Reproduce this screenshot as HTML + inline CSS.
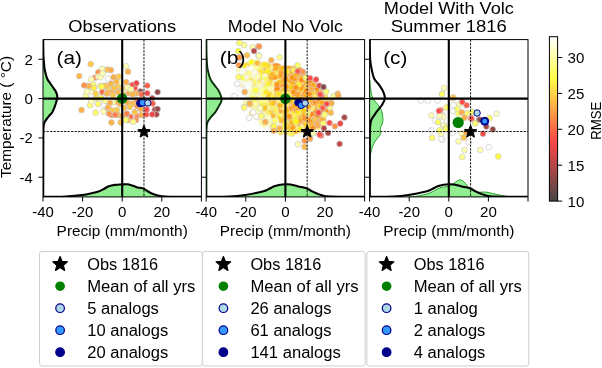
<!DOCTYPE html><html><head><meta charset="utf-8"><style>html,body{margin:0;padding:0;background:#fff;overflow:hidden}svg{display:block;will-change:transform}</style></head><body><svg width="602" height="368" viewBox="0 0 602 368" font-family="Liberation Sans, sans-serif" fill="#000">
<rect width="602" height="368" fill="#fff"/>
<defs>
<clipPath id="clipa"><rect x="43.0" y="39.6" width="158.4" height="157.3"/></clipPath>
<clipPath id="clipb"><rect x="206.2" y="39.6" width="158.4" height="157.3"/></clipPath>
<clipPath id="clipc"><rect x="369.6" y="39.6" width="158.4" height="157.3"/></clipPath>
<linearGradient id="cbar" x1="0" y1="1" x2="0" y2="0">
<stop offset="0.000" stop-color="#474747"/>
<stop offset="0.050" stop-color="#614747"/>
<stop offset="0.100" stop-color="#7a4747"/>
<stop offset="0.150" stop-color="#934747"/>
<stop offset="0.200" stop-color="#ac4747"/>
<stop offset="0.250" stop-color="#c54747"/>
<stop offset="0.300" stop-color="#de4747"/>
<stop offset="0.350" stop-color="#f74747"/>
<stop offset="0.400" stop-color="#ff5847"/>
<stop offset="0.450" stop-color="#ff7047"/>
<stop offset="0.500" stop-color="#ff8847"/>
<stop offset="0.550" stop-color="#ffa147"/>
<stop offset="0.600" stop-color="#ffb947"/>
<stop offset="0.650" stop-color="#ffd147"/>
<stop offset="0.700" stop-color="#ffe947"/>
<stop offset="0.750" stop-color="#ffff4a"/>
<stop offset="0.800" stop-color="#ffff6e"/>
<stop offset="0.850" stop-color="#ffff93"/>
<stop offset="0.900" stop-color="#ffffb7"/>
<stop offset="0.950" stop-color="#ffffdb"/>
<stop offset="1.000" stop-color="#ffffff"/>
</linearGradient>
</defs>
<g clip-path="url(#clipa)">
<circle cx="152.2" cy="98.1" r="2.9" fill="#c54747" stroke="rgba(200,200,200,0.85)" stroke-width="0.8"/>
<circle cx="154.9" cy="109.5" r="2.9" fill="#b64747" stroke="rgba(200,200,200,0.85)" stroke-width="0.8"/>
<circle cx="156.5" cy="114.4" r="2.9" fill="#ac4747" stroke="rgba(200,200,200,0.85)" stroke-width="0.8"/>
<circle cx="157.6" cy="92.1" r="2.9" fill="#934747" stroke="rgba(200,200,200,0.85)" stroke-width="0.8"/>
<circle cx="140.4" cy="91.3" r="2.9" fill="#934747" stroke="rgba(200,200,200,0.85)" stroke-width="0.8"/>
<circle cx="157.6" cy="109.0" r="2.9" fill="#934747" stroke="rgba(200,200,200,0.85)" stroke-width="0.8"/>
<circle cx="137.0" cy="115.9" r="2.9" fill="#ff7d47" stroke="rgba(200,200,200,0.85)" stroke-width="0.8"/>
<circle cx="108.0" cy="88.0" r="2.9" fill="#ffd347" stroke="rgba(200,200,200,0.85)" stroke-width="0.8"/>
<circle cx="120.0" cy="104.0" r="2.9" fill="#ffb847" stroke="rgba(200,200,200,0.85)" stroke-width="0.8"/>
<circle cx="95.7" cy="112.7" r="2.9" fill="#ffff69" stroke="rgba(200,200,200,0.85)" stroke-width="0.8"/>
<circle cx="108.0" cy="78.8" r="2.9" fill="#ffffff" stroke="rgba(200,200,200,0.85)" stroke-width="0.8"/>
<circle cx="130.4" cy="117.0" r="2.9" fill="#ff5d47" stroke="rgba(200,200,200,0.85)" stroke-width="0.8"/>
<circle cx="116.3" cy="101.8" r="2.9" fill="#ffb347" stroke="rgba(200,200,200,0.85)" stroke-width="0.8"/>
<circle cx="127.2" cy="113.9" r="2.9" fill="#ff7d47" stroke="rgba(200,200,200,0.85)" stroke-width="0.8"/>
<circle cx="129.3" cy="106.8" r="2.9" fill="#ffc247" stroke="rgba(200,200,200,0.85)" stroke-width="0.8"/>
<circle cx="127.2" cy="90.0" r="2.9" fill="#ffffa1" stroke="rgba(200,200,200,0.85)" stroke-width="0.8"/>
<circle cx="128.0" cy="120.0" r="2.9" fill="#ffb847" stroke="rgba(200,200,200,0.85)" stroke-width="0.8"/>
<circle cx="127.7" cy="102.9" r="2.9" fill="#ffad47" stroke="rgba(200,200,200,0.85)" stroke-width="0.8"/>
<circle cx="130.4" cy="85.9" r="2.9" fill="#ff7d47" stroke="rgba(200,200,200,0.85)" stroke-width="0.8"/>
<circle cx="125.5" cy="119.7" r="2.9" fill="#ffff69" stroke="rgba(200,200,200,0.85)" stroke-width="0.8"/>
<circle cx="116.8" cy="110.0" r="2.9" fill="#ffc847" stroke="rgba(200,200,200,0.85)" stroke-width="0.8"/>
<circle cx="102.2" cy="85.9" r="2.9" fill="#fffc47" stroke="rgba(200,200,200,0.85)" stroke-width="0.8"/>
<circle cx="152.2" cy="114.4" r="2.9" fill="#f24747" stroke="rgba(200,200,200,0.85)" stroke-width="0.8"/>
<circle cx="137.0" cy="106.0" r="2.9" fill="#ff9447" stroke="rgba(200,200,200,0.85)" stroke-width="0.8"/>
<circle cx="107.5" cy="69.6" r="2.9" fill="#ffbd47" stroke="rgba(200,200,200,0.85)" stroke-width="0.8"/>
<circle cx="103.8" cy="105.1" r="2.9" fill="#ffffff" stroke="rgba(200,200,200,0.85)" stroke-width="0.8"/>
<circle cx="98.0" cy="104.0" r="2.9" fill="#ffff69" stroke="rgba(200,200,200,0.85)" stroke-width="0.8"/>
<circle cx="79.2" cy="76.1" r="2.9" fill="#ffb847" stroke="rgba(200,200,200,0.85)" stroke-width="0.8"/>
<circle cx="137.0" cy="100.0" r="2.9" fill="#ff9447" stroke="rgba(200,200,200,0.85)" stroke-width="0.8"/>
<circle cx="119.6" cy="82.6" r="2.9" fill="#ffffb1" stroke="rgba(200,200,200,0.85)" stroke-width="0.8"/>
<circle cx="134.8" cy="88.0" r="2.9" fill="#ff4e47" stroke="rgba(200,200,200,0.85)" stroke-width="0.8"/>
<circle cx="141.3" cy="115.0" r="2.9" fill="#ffad47" stroke="rgba(200,200,200,0.85)" stroke-width="0.8"/>
<circle cx="113.0" cy="102.4" r="2.9" fill="#ffffa1" stroke="rgba(200,200,200,0.85)" stroke-width="0.8"/>
<circle cx="107.6" cy="108.4" r="2.9" fill="#ffb847" stroke="rgba(200,200,200,0.85)" stroke-width="0.8"/>
<circle cx="91.8" cy="91.5" r="2.9" fill="#ffffc8" stroke="rgba(200,200,200,0.85)" stroke-width="0.8"/>
<circle cx="118.0" cy="92.0" r="2.9" fill="#ffb847" stroke="rgba(200,200,200,0.85)" stroke-width="0.8"/>
<circle cx="146.2" cy="114.4" r="2.9" fill="#ff4e47" stroke="rgba(200,200,200,0.85)" stroke-width="0.8"/>
<circle cx="109.8" cy="102.9" r="2.9" fill="#ffad47" stroke="rgba(200,200,200,0.85)" stroke-width="0.8"/>
<circle cx="100.4" cy="85.9" r="2.9" fill="#ffff69" stroke="rgba(200,200,200,0.85)" stroke-width="0.8"/>
<circle cx="104.8" cy="85.9" r="2.9" fill="#ffb847" stroke="rgba(200,200,200,0.85)" stroke-width="0.8"/>
<circle cx="90.7" cy="64.1" r="2.9" fill="#ffc847" stroke="rgba(200,200,200,0.85)" stroke-width="0.8"/>
<circle cx="87.9" cy="85.9" r="2.9" fill="#ffb347" stroke="rgba(200,200,200,0.85)" stroke-width="0.8"/>
<circle cx="146.7" cy="109.5" r="2.9" fill="#ff4747" stroke="rgba(200,200,200,0.85)" stroke-width="0.8"/>
<circle cx="132.6" cy="103.5" r="2.9" fill="#ffb847" stroke="rgba(200,200,200,0.85)" stroke-width="0.8"/>
<circle cx="136.0" cy="120.0" r="2.9" fill="#ff9447" stroke="rgba(200,200,200,0.85)" stroke-width="0.8"/>
<circle cx="108.2" cy="107.2" r="2.9" fill="#ffb347" stroke="rgba(200,200,200,0.85)" stroke-width="0.8"/>
<circle cx="147.3" cy="93.2" r="2.9" fill="#f24747" stroke="rgba(200,200,200,0.85)" stroke-width="0.8"/>
<circle cx="118.0" cy="115.0" r="2.9" fill="#ffb847" stroke="rgba(200,200,200,0.85)" stroke-width="0.8"/>
<circle cx="122.0" cy="88.0" r="2.9" fill="#ffc247" stroke="rgba(200,200,200,0.85)" stroke-width="0.8"/>
<circle cx="81.5" cy="110.0" r="2.9" fill="#ffb347" stroke="rgba(200,200,200,0.85)" stroke-width="0.8"/>
<circle cx="96.0" cy="98.0" r="2.9" fill="#ffee47" stroke="rgba(200,200,200,0.85)" stroke-width="0.8"/>
<circle cx="93.4" cy="84.8" r="2.9" fill="#ffff69" stroke="rgba(200,200,200,0.85)" stroke-width="0.8"/>
<circle cx="102.2" cy="92.0" r="2.9" fill="#ff6d47" stroke="rgba(200,200,200,0.85)" stroke-width="0.8"/>
<circle cx="118.5" cy="76.6" r="2.9" fill="#ffc847" stroke="rgba(200,200,200,0.85)" stroke-width="0.8"/>
<circle cx="120.7" cy="122.4" r="2.9" fill="#ffc247" stroke="rgba(200,200,200,0.85)" stroke-width="0.8"/>
<circle cx="95.7" cy="93.7" r="2.9" fill="#ffd347" stroke="rgba(200,200,200,0.85)" stroke-width="0.8"/>
<circle cx="89.1" cy="86.1" r="2.9" fill="#ffb347" stroke="rgba(200,200,200,0.85)" stroke-width="0.8"/>
<circle cx="111.4" cy="122.5" r="2.9" fill="#ffb347" stroke="rgba(200,200,200,0.85)" stroke-width="0.8"/>
<circle cx="126.1" cy="66.3" r="2.9" fill="#ffffb6" stroke="rgba(200,200,200,0.85)" stroke-width="0.8"/>
<circle cx="110.9" cy="83.7" r="2.9" fill="#ffb347" stroke="rgba(200,200,200,0.85)" stroke-width="0.8"/>
<circle cx="141.3" cy="94.3" r="2.9" fill="#ff6d47" stroke="rgba(200,200,200,0.85)" stroke-width="0.8"/>
<circle cx="124.0" cy="108.0" r="2.9" fill="#ffc247" stroke="rgba(200,200,200,0.85)" stroke-width="0.8"/>
<circle cx="117.4" cy="86.4" r="2.9" fill="#ffc847" stroke="rgba(200,200,200,0.85)" stroke-width="0.8"/>
<circle cx="112.0" cy="92.0" r="2.9" fill="#ffad47" stroke="rgba(200,200,200,0.85)" stroke-width="0.8"/>
<circle cx="111.4" cy="114.9" r="2.9" fill="#ff6d47" stroke="rgba(200,200,200,0.85)" stroke-width="0.8"/>
<circle cx="132.6" cy="84.8" r="2.9" fill="#ff4e47" stroke="rgba(200,200,200,0.85)" stroke-width="0.8"/>
<circle cx="106.0" cy="85.9" r="2.9" fill="#ffc247" stroke="rgba(200,200,200,0.85)" stroke-width="0.8"/>
<circle cx="112.0" cy="110.5" r="2.9" fill="#ffc847" stroke="rgba(200,200,200,0.85)" stroke-width="0.8"/>
<circle cx="110.9" cy="70.1" r="2.9" fill="#ffad47" stroke="rgba(200,200,200,0.85)" stroke-width="0.8"/>
<circle cx="127.7" cy="87.5" r="2.9" fill="#ffffa1" stroke="rgba(200,200,200,0.85)" stroke-width="0.8"/>
<circle cx="90.2" cy="105.1" r="2.9" fill="#ffff69" stroke="rgba(200,200,200,0.85)" stroke-width="0.8"/>
<circle cx="113.0" cy="95.3" r="2.9" fill="#ffc847" stroke="rgba(200,200,200,0.85)" stroke-width="0.8"/>
<circle cx="95.0" cy="77.7" r="2.9" fill="#ff9447" stroke="rgba(200,200,200,0.85)" stroke-width="0.8"/>
<circle cx="104.9" cy="100.8" r="2.9" fill="#ffff8f" stroke="rgba(200,200,200,0.85)" stroke-width="0.8"/>
<circle cx="126.6" cy="113.7" r="2.9" fill="#ff7d47" stroke="rgba(200,200,200,0.85)" stroke-width="0.8"/>
<circle cx="129.9" cy="106.7" r="2.9" fill="#ffc847" stroke="rgba(200,200,200,0.85)" stroke-width="0.8"/>
<circle cx="85.9" cy="95.9" r="2.9" fill="#ffff8f" stroke="rgba(200,200,200,0.85)" stroke-width="0.8"/>
<circle cx="126.1" cy="82.1" r="2.9" fill="#ffad47" stroke="rgba(200,200,200,0.85)" stroke-width="0.8"/>
<circle cx="102.1" cy="69.0" r="2.9" fill="#ffffb1" stroke="rgba(200,200,200,0.85)" stroke-width="0.8"/>
<circle cx="98.3" cy="72.3" r="2.9" fill="#ff9447" stroke="rgba(200,200,200,0.85)" stroke-width="0.8"/>
<circle cx="143.0" cy="100.0" r="2.9" fill="#ff4e47" stroke="rgba(200,200,200,0.85)" stroke-width="0.8"/>
<circle cx="136.4" cy="83.2" r="2.9" fill="#f24747" stroke="rgba(200,200,200,0.85)" stroke-width="0.8"/>
<circle cx="124.0" cy="95.0" r="2.9" fill="#ffad47" stroke="rgba(200,200,200,0.85)" stroke-width="0.8"/>
<circle cx="129.3" cy="93.2" r="2.9" fill="#ffad47" stroke="rgba(200,200,200,0.85)" stroke-width="0.8"/>
<circle cx="109.2" cy="113.8" r="2.9" fill="#ff9447" stroke="rgba(200,200,200,0.85)" stroke-width="0.8"/>
<circle cx="152.7" cy="103.5" r="2.9" fill="#ff5d47" stroke="rgba(200,200,200,0.85)" stroke-width="0.8"/>
<circle cx="122.0" cy="116.0" r="2.9" fill="#ffad47" stroke="rgba(200,200,200,0.85)" stroke-width="0.8"/>
<circle cx="101.1" cy="98.0" r="2.9" fill="#fffc47" stroke="rgba(200,200,200,0.85)" stroke-width="0.8"/>
<circle cx="131.0" cy="89.4" r="2.9" fill="#ffffa1" stroke="rgba(200,200,200,0.85)" stroke-width="0.8"/>
<circle cx="135.9" cy="93.2" r="2.9" fill="#ffad47" stroke="rgba(200,200,200,0.85)" stroke-width="0.8"/>
<circle cx="147.3" cy="85.6" r="2.9" fill="#ff5d47" stroke="rgba(200,200,200,0.85)" stroke-width="0.8"/>
<circle cx="106.5" cy="93.6" r="2.9" fill="#ffb847" stroke="rgba(200,200,200,0.85)" stroke-width="0.8"/>
<circle cx="113.6" cy="77.2" r="2.9" fill="#ffad47" stroke="rgba(200,200,200,0.85)" stroke-width="0.8"/>
<circle cx="115.2" cy="114.8" r="2.9" fill="#ff7d47" stroke="rgba(200,200,200,0.85)" stroke-width="0.8"/>
<circle cx="94.0" cy="88.0" r="2.9" fill="#ffee47" stroke="rgba(200,200,200,0.85)" stroke-width="0.8"/>
<circle cx="91.2" cy="79.3" r="2.9" fill="#ffffb1" stroke="rgba(200,200,200,0.85)" stroke-width="0.8"/>
<circle cx="134.8" cy="112.1" r="2.9" fill="#ffb847" stroke="rgba(200,200,200,0.85)" stroke-width="0.8"/>
<circle cx="132.6" cy="94.2" r="2.9" fill="#ffb847" stroke="rgba(200,200,200,0.85)" stroke-width="0.8"/>
<circle cx="103.3" cy="111.6" r="2.9" fill="#ffffb1" stroke="rgba(200,200,200,0.85)" stroke-width="0.8"/>
<circle cx="91.3" cy="101.3" r="2.9" fill="#ffffb6" stroke="rgba(200,200,200,0.85)" stroke-width="0.8"/>
<circle cx="101.6" cy="86.6" r="2.9" fill="#fffc47" stroke="rgba(200,200,200,0.85)" stroke-width="0.8"/>
<circle cx="107.6" cy="93.2" r="2.9" fill="#ffb347" stroke="rgba(200,200,200,0.85)" stroke-width="0.8"/>
<circle cx="98.3" cy="76.6" r="2.9" fill="#ffffb1" stroke="rgba(200,200,200,0.85)" stroke-width="0.8"/>
<circle cx="140.8" cy="109.0" r="2.9" fill="#ffad47" stroke="rgba(200,200,200,0.85)" stroke-width="0.8"/>
<circle cx="114.0" cy="88.0" r="2.9" fill="#ffc247" stroke="rgba(200,200,200,0.85)" stroke-width="0.8"/>
<circle cx="87.0" cy="91.5" r="2.9" fill="#ffffb1" stroke="rgba(200,200,200,0.85)" stroke-width="0.8"/>
<circle cx="128.0" cy="71.7" r="2.9" fill="#ffad47" stroke="rgba(200,200,200,0.85)" stroke-width="0.8"/>
<circle cx="100.5" cy="77.2" r="2.9" fill="#ffffb1" stroke="rgba(200,200,200,0.85)" stroke-width="0.8"/>
<circle cx="102.6" cy="73.4" r="2.9" fill="#ffffb1" stroke="rgba(200,200,200,0.85)" stroke-width="0.8"/>
<circle cx="84.1" cy="85.3" r="2.9" fill="#ff9447" stroke="rgba(200,200,200,0.85)" stroke-width="0.8"/>
<circle cx="116.3" cy="81.5" r="2.9" fill="#ffb847" stroke="rgba(200,200,200,0.85)" stroke-width="0.8"/>
<circle cx="133.2" cy="121.9" r="2.9" fill="#ffff8f" stroke="rgba(200,200,200,0.85)" stroke-width="0.8"/>
<circle cx="134.8" cy="112.2" r="2.9" fill="#ffc247" stroke="rgba(200,200,200,0.85)" stroke-width="0.8"/>
<path d="M43.20,39.60 C43.23,42.17 43.27,51.10 43.40,55.00 C43.53,58.90 43.77,60.50 44.00,63.00 C44.23,65.50 44.28,67.42 44.80,70.00 C45.32,72.58 46.23,76.33 47.10,78.50 C47.97,80.67 49.00,81.50 50.00,83.00 C51.00,84.50 52.13,86.08 53.10,87.50 C54.07,88.92 55.12,90.17 55.80,91.50 C56.48,92.83 57.00,94.25 57.20,95.50 C57.40,96.75 57.20,97.75 57.00,99.00 C56.80,100.25 56.37,101.75 56.00,103.00 C55.63,104.25 55.42,104.97 54.80,106.50 C54.18,108.03 53.18,110.70 52.30,112.20 C51.42,113.70 50.32,114.53 49.50,115.50 C48.68,116.47 48.15,117.00 47.40,118.00 C46.65,119.00 45.57,120.50 45.00,121.50 C44.43,122.50 44.25,122.92 44.00,124.00 C43.75,125.08 43.62,125.33 43.50,128.00 C43.38,130.67 43.35,128.52 43.30,140.00 C43.25,151.48 43.22,187.42 43.20,196.90 L43.00,196.90 L43.00,39.60 Z" fill="#90ee90" stroke="none"/>
<path d="M43.20,39.60 C43.23,42.17 43.27,51.10 43.40,55.00 C43.53,58.90 43.77,60.50 44.00,63.00 C44.23,65.50 44.28,67.42 44.80,70.00 C45.32,72.58 46.23,76.33 47.10,78.50 C47.97,80.67 49.00,81.50 50.00,83.00 C51.00,84.50 52.13,86.08 53.10,87.50 C54.07,88.92 55.12,90.17 55.80,91.50 C56.48,92.83 57.00,94.25 57.20,95.50 C57.40,96.75 57.20,97.75 57.00,99.00 C56.80,100.25 56.37,101.75 56.00,103.00 C55.63,104.25 55.42,104.97 54.80,106.50 C54.18,108.03 53.18,110.70 52.30,112.20 C51.42,113.70 50.32,114.53 49.50,115.50 C48.68,116.47 48.15,117.00 47.40,118.00 C46.65,119.00 45.57,120.50 45.00,121.50 C44.43,122.50 44.25,122.92 44.00,124.00 C43.75,125.08 43.62,125.33 43.50,128.00 C43.38,130.67 43.35,128.52 43.30,140.00 C43.25,151.48 43.22,187.42 43.20,196.90" fill="none" stroke="#000" stroke-width="2.1" stroke-linejoin="round"/>
<path d="M43.00,196.80 C46.17,196.78 55.48,197.00 62.00,196.70 C68.52,196.40 77.02,195.62 82.10,195.00 C87.18,194.38 89.78,193.58 92.50,193.00 C95.22,192.42 96.65,192.10 98.40,191.50 C100.15,190.90 101.27,190.27 103.00,189.40 C104.73,188.53 106.80,187.05 108.80,186.30 C110.80,185.55 112.87,185.20 115.00,184.90 C117.13,184.60 119.60,184.60 121.60,184.50 C123.60,184.40 125.27,184.15 127.00,184.30 C128.73,184.45 130.27,184.88 132.00,185.40 C133.73,185.92 135.52,186.87 137.40,187.40 C139.28,187.93 141.17,187.72 143.30,188.60 C145.43,189.48 148.08,191.63 150.20,192.70 C152.32,193.77 154.05,194.42 156.00,195.00 C157.95,195.58 159.57,195.92 161.90,196.20 C164.23,196.48 166.72,196.60 170.00,196.70 C173.28,196.80 176.37,196.78 181.60,196.80 C186.83,196.82 198.10,196.80 201.40,196.80 L201.40,196.90 L43.00,196.90 Z" fill="#90ee90" stroke="none"/>
<path d="M43.00,196.80 C46.17,196.78 55.48,197.00 62.00,196.70 C68.52,196.40 77.02,195.62 82.10,195.00 C87.18,194.38 89.78,193.58 92.50,193.00 C95.22,192.42 96.65,192.10 98.40,191.50 C100.15,190.90 101.27,190.27 103.00,189.40 C104.73,188.53 106.80,187.05 108.80,186.30 C110.80,185.55 112.87,185.20 115.00,184.90 C117.13,184.60 119.60,184.60 121.60,184.50 C123.60,184.40 125.27,184.15 127.00,184.30 C128.73,184.45 130.27,184.88 132.00,185.40 C133.73,185.92 135.52,186.87 137.40,187.40 C139.28,187.93 141.17,187.72 143.30,188.60 C145.43,189.48 148.08,191.63 150.20,192.70 C152.32,193.77 154.05,194.42 156.00,195.00 C157.95,195.58 159.57,195.92 161.90,196.20 C164.23,196.48 166.72,196.60 170.00,196.70 C173.28,196.80 176.37,196.78 181.60,196.80 C186.83,196.82 198.10,196.80 201.40,196.80" fill="none" stroke="#000" stroke-width="2.1" stroke-linejoin="round"/>
<line x1="43.0" y1="131.52" x2="201.4" y2="131.52" stroke="#000" stroke-width="0.9" stroke-dasharray="2.35,1.15"/>
<line x1="143.98" y1="39.6" x2="143.98" y2="196.9" stroke="#000" stroke-width="0.9" stroke-dasharray="2.35,1.15"/>
<circle cx="122.10" cy="98.60" r="5.3" fill="#008000"/>
<circle cx="140.20" cy="103.20" r="3.6" fill="#00008b" stroke="#00008b" stroke-width="1"/>
<circle cx="142.60" cy="102.70" r="3.3" fill="#3399ff" stroke="#00008b" stroke-width="1"/>
<circle cx="147.80" cy="103.00" r="3.2" fill="#add8e6" stroke="#00008b" stroke-width="1"/>
<line x1="43.0" y1="98.59" x2="201.4" y2="98.59" stroke="#000" stroke-width="2.1"/>
<line x1="122.20" y1="39.6" x2="122.20" y2="196.9" stroke="#000" stroke-width="2.1"/>
<path d="M143.98,125.22 L145.69,129.47 L150.26,129.78 L146.74,132.72 L147.86,137.16 L143.98,134.73 L140.10,137.16 L141.22,132.72 L137.70,129.78 L142.27,129.47Z" fill="#000" stroke="#000" stroke-width="1" stroke-linejoin="round"/>
</g>
<rect x="43.0" y="39.6" width="158.4" height="157.3" fill="none" stroke="#000" stroke-width="1.0"/>
<line x1="43.00" y1="196.9" x2="43.00" y2="201.5" stroke="#000" stroke-width="1.0"/>
<line x1="82.60" y1="196.9" x2="82.60" y2="201.5" stroke="#000" stroke-width="1.0"/>
<line x1="122.20" y1="196.9" x2="122.20" y2="201.5" stroke="#000" stroke-width="1.0"/>
<line x1="161.80" y1="196.9" x2="161.80" y2="201.5" stroke="#000" stroke-width="1.0"/>
<line x1="201.40" y1="196.9" x2="201.40" y2="201.5" stroke="#000" stroke-width="1.0"/>
<line x1="38.4" y1="59.26" x2="43.0" y2="59.26" stroke="#000" stroke-width="1.0"/>
<line x1="38.4" y1="98.59" x2="43.0" y2="98.59" stroke="#000" stroke-width="1.0"/>
<line x1="38.4" y1="137.91" x2="43.0" y2="137.91" stroke="#000" stroke-width="1.0"/>
<line x1="38.4" y1="177.24" x2="43.0" y2="177.24" stroke="#000" stroke-width="1.0"/>
<text x="43.00" y="217.00" font-size="13.99" text-anchor="middle" textLength="21.56" lengthAdjust="spacingAndGlyphs" >-40</text>
<text x="82.60" y="217.00" font-size="13.99" text-anchor="middle" textLength="21.56" lengthAdjust="spacingAndGlyphs" >-20</text>
<text x="122.20" y="217.00" font-size="13.99" text-anchor="middle" textLength="8.40" lengthAdjust="spacingAndGlyphs" >0</text>
<text x="161.80" y="217.00" font-size="13.99" text-anchor="middle" textLength="16.80" lengthAdjust="spacingAndGlyphs" >20</text>
<text x="122.20" y="235.90" font-size="14.36" text-anchor="middle" textLength="131.18" lengthAdjust="spacingAndGlyphs" >Precip (mm/month)</text>
<text x="56.60" y="64.00" font-size="19.28" text-anchor="start" textLength="25.35" lengthAdjust="spacingAndGlyphs" >(a)</text>
<rect x="39.5" y="251.5" width="162.9" height="114.5" rx="2.5" fill="#fff" fill-opacity="0.8" stroke="#cfcfcf" stroke-width="1"/>
<path d="M60.10,256.50 L62.09,261.46 L67.42,261.82 L63.32,265.25 L64.63,270.43 L60.10,267.59 L55.57,270.43 L56.88,265.25 L52.78,261.82 L58.11,261.46Z" fill="#000" stroke="#000" stroke-width="1.2" stroke-linejoin="round"/>
<text x="87.20" y="269.90" font-size="15.63" text-anchor="start" textLength="70.89" lengthAdjust="spacingAndGlyphs" >Obs 1816</text>
<circle cx="60.1" cy="286.20" r="4.8" fill="#008000"/>
<text x="87.20" y="291.90" font-size="15.63" text-anchor="start" textLength="108.18" lengthAdjust="spacingAndGlyphs" >Mean of all yrs</text>
<circle cx="60.1" cy="308.20" r="4.3" fill="#add8e6" stroke="#00008b" stroke-width="1.2"/>
<text x="87.20" y="313.90" font-size="15.63" text-anchor="start" textLength="71.67" lengthAdjust="spacingAndGlyphs" >5 analogs</text>
<circle cx="60.1" cy="330.20" r="4.3" fill="#3399ff" stroke="#00008b" stroke-width="1.2"/>
<text x="87.20" y="335.90" font-size="15.63" text-anchor="start" textLength="81.05" lengthAdjust="spacingAndGlyphs" >10 analogs</text>
<circle cx="60.1" cy="352.20" r="4.3" fill="#00008b" stroke="#00008b" stroke-width="1.2"/>
<text x="87.20" y="357.90" font-size="15.63" text-anchor="start" textLength="81.05" lengthAdjust="spacingAndGlyphs" >20 analogs</text>
<g clip-path="url(#clipb)">
<circle cx="288.1" cy="120.0" r="2.9" fill="#ff9c00" fill-opacity="0.7" stroke="rgba(230,230,230,0.5)" stroke-width="0.8"/>
<circle cx="307.8" cy="89.8" r="2.9" fill="#ff7b00" fill-opacity="0.7" stroke="rgba(230,230,230,0.5)" stroke-width="0.8"/>
<circle cx="285.1" cy="109.6" r="2.9" fill="#ffff8d" fill-opacity="0.7" stroke="rgba(230,230,230,0.5)" stroke-width="0.8"/>
<circle cx="285.3" cy="106.8" r="2.9" fill="#ff9500" fill-opacity="0.7" stroke="rgba(230,230,230,0.5)" stroke-width="0.8"/>
<circle cx="277.9" cy="86.2" r="2.9" fill="#ff7b00" fill-opacity="0.7" stroke="rgba(230,230,230,0.5)" stroke-width="0.8"/>
<circle cx="252.8" cy="62.5" r="2.9" fill="#fff800" fill-opacity="0.7" stroke="rgba(230,230,230,0.5)" stroke-width="0.8"/>
<circle cx="282.2" cy="88.6" r="2.9" fill="#ffba00" fill-opacity="0.7" stroke="rgba(230,230,230,0.5)" stroke-width="0.8"/>
<circle cx="256.6" cy="93.4" r="2.9" fill="#ffff95" fill-opacity="0.7" stroke="rgba(230,230,230,0.5)" stroke-width="0.8"/>
<circle cx="302.5" cy="78.1" r="2.9" fill="#ff7b00" fill-opacity="0.7" stroke="rgba(230,230,230,0.5)" stroke-width="0.8"/>
<circle cx="241.7" cy="84.9" r="2.9" fill="#ffb200" fill-opacity="0.7" stroke="rgba(230,230,230,0.5)" stroke-width="0.8"/>
<circle cx="293.2" cy="88.8" r="2.9" fill="#ffb600" fill-opacity="0.7" stroke="rgba(230,230,230,0.5)" stroke-width="0.8"/>
<circle cx="297.6" cy="115.9" r="2.9" fill="#ffa200" fill-opacity="0.7" stroke="rgba(230,230,230,0.5)" stroke-width="0.8"/>
<circle cx="273.0" cy="82.9" r="2.9" fill="#ff9800" fill-opacity="0.7" stroke="rgba(230,230,230,0.5)" stroke-width="0.8"/>
<circle cx="285.0" cy="79.3" r="2.9" fill="#ffff13" fill-opacity="0.7" stroke="rgba(230,230,230,0.5)" stroke-width="0.8"/>
<circle cx="244.9" cy="73.1" r="2.9" fill="#fffa00" fill-opacity="0.7" stroke="rgba(230,230,230,0.5)" stroke-width="0.8"/>
<circle cx="274.4" cy="128.1" r="2.9" fill="#ff9800" fill-opacity="0.7" stroke="rgba(230,230,230,0.5)" stroke-width="0.8"/>
<circle cx="309.6" cy="80.4" r="2.9" fill="#ff7c00" fill-opacity="0.7" stroke="rgba(230,230,230,0.5)" stroke-width="0.8"/>
<circle cx="271.2" cy="107.8" r="2.9" fill="#ffab00" fill-opacity="0.7" stroke="rgba(230,230,230,0.5)" stroke-width="0.8"/>
<circle cx="284.3" cy="102.1" r="2.9" fill="#ffffa9" fill-opacity="0.7" stroke="rgba(230,230,230,0.5)" stroke-width="0.8"/>
<circle cx="306.9" cy="85.3" r="2.9" fill="#ff9c00" fill-opacity="0.7" stroke="rgba(230,230,230,0.5)" stroke-width="0.8"/>
<circle cx="275.7" cy="127.9" r="2.9" fill="#ffff8d" fill-opacity="0.7" stroke="rgba(230,230,230,0.5)" stroke-width="0.8"/>
<circle cx="281.3" cy="90.4" r="2.9" fill="#ffad00" fill-opacity="0.7" stroke="rgba(230,230,230,0.5)" stroke-width="0.8"/>
<circle cx="282.1" cy="77.4" r="2.9" fill="#ffff9c" fill-opacity="0.7" stroke="rgba(230,230,230,0.5)" stroke-width="0.8"/>
<circle cx="283.3" cy="92.1" r="2.9" fill="#ffd700" fill-opacity="0.7" stroke="rgba(230,230,230,0.5)" stroke-width="0.8"/>
<circle cx="281.5" cy="92.0" r="2.9" fill="#ffdb00" fill-opacity="0.7" stroke="rgba(230,230,230,0.5)" stroke-width="0.8"/>
<circle cx="307.3" cy="86.0" r="2.9" fill="#ff7b00" fill-opacity="0.7" stroke="rgba(230,230,230,0.5)" stroke-width="0.8"/>
<circle cx="328.7" cy="105.6" r="2.9" fill="#ff7b00" fill-opacity="0.7" stroke="rgba(230,230,230,0.5)" stroke-width="0.8"/>
<circle cx="273.0" cy="71.5" r="2.9" fill="#ffd500" fill-opacity="0.7" stroke="rgba(230,230,230,0.5)" stroke-width="0.8"/>
<circle cx="267.7" cy="73.8" r="2.9" fill="#ff8c00" fill-opacity="0.7" stroke="rgba(230,230,230,0.5)" stroke-width="0.8"/>
<circle cx="274.9" cy="117.2" r="2.9" fill="#ffeb00" fill-opacity="0.7" stroke="rgba(230,230,230,0.5)" stroke-width="0.8"/>
<circle cx="254.1" cy="108.4" r="2.9" fill="#ffffb0" fill-opacity="0.7" stroke="rgba(230,230,230,0.5)" stroke-width="0.8"/>
<circle cx="304.6" cy="119.0" r="2.9" fill="#ff9d00" fill-opacity="0.7" stroke="rgba(230,230,230,0.5)" stroke-width="0.8"/>
<circle cx="282.8" cy="94.1" r="2.9" fill="#ff8100" fill-opacity="0.7" stroke="rgba(230,230,230,0.5)" stroke-width="0.8"/>
<circle cx="300.7" cy="122.4" r="2.9" fill="#ffb600" fill-opacity="0.7" stroke="rgba(230,230,230,0.5)" stroke-width="0.8"/>
<circle cx="280.8" cy="89.8" r="2.9" fill="#ff9800" fill-opacity="0.7" stroke="rgba(230,230,230,0.5)" stroke-width="0.8"/>
<circle cx="268.3" cy="87.0" r="2.9" fill="#ffa900" fill-opacity="0.7" stroke="rgba(230,230,230,0.5)" stroke-width="0.8"/>
<circle cx="293.7" cy="96.0" r="2.9" fill="#ff7b00" fill-opacity="0.7" stroke="rgba(230,230,230,0.5)" stroke-width="0.8"/>
<circle cx="310.3" cy="80.3" r="2.9" fill="#ff7b00" fill-opacity="0.7" stroke="rgba(230,230,230,0.5)" stroke-width="0.8"/>
<circle cx="273.5" cy="108.1" r="2.9" fill="#ffb100" fill-opacity="0.7" stroke="rgba(230,230,230,0.5)" stroke-width="0.8"/>
<circle cx="307.7" cy="88.9" r="2.9" fill="#ffba00" fill-opacity="0.7" stroke="rgba(230,230,230,0.5)" stroke-width="0.8"/>
<circle cx="286.7" cy="90.4" r="2.9" fill="#ff7b00" fill-opacity="0.7" stroke="rgba(230,230,230,0.5)" stroke-width="0.8"/>
<circle cx="270.9" cy="89.8" r="2.9" fill="#ffff7a" fill-opacity="0.7" stroke="rgba(230,230,230,0.5)" stroke-width="0.8"/>
<circle cx="291.4" cy="81.1" r="2.9" fill="#ffb000" fill-opacity="0.7" stroke="rgba(230,230,230,0.5)" stroke-width="0.8"/>
<circle cx="307.7" cy="92.0" r="2.9" fill="#ff7b00" fill-opacity="0.7" stroke="rgba(230,230,230,0.5)" stroke-width="0.8"/>
<circle cx="277.3" cy="111.2" r="2.9" fill="#ffff7e" fill-opacity="0.7" stroke="rgba(230,230,230,0.5)" stroke-width="0.8"/>
<circle cx="265.5" cy="102.5" r="2.9" fill="#fffc00" fill-opacity="0.7" stroke="rgba(230,230,230,0.5)" stroke-width="0.8"/>
<circle cx="269.5" cy="119.8" r="2.9" fill="#ffffbe" fill-opacity="0.7" stroke="rgba(230,230,230,0.5)" stroke-width="0.8"/>
<circle cx="270.1" cy="96.6" r="2.9" fill="#ffff80" fill-opacity="0.7" stroke="rgba(230,230,230,0.5)" stroke-width="0.8"/>
<circle cx="271.9" cy="92.6" r="2.9" fill="#ffff7c" fill-opacity="0.7" stroke="rgba(230,230,230,0.5)" stroke-width="0.8"/>
<circle cx="246.6" cy="101.6" r="2.9" fill="#ffffff" fill-opacity="0.7" stroke="rgba(230,230,230,0.5)" stroke-width="0.8"/>
<circle cx="297.1" cy="68.2" r="2.9" fill="#ff9e00" fill-opacity="0.7" stroke="rgba(230,230,230,0.5)" stroke-width="0.8"/>
<circle cx="267.0" cy="106.4" r="2.9" fill="#ffff98" fill-opacity="0.7" stroke="rgba(230,230,230,0.5)" stroke-width="0.8"/>
<circle cx="290.8" cy="79.7" r="2.9" fill="#ff7e00" fill-opacity="0.7" stroke="rgba(230,230,230,0.5)" stroke-width="0.8"/>
<circle cx="304.8" cy="77.0" r="2.9" fill="#ffa100" fill-opacity="0.7" stroke="rgba(230,230,230,0.5)" stroke-width="0.8"/>
<circle cx="297.3" cy="89.4" r="2.9" fill="#ffff9a" fill-opacity="0.7" stroke="rgba(230,230,230,0.5)" stroke-width="0.8"/>
<circle cx="307.6" cy="107.7" r="2.9" fill="#ff8a00" fill-opacity="0.7" stroke="rgba(230,230,230,0.5)" stroke-width="0.8"/>
<circle cx="272.2" cy="74.3" r="2.9" fill="#ffb200" fill-opacity="0.7" stroke="rgba(230,230,230,0.5)" stroke-width="0.8"/>
<circle cx="305.5" cy="96.1" r="2.9" fill="#ffa200" fill-opacity="0.7" stroke="rgba(230,230,230,0.5)" stroke-width="0.8"/>
<circle cx="270.6" cy="86.3" r="2.9" fill="#fff200" fill-opacity="0.7" stroke="rgba(230,230,230,0.5)" stroke-width="0.8"/>
<circle cx="279.8" cy="120.3" r="2.9" fill="#ffb000" fill-opacity="0.7" stroke="rgba(230,230,230,0.5)" stroke-width="0.8"/>
<circle cx="309.3" cy="79.5" r="2.9" fill="#fffd00" fill-opacity="0.7" stroke="rgba(230,230,230,0.5)" stroke-width="0.8"/>
<circle cx="289.0" cy="103.0" r="2.9" fill="#ffff05" fill-opacity="0.7" stroke="rgba(230,230,230,0.5)" stroke-width="0.8"/>
<circle cx="272.0" cy="74.2" r="2.9" fill="#ff7b00" fill-opacity="0.7" stroke="rgba(230,230,230,0.5)" stroke-width="0.8"/>
<circle cx="273.0" cy="94.4" r="2.9" fill="#ffffff" fill-opacity="0.7" stroke="rgba(230,230,230,0.5)" stroke-width="0.8"/>
<circle cx="248.0" cy="100.0" r="2.9" fill="#ffff98" fill-opacity="0.7" stroke="rgba(230,230,230,0.5)" stroke-width="0.8"/>
<circle cx="277.2" cy="111.8" r="2.9" fill="#ffffff" fill-opacity="0.7" stroke="rgba(230,230,230,0.5)" stroke-width="0.8"/>
<circle cx="287.2" cy="92.8" r="2.9" fill="#ff7b00" fill-opacity="0.7" stroke="rgba(230,230,230,0.5)" stroke-width="0.8"/>
<circle cx="254.3" cy="110.1" r="2.9" fill="#ffffff" fill-opacity="0.7" stroke="rgba(230,230,230,0.5)" stroke-width="0.8"/>
<circle cx="282.9" cy="119.3" r="2.9" fill="#ffa100" fill-opacity="0.7" stroke="rgba(230,230,230,0.5)" stroke-width="0.8"/>
<circle cx="297.6" cy="95.2" r="2.9" fill="#ff9c00" fill-opacity="0.7" stroke="rgba(230,230,230,0.5)" stroke-width="0.8"/>
<circle cx="296.8" cy="98.5" r="2.9" fill="#ffac00" fill-opacity="0.7" stroke="rgba(230,230,230,0.5)" stroke-width="0.8"/>
<circle cx="291.8" cy="133.8" r="2.9" fill="#ffc200" fill-opacity="0.7" stroke="rgba(230,230,230,0.5)" stroke-width="0.8"/>
<circle cx="308.3" cy="107.2" r="2.9" fill="#ff8400" fill-opacity="0.7" stroke="rgba(230,230,230,0.5)" stroke-width="0.8"/>
<circle cx="303.5" cy="77.8" r="2.9" fill="#ffcc00" fill-opacity="0.7" stroke="rgba(230,230,230,0.5)" stroke-width="0.8"/>
<circle cx="268.2" cy="85.2" r="2.9" fill="#ffff38" fill-opacity="0.7" stroke="rgba(230,230,230,0.5)" stroke-width="0.8"/>
<circle cx="304.3" cy="113.1" r="2.9" fill="#ffdc00" fill-opacity="0.7" stroke="rgba(230,230,230,0.5)" stroke-width="0.8"/>
<circle cx="281.4" cy="75.9" r="2.9" fill="#ffd200" fill-opacity="0.7" stroke="rgba(230,230,230,0.5)" stroke-width="0.8"/>
<circle cx="292.6" cy="75.9" r="2.9" fill="#ffd400" fill-opacity="0.7" stroke="rgba(230,230,230,0.5)" stroke-width="0.8"/>
<circle cx="290.4" cy="75.8" r="2.9" fill="#ffaf00" fill-opacity="0.7" stroke="rgba(230,230,230,0.5)" stroke-width="0.8"/>
<circle cx="256.8" cy="77.5" r="2.9" fill="#ffff8e" fill-opacity="0.7" stroke="rgba(230,230,230,0.5)" stroke-width="0.8"/>
<circle cx="251.7" cy="95.8" r="2.9" fill="#ffdf00" fill-opacity="0.7" stroke="rgba(230,230,230,0.5)" stroke-width="0.8"/>
<circle cx="302.2" cy="80.5" r="2.9" fill="#ff9a00" fill-opacity="0.7" stroke="rgba(230,230,230,0.5)" stroke-width="0.8"/>
<circle cx="252.9" cy="88.1" r="2.9" fill="#ffffff" fill-opacity="0.7" stroke="rgba(230,230,230,0.5)" stroke-width="0.8"/>
<circle cx="306.3" cy="112.8" r="2.9" fill="#ff8d00" fill-opacity="0.7" stroke="rgba(230,230,230,0.5)" stroke-width="0.8"/>
<circle cx="284.1" cy="117.3" r="2.9" fill="#ffff9a" fill-opacity="0.7" stroke="rgba(230,230,230,0.5)" stroke-width="0.8"/>
<circle cx="246.8" cy="102.8" r="2.9" fill="#ffff31" fill-opacity="0.7" stroke="rgba(230,230,230,0.5)" stroke-width="0.8"/>
<circle cx="283.1" cy="69.4" r="2.9" fill="#fffc00" fill-opacity="0.7" stroke="rgba(230,230,230,0.5)" stroke-width="0.8"/>
<circle cx="303.7" cy="106.1" r="2.9" fill="#ff9d00" fill-opacity="0.7" stroke="rgba(230,230,230,0.5)" stroke-width="0.8"/>
<circle cx="287.0" cy="89.0" r="2.9" fill="#ffc300" fill-opacity="0.7" stroke="rgba(230,230,230,0.5)" stroke-width="0.8"/>
<circle cx="291.5" cy="104.2" r="2.9" fill="#ff9d00" fill-opacity="0.7" stroke="rgba(230,230,230,0.5)" stroke-width="0.8"/>
<circle cx="327.8" cy="100.6" r="2.9" fill="#ffda00" fill-opacity="0.7" stroke="rgba(230,230,230,0.5)" stroke-width="0.8"/>
<circle cx="277.5" cy="96.6" r="2.9" fill="#ffbe00" fill-opacity="0.7" stroke="rgba(230,230,230,0.5)" stroke-width="0.8"/>
<circle cx="288.9" cy="71.2" r="2.9" fill="#ff9900" fill-opacity="0.7" stroke="rgba(230,230,230,0.5)" stroke-width="0.8"/>
<circle cx="275.8" cy="94.7" r="2.9" fill="#ff7b00" fill-opacity="0.7" stroke="rgba(230,230,230,0.5)" stroke-width="0.8"/>
<circle cx="304.1" cy="101.6" r="2.9" fill="#ff7b00" fill-opacity="0.7" stroke="rgba(230,230,230,0.5)" stroke-width="0.8"/>
<circle cx="269.8" cy="95.6" r="2.9" fill="#ffff8b" fill-opacity="0.7" stroke="rgba(230,230,230,0.5)" stroke-width="0.8"/>
<circle cx="286.0" cy="122.7" r="2.9" fill="#ffea00" fill-opacity="0.7" stroke="rgba(230,230,230,0.5)" stroke-width="0.8"/>
<circle cx="264.0" cy="81.5" r="2.9" fill="#ffff90" fill-opacity="0.7" stroke="rgba(230,230,230,0.5)" stroke-width="0.8"/>
<circle cx="272.5" cy="111.8" r="2.9" fill="#ffffa9" fill-opacity="0.7" stroke="rgba(230,230,230,0.5)" stroke-width="0.8"/>
<circle cx="298.9" cy="115.3" r="2.9" fill="#ffa100" fill-opacity="0.7" stroke="rgba(230,230,230,0.5)" stroke-width="0.8"/>
<circle cx="285.8" cy="83.2" r="2.9" fill="#ff9000" fill-opacity="0.7" stroke="rgba(230,230,230,0.5)" stroke-width="0.8"/>
<circle cx="251.6" cy="83.9" r="2.9" fill="#ffdb00" fill-opacity="0.7" stroke="rgba(230,230,230,0.5)" stroke-width="0.8"/>
<circle cx="254.6" cy="97.9" r="2.9" fill="#ffffb8" fill-opacity="0.7" stroke="rgba(230,230,230,0.5)" stroke-width="0.8"/>
<circle cx="278.5" cy="122.4" r="2.9" fill="#ffff9c" fill-opacity="0.7" stroke="rgba(230,230,230,0.5)" stroke-width="0.8"/>
<circle cx="309.0" cy="82.9" r="2.9" fill="#ff7b00" fill-opacity="0.7" stroke="rgba(230,230,230,0.5)" stroke-width="0.8"/>
<circle cx="298.3" cy="101.2" r="2.9" fill="#ffce00" fill-opacity="0.7" stroke="rgba(230,230,230,0.5)" stroke-width="0.8"/>
<circle cx="295.2" cy="120.2" r="2.9" fill="#ffa700" fill-opacity="0.7" stroke="rgba(230,230,230,0.5)" stroke-width="0.8"/>
<circle cx="300.7" cy="77.1" r="2.9" fill="#ff7b00" fill-opacity="0.7" stroke="rgba(230,230,230,0.5)" stroke-width="0.8"/>
<circle cx="276.2" cy="125.0" r="2.9" fill="#ff9c00" fill-opacity="0.7" stroke="rgba(230,230,230,0.5)" stroke-width="0.8"/>
<circle cx="308.4" cy="81.4" r="2.9" fill="#ff7b00" fill-opacity="0.7" stroke="rgba(230,230,230,0.5)" stroke-width="0.8"/>
<circle cx="287.0" cy="99.2" r="2.9" fill="#ff8800" fill-opacity="0.7" stroke="rgba(230,230,230,0.5)" stroke-width="0.8"/>
<circle cx="288.8" cy="103.9" r="2.9" fill="#ffff22" fill-opacity="0.7" stroke="rgba(230,230,230,0.5)" stroke-width="0.8"/>
<circle cx="269.4" cy="126.0" r="2.9" fill="#ffffff" fill-opacity="0.7" stroke="rgba(230,230,230,0.5)" stroke-width="0.8"/>
<circle cx="294.3" cy="106.1" r="2.9" fill="#ff7b00" fill-opacity="0.7" stroke="rgba(230,230,230,0.5)" stroke-width="0.8"/>
<circle cx="251.1" cy="98.7" r="2.9" fill="#ffffff" fill-opacity="0.7" stroke="rgba(230,230,230,0.5)" stroke-width="0.8"/>
<circle cx="268.6" cy="89.8" r="2.9" fill="#ff7b00" fill-opacity="0.7" stroke="rgba(230,230,230,0.5)" stroke-width="0.8"/>
<circle cx="270.4" cy="97.9" r="2.9" fill="#ffff3a" fill-opacity="0.7" stroke="rgba(230,230,230,0.5)" stroke-width="0.8"/>
<circle cx="273.0" cy="100.7" r="2.9" fill="#ffff8d" fill-opacity="0.7" stroke="rgba(230,230,230,0.5)" stroke-width="0.8"/>
<circle cx="299.2" cy="123.8" r="2.9" fill="#ffff82" fill-opacity="0.7" stroke="rgba(230,230,230,0.5)" stroke-width="0.8"/>
<circle cx="249.4" cy="93.7" r="2.9" fill="#ffffff" fill-opacity="0.7" stroke="rgba(230,230,230,0.5)" stroke-width="0.8"/>
<circle cx="277.0" cy="114.3" r="2.9" fill="#ffff0c" fill-opacity="0.7" stroke="rgba(230,230,230,0.5)" stroke-width="0.8"/>
<circle cx="276.8" cy="126.7" r="2.9" fill="#ffffba" fill-opacity="0.7" stroke="rgba(230,230,230,0.5)" stroke-width="0.8"/>
<circle cx="280.6" cy="113.1" r="2.9" fill="#ff9700" fill-opacity="0.7" stroke="rgba(230,230,230,0.5)" stroke-width="0.8"/>
<circle cx="270.0" cy="113.0" r="2.9" fill="#ffff77" fill-opacity="0.7" stroke="rgba(230,230,230,0.5)" stroke-width="0.8"/>
<circle cx="262.6" cy="104.0" r="2.9" fill="#ffff95" fill-opacity="0.7" stroke="rgba(230,230,230,0.5)" stroke-width="0.8"/>
<circle cx="314.3" cy="114.1" r="2.9" fill="#ff8400" fill-opacity="0.7" stroke="rgba(230,230,230,0.5)" stroke-width="0.8"/>
<circle cx="275.3" cy="92.2" r="2.9" fill="#ffc200" fill-opacity="0.7" stroke="rgba(230,230,230,0.5)" stroke-width="0.8"/>
<circle cx="318.2" cy="126.8" r="2.9" fill="#fff700" fill-opacity="0.7" stroke="rgba(230,230,230,0.5)" stroke-width="0.8"/>
<circle cx="294.3" cy="90.1" r="2.9" fill="#ffdc00" fill-opacity="0.7" stroke="rgba(230,230,230,0.5)" stroke-width="0.8"/>
<circle cx="278.3" cy="99.7" r="2.9" fill="#ff7b00" fill-opacity="0.7" stroke="rgba(230,230,230,0.5)" stroke-width="0.8"/>
<circle cx="276.7" cy="123.8" r="2.9" fill="#ffb700" fill-opacity="0.7" stroke="rgba(230,230,230,0.5)" stroke-width="0.8"/>
<circle cx="253.2" cy="91.7" r="2.9" fill="#ffffff" fill-opacity="0.7" stroke="rgba(230,230,230,0.5)" stroke-width="0.8"/>
<circle cx="275.5" cy="92.8" r="2.9" fill="#ff9d00" fill-opacity="0.7" stroke="rgba(230,230,230,0.5)" stroke-width="0.8"/>
<circle cx="286.8" cy="89.0" r="2.9" fill="#ff7b00" fill-opacity="0.7" stroke="rgba(230,230,230,0.5)" stroke-width="0.8"/>
<circle cx="273.3" cy="89.9" r="2.9" fill="#ffa100" fill-opacity="0.7" stroke="rgba(230,230,230,0.5)" stroke-width="0.8"/>
<circle cx="261.4" cy="113.1" r="2.9" fill="#ffffff" fill-opacity="0.7" stroke="rgba(230,230,230,0.5)" stroke-width="0.8"/>
<circle cx="279.7" cy="86.5" r="2.9" fill="#ffed00" fill-opacity="0.7" stroke="rgba(230,230,230,0.5)" stroke-width="0.8"/>
<circle cx="281.0" cy="79.3" r="2.9" fill="#ffff80" fill-opacity="0.7" stroke="rgba(230,230,230,0.5)" stroke-width="0.8"/>
<circle cx="263.1" cy="80.4" r="2.9" fill="#ffbc00" fill-opacity="0.7" stroke="rgba(230,230,230,0.5)" stroke-width="0.8"/>
<circle cx="266.5" cy="90.2" r="2.9" fill="#ffff8b" fill-opacity="0.7" stroke="rgba(230,230,230,0.5)" stroke-width="0.8"/>
<circle cx="317.7" cy="108.3" r="2.9" fill="#ff9000" fill-opacity="0.7" stroke="rgba(230,230,230,0.5)" stroke-width="0.8"/>
<circle cx="258.5" cy="93.8" r="2.9" fill="#ffd900" fill-opacity="0.7" stroke="rgba(230,230,230,0.5)" stroke-width="0.8"/>
<circle cx="283.8" cy="114.6" r="2.9" fill="#fff900" fill-opacity="0.7" stroke="rgba(230,230,230,0.5)" stroke-width="0.8"/>
<circle cx="281.4" cy="79.9" r="2.9" fill="#ffac00" fill-opacity="0.7" stroke="rgba(230,230,230,0.5)" stroke-width="0.8"/>
<circle cx="288.4" cy="76.4" r="2.9" fill="#ff8900" fill-opacity="0.7" stroke="rgba(230,230,230,0.5)" stroke-width="0.8"/>
<circle cx="276.3" cy="71.7" r="2.9" fill="#ffff90" fill-opacity="0.7" stroke="rgba(230,230,230,0.5)" stroke-width="0.8"/>
<circle cx="299.3" cy="105.3" r="2.9" fill="#ffb500" fill-opacity="0.7" stroke="rgba(230,230,230,0.5)" stroke-width="0.8"/>
<circle cx="292.3" cy="100.8" r="2.9" fill="#ff7b00" fill-opacity="0.7" stroke="rgba(230,230,230,0.5)" stroke-width="0.8"/>
<circle cx="291.7" cy="106.9" r="2.9" fill="#ff7b00" fill-opacity="0.7" stroke="rgba(230,230,230,0.5)" stroke-width="0.8"/>
<circle cx="304.1" cy="108.3" r="2.9" fill="#ff7b00" fill-opacity="0.7" stroke="rgba(230,230,230,0.5)" stroke-width="0.8"/>
<circle cx="275.6" cy="88.9" r="2.9" fill="#ffa800" fill-opacity="0.7" stroke="rgba(230,230,230,0.5)" stroke-width="0.8"/>
<circle cx="294.6" cy="69.5" r="2.9" fill="#ff8800" fill-opacity="0.7" stroke="rgba(230,230,230,0.5)" stroke-width="0.8"/>
<circle cx="291.0" cy="109.5" r="2.9" fill="#ffba00" fill-opacity="0.7" stroke="rgba(230,230,230,0.5)" stroke-width="0.8"/>
<circle cx="280.7" cy="108.8" r="2.9" fill="#ff7b00" fill-opacity="0.7" stroke="rgba(230,230,230,0.5)" stroke-width="0.8"/>
<circle cx="306.5" cy="88.8" r="2.9" fill="#ff7b00" fill-opacity="0.7" stroke="rgba(230,230,230,0.5)" stroke-width="0.8"/>
<circle cx="241.0" cy="88.5" r="2.9" fill="#ffff91" fill-opacity="0.7" stroke="rgba(230,230,230,0.5)" stroke-width="0.8"/>
<circle cx="302.1" cy="77.3" r="2.9" fill="#ff7b00" fill-opacity="0.7" stroke="rgba(230,230,230,0.5)" stroke-width="0.8"/>
<circle cx="286.6" cy="82.8" r="2.9" fill="#ff7b00" fill-opacity="0.7" stroke="rgba(230,230,230,0.5)" stroke-width="0.8"/>
<circle cx="261.8" cy="91.7" r="2.9" fill="#ffff91" fill-opacity="0.7" stroke="rgba(230,230,230,0.5)" stroke-width="0.8"/>
<circle cx="311.3" cy="117.9" r="2.9" fill="#ffa300" fill-opacity="0.7" stroke="rgba(230,230,230,0.5)" stroke-width="0.8"/>
<circle cx="271.5" cy="77.8" r="2.9" fill="#ff7b00" fill-opacity="0.7" stroke="rgba(230,230,230,0.5)" stroke-width="0.8"/>
<circle cx="263.6" cy="103.4" r="2.9" fill="#ffff41" fill-opacity="0.7" stroke="rgba(230,230,230,0.5)" stroke-width="0.8"/>
<circle cx="294.1" cy="68.0" r="2.9" fill="#ffc000" fill-opacity="0.7" stroke="rgba(230,230,230,0.5)" stroke-width="0.8"/>
<circle cx="292.5" cy="95.8" r="2.9" fill="#ffbd00" fill-opacity="0.7" stroke="rgba(230,230,230,0.5)" stroke-width="0.8"/>
<circle cx="282.0" cy="84.9" r="2.9" fill="#ffff16" fill-opacity="0.7" stroke="rgba(230,230,230,0.5)" stroke-width="0.8"/>
<circle cx="262.8" cy="123.4" r="2.9" fill="#ffff72" fill-opacity="0.7" stroke="rgba(230,230,230,0.5)" stroke-width="0.8"/>
<circle cx="284.7" cy="76.7" r="2.9" fill="#ffe200" fill-opacity="0.7" stroke="rgba(230,230,230,0.5)" stroke-width="0.8"/>
<circle cx="268.0" cy="96.0" r="2.9" fill="#ffa500" fill-opacity="0.7" stroke="rgba(230,230,230,0.5)" stroke-width="0.8"/>
<circle cx="291.0" cy="98.7" r="2.9" fill="#ffd800" fill-opacity="0.7" stroke="rgba(230,230,230,0.5)" stroke-width="0.8"/>
<circle cx="292.9" cy="107.5" r="2.9" fill="#ffff2e" fill-opacity="0.7" stroke="rgba(230,230,230,0.5)" stroke-width="0.8"/>
<circle cx="277.4" cy="71.4" r="2.9" fill="#ff7b00" fill-opacity="0.7" stroke="rgba(230,230,230,0.5)" stroke-width="0.8"/>
<circle cx="301.0" cy="87.5" r="2.9" fill="#ffd200" fill-opacity="0.7" stroke="rgba(230,230,230,0.5)" stroke-width="0.8"/>
<circle cx="287.0" cy="74.8" r="2.9" fill="#ffdf00" fill-opacity="0.7" stroke="rgba(230,230,230,0.5)" stroke-width="0.8"/>
<circle cx="265.3" cy="78.1" r="2.9" fill="#ffff90" fill-opacity="0.7" stroke="rgba(230,230,230,0.5)" stroke-width="0.8"/>
<circle cx="273.1" cy="86.9" r="2.9" fill="#ffff5d" fill-opacity="0.7" stroke="rgba(230,230,230,0.5)" stroke-width="0.8"/>
<circle cx="286.3" cy="97.3" r="2.9" fill="#ff9c00" fill-opacity="0.7" stroke="rgba(230,230,230,0.5)" stroke-width="0.8"/>
<circle cx="272.0" cy="98.3" r="2.9" fill="#ffff27" fill-opacity="0.7" stroke="rgba(230,230,230,0.5)" stroke-width="0.8"/>
<circle cx="299.0" cy="85.0" r="2.9" fill="#ffa300" fill-opacity="0.7" stroke="rgba(230,230,230,0.5)" stroke-width="0.8"/>
<circle cx="296.5" cy="96.7" r="2.9" fill="#ffbf00" fill-opacity="0.7" stroke="rgba(230,230,230,0.5)" stroke-width="0.8"/>
<circle cx="308.2" cy="99.0" r="2.9" fill="#ff9800" fill-opacity="0.7" stroke="rgba(230,230,230,0.5)" stroke-width="0.8"/>
<circle cx="264.7" cy="101.6" r="2.9" fill="#ffff61" fill-opacity="0.7" stroke="rgba(230,230,230,0.5)" stroke-width="0.8"/>
<circle cx="279.2" cy="78.5" r="2.9" fill="#ffe500" fill-opacity="0.7" stroke="rgba(230,230,230,0.5)" stroke-width="0.8"/>
<circle cx="287.9" cy="103.7" r="2.9" fill="#ff9c00" fill-opacity="0.7" stroke="rgba(230,230,230,0.5)" stroke-width="0.8"/>
<circle cx="288.1" cy="81.8" r="2.9" fill="#ff8600" fill-opacity="0.7" stroke="rgba(230,230,230,0.5)" stroke-width="0.8"/>
<circle cx="291.1" cy="99.6" r="2.9" fill="#ffa500" fill-opacity="0.7" stroke="rgba(230,230,230,0.5)" stroke-width="0.8"/>
<circle cx="268.5" cy="100.3" r="2.9" fill="#ffac00" fill-opacity="0.7" stroke="rgba(230,230,230,0.5)" stroke-width="0.8"/>
<circle cx="303.0" cy="88.1" r="2.9" fill="#ff9500" fill-opacity="0.7" stroke="rgba(230,230,230,0.5)" stroke-width="0.8"/>
<circle cx="303.3" cy="106.1" r="2.9" fill="#ff7b00" fill-opacity="0.7" stroke="rgba(230,230,230,0.5)" stroke-width="0.8"/>
<circle cx="280.5" cy="102.3" r="2.9" fill="#ff9600" fill-opacity="0.7" stroke="rgba(230,230,230,0.5)" stroke-width="0.8"/>
<circle cx="285.0" cy="103.6" r="2.9" fill="#ffc900" fill-opacity="0.7" stroke="rgba(230,230,230,0.5)" stroke-width="0.8"/>
<circle cx="288.9" cy="99.8" r="2.9" fill="#ffff83" fill-opacity="0.7" stroke="rgba(230,230,230,0.5)" stroke-width="0.8"/>
<circle cx="296.7" cy="105.8" r="2.9" fill="#ff9800" fill-opacity="0.7" stroke="rgba(230,230,230,0.5)" stroke-width="0.8"/>
<circle cx="310.7" cy="91.3" r="2.9" fill="#ffab00" fill-opacity="0.7" stroke="rgba(230,230,230,0.5)" stroke-width="0.8"/>
<circle cx="283.9" cy="85.8" r="2.9" fill="#ffff6f" fill-opacity="0.7" stroke="rgba(230,230,230,0.5)" stroke-width="0.8"/>
<circle cx="294.9" cy="92.2" r="2.9" fill="#ff8900" fill-opacity="0.7" stroke="rgba(230,230,230,0.5)" stroke-width="0.8"/>
<circle cx="327.3" cy="109.9" r="2.9" fill="#ffa400" fill-opacity="0.7" stroke="rgba(230,230,230,0.5)" stroke-width="0.8"/>
<circle cx="269.2" cy="121.1" r="2.9" fill="#ffffa6" fill-opacity="0.7" stroke="rgba(230,230,230,0.5)" stroke-width="0.8"/>
<circle cx="280.1" cy="92.9" r="2.9" fill="#ff7b00" fill-opacity="0.7" stroke="rgba(230,230,230,0.5)" stroke-width="0.8"/>
<circle cx="300.3" cy="73.2" r="2.9" fill="#ffb400" fill-opacity="0.7" stroke="rgba(230,230,230,0.5)" stroke-width="0.8"/>
<circle cx="276.3" cy="82.6" r="2.9" fill="#ffe500" fill-opacity="0.7" stroke="rgba(230,230,230,0.5)" stroke-width="0.8"/>
<circle cx="290.6" cy="72.5" r="2.9" fill="#ff9900" fill-opacity="0.7" stroke="rgba(230,230,230,0.5)" stroke-width="0.8"/>
<circle cx="299.3" cy="90.0" r="2.9" fill="#ff7b00" fill-opacity="0.7" stroke="rgba(230,230,230,0.5)" stroke-width="0.8"/>
<circle cx="280.7" cy="75.8" r="2.9" fill="#ff9600" fill-opacity="0.7" stroke="rgba(230,230,230,0.5)" stroke-width="0.8"/>
<circle cx="287.0" cy="93.9" r="2.9" fill="#ffa400" fill-opacity="0.7" stroke="rgba(230,230,230,0.5)" stroke-width="0.8"/>
<circle cx="249.7" cy="102.0" r="2.9" fill="#ffffa0" fill-opacity="0.7" stroke="rgba(230,230,230,0.5)" stroke-width="0.8"/>
<circle cx="277.1" cy="98.1" r="2.9" fill="#ffffff" fill-opacity="0.7" stroke="rgba(230,230,230,0.5)" stroke-width="0.8"/>
<circle cx="257.7" cy="63.0" r="2.9" fill="#ffff8c" fill-opacity="0.7" stroke="rgba(230,230,230,0.5)" stroke-width="0.8"/>
<circle cx="268.7" cy="120.9" r="2.9" fill="#ffdf00" fill-opacity="0.7" stroke="rgba(230,230,230,0.5)" stroke-width="0.8"/>
<circle cx="275.4" cy="111.6" r="2.9" fill="#ffff96" fill-opacity="0.7" stroke="rgba(230,230,230,0.5)" stroke-width="0.8"/>
<circle cx="295.7" cy="104.1" r="2.9" fill="#ffa100" fill-opacity="0.7" stroke="rgba(230,230,230,0.5)" stroke-width="0.8"/>
<circle cx="276.4" cy="90.9" r="2.9" fill="#ffff92" fill-opacity="0.7" stroke="rgba(230,230,230,0.5)" stroke-width="0.8"/>
<circle cx="301.5" cy="95.4" r="2.9" fill="#ffa400" fill-opacity="0.7" stroke="rgba(230,230,230,0.5)" stroke-width="0.8"/>
<circle cx="304.2" cy="118.6" r="2.9" fill="#ff9e00" fill-opacity="0.7" stroke="rgba(230,230,230,0.5)" stroke-width="0.8"/>
<circle cx="284.3" cy="101.6" r="2.9" fill="#ffffff" fill-opacity="0.7" stroke="rgba(230,230,230,0.5)" stroke-width="0.8"/>
<circle cx="291.3" cy="120.3" r="2.9" fill="#ff7b00" fill-opacity="0.7" stroke="rgba(230,230,230,0.5)" stroke-width="0.8"/>
<circle cx="262.4" cy="82.4" r="2.9" fill="#ffff01" fill-opacity="0.7" stroke="rgba(230,230,230,0.5)" stroke-width="0.8"/>
<circle cx="289.9" cy="102.3" r="2.9" fill="#ffc000" fill-opacity="0.7" stroke="rgba(230,230,230,0.5)" stroke-width="0.8"/>
<circle cx="294.6" cy="108.3" r="2.9" fill="#ffff9b" fill-opacity="0.7" stroke="rgba(230,230,230,0.5)" stroke-width="0.8"/>
<circle cx="307.1" cy="106.5" r="2.9" fill="#ffa400" fill-opacity="0.7" stroke="rgba(230,230,230,0.5)" stroke-width="0.8"/>
<circle cx="265.1" cy="97.9" r="2.9" fill="#ff8a00" fill-opacity="0.7" stroke="rgba(230,230,230,0.5)" stroke-width="0.8"/>
<circle cx="269.0" cy="117.4" r="2.9" fill="#ffff2d" fill-opacity="0.7" stroke="rgba(230,230,230,0.5)" stroke-width="0.8"/>
<circle cx="289.6" cy="108.7" r="2.9" fill="#ff7e00" fill-opacity="0.7" stroke="rgba(230,230,230,0.5)" stroke-width="0.8"/>
<circle cx="291.9" cy="82.5" r="2.9" fill="#ff7b00" fill-opacity="0.7" stroke="rgba(230,230,230,0.5)" stroke-width="0.8"/>
<circle cx="280.0" cy="93.9" r="2.9" fill="#ffaa00" fill-opacity="0.7" stroke="rgba(230,230,230,0.5)" stroke-width="0.8"/>
<circle cx="271.6" cy="113.9" r="2.9" fill="#ffffff" fill-opacity="0.7" stroke="rgba(230,230,230,0.5)" stroke-width="0.8"/>
<circle cx="298.1" cy="93.1" r="2.9" fill="#ff7b00" fill-opacity="0.7" stroke="rgba(230,230,230,0.5)" stroke-width="0.8"/>
<circle cx="268.1" cy="73.1" r="2.9" fill="#ffe900" fill-opacity="0.7" stroke="rgba(230,230,230,0.5)" stroke-width="0.8"/>
<circle cx="305.9" cy="113.1" r="2.9" fill="#ff9d00" fill-opacity="0.7" stroke="rgba(230,230,230,0.5)" stroke-width="0.8"/>
<circle cx="277.6" cy="98.5" r="2.9" fill="#ffe800" fill-opacity="0.7" stroke="rgba(230,230,230,0.5)" stroke-width="0.8"/>
<circle cx="299.0" cy="124.2" r="2.9" fill="#ff9600" fill-opacity="0.7" stroke="rgba(230,230,230,0.5)" stroke-width="0.8"/>
<circle cx="247.2" cy="65.0" r="2.9" fill="#ffca00" fill-opacity="0.7" stroke="rgba(230,230,230,0.5)" stroke-width="0.8"/>
<circle cx="270.8" cy="116.9" r="2.9" fill="#ffff28" fill-opacity="0.7" stroke="rgba(230,230,230,0.5)" stroke-width="0.8"/>
<circle cx="289.3" cy="74.8" r="2.9" fill="#ffff96" fill-opacity="0.7" stroke="rgba(230,230,230,0.5)" stroke-width="0.8"/>
<circle cx="285.2" cy="82.8" r="2.9" fill="#ffffaa" fill-opacity="0.7" stroke="rgba(230,230,230,0.5)" stroke-width="0.8"/>
<circle cx="289.9" cy="103.2" r="2.9" fill="#ffa900" fill-opacity="0.7" stroke="rgba(230,230,230,0.5)" stroke-width="0.8"/>
<circle cx="267.9" cy="66.7" r="2.9" fill="#ffb800" fill-opacity="0.7" stroke="rgba(230,230,230,0.5)" stroke-width="0.8"/>
<circle cx="321.2" cy="103.3" r="2.9" fill="#ff7b00" fill-opacity="0.7" stroke="rgba(230,230,230,0.5)" stroke-width="0.8"/>
<circle cx="316.0" cy="94.7" r="2.9" fill="#ff7b00" fill-opacity="0.7" stroke="rgba(230,230,230,0.5)" stroke-width="0.8"/>
<circle cx="300.8" cy="105.2" r="2.9" fill="#ff9400" fill-opacity="0.7" stroke="rgba(230,230,230,0.5)" stroke-width="0.8"/>
<circle cx="290.7" cy="114.4" r="2.9" fill="#ffff91" fill-opacity="0.7" stroke="rgba(230,230,230,0.5)" stroke-width="0.8"/>
<circle cx="276.9" cy="103.5" r="2.9" fill="#ffc000" fill-opacity="0.7" stroke="rgba(230,230,230,0.5)" stroke-width="0.8"/>
<circle cx="281.5" cy="70.1" r="2.9" fill="#ffff76" fill-opacity="0.7" stroke="rgba(230,230,230,0.5)" stroke-width="0.8"/>
<circle cx="280.6" cy="116.8" r="2.9" fill="#ffffad" fill-opacity="0.7" stroke="rgba(230,230,230,0.5)" stroke-width="0.8"/>
<circle cx="259.9" cy="90.6" r="2.9" fill="#ffff9f" fill-opacity="0.7" stroke="rgba(230,230,230,0.5)" stroke-width="0.8"/>
<circle cx="287.1" cy="92.3" r="2.9" fill="#fffe00" fill-opacity="0.7" stroke="rgba(230,230,230,0.5)" stroke-width="0.8"/>
<circle cx="305.9" cy="83.3" r="2.9" fill="#ff8500" fill-opacity="0.7" stroke="rgba(230,230,230,0.5)" stroke-width="0.8"/>
<circle cx="300.1" cy="99.2" r="2.9" fill="#ffa200" fill-opacity="0.7" stroke="rgba(230,230,230,0.5)" stroke-width="0.8"/>
<circle cx="281.0" cy="100.3" r="2.9" fill="#ffca00" fill-opacity="0.7" stroke="rgba(230,230,230,0.5)" stroke-width="0.8"/>
<circle cx="287.4" cy="98.0" r="2.9" fill="#ff8f00" fill-opacity="0.7" stroke="rgba(230,230,230,0.5)" stroke-width="0.8"/>
<circle cx="294.2" cy="118.8" r="2.9" fill="#ffdd00" fill-opacity="0.7" stroke="rgba(230,230,230,0.5)" stroke-width="0.8"/>
<circle cx="301.8" cy="104.6" r="2.9" fill="#ff9f00" fill-opacity="0.7" stroke="rgba(230,230,230,0.5)" stroke-width="0.8"/>
<circle cx="294.4" cy="115.4" r="2.9" fill="#ffcb00" fill-opacity="0.7" stroke="rgba(230,230,230,0.5)" stroke-width="0.8"/>
<circle cx="263.0" cy="73.5" r="2.9" fill="#ffffb9" fill-opacity="0.7" stroke="rgba(230,230,230,0.5)" stroke-width="0.8"/>
<circle cx="265.1" cy="95.2" r="2.9" fill="#ffff91" fill-opacity="0.7" stroke="rgba(230,230,230,0.5)" stroke-width="0.8"/>
<circle cx="244.6" cy="92.9" r="2.9" fill="#ffff8d" fill-opacity="0.7" stroke="rgba(230,230,230,0.5)" stroke-width="0.8"/>
<circle cx="280.3" cy="96.8" r="2.9" fill="#ffd900" fill-opacity="0.7" stroke="rgba(230,230,230,0.5)" stroke-width="0.8"/>
<circle cx="256.8" cy="61.6" r="2.9" fill="#ffff92" fill-opacity="0.7" stroke="rgba(230,230,230,0.5)" stroke-width="0.8"/>
<circle cx="272.3" cy="71.7" r="2.9" fill="#ff7b00" fill-opacity="0.7" stroke="rgba(230,230,230,0.5)" stroke-width="0.8"/>
<circle cx="297.7" cy="70.0" r="2.9" fill="#ff7b00" fill-opacity="0.7" stroke="rgba(230,230,230,0.5)" stroke-width="0.8"/>
<circle cx="299.6" cy="101.1" r="2.9" fill="#ffbb00" fill-opacity="0.7" stroke="rgba(230,230,230,0.5)" stroke-width="0.8"/>
<circle cx="264.4" cy="89.0" r="2.9" fill="#ffc700" fill-opacity="0.7" stroke="rgba(230,230,230,0.5)" stroke-width="0.8"/>
<circle cx="305.4" cy="102.2" r="2.9" fill="#ff7b00" fill-opacity="0.7" stroke="rgba(230,230,230,0.5)" stroke-width="0.8"/>
<circle cx="298.4" cy="92.1" r="2.9" fill="#ff8200" fill-opacity="0.7" stroke="rgba(230,230,230,0.5)" stroke-width="0.8"/>
<circle cx="308.6" cy="116.7" r="2.9" fill="#ff7b00" fill-opacity="0.7" stroke="rgba(230,230,230,0.5)" stroke-width="0.8"/>
<circle cx="281.8" cy="91.8" r="2.9" fill="#ff8200" fill-opacity="0.7" stroke="rgba(230,230,230,0.5)" stroke-width="0.8"/>
<circle cx="273.5" cy="78.8" r="2.9" fill="#ffcb00" fill-opacity="0.7" stroke="rgba(230,230,230,0.5)" stroke-width="0.8"/>
<circle cx="312.2" cy="112.8" r="2.9" fill="#ff7b00" fill-opacity="0.7" stroke="rgba(230,230,230,0.5)" stroke-width="0.8"/>
<circle cx="251.9" cy="86.8" r="2.9" fill="#ffff56" fill-opacity="0.7" stroke="rgba(230,230,230,0.5)" stroke-width="0.8"/>
<circle cx="298.2" cy="89.0" r="2.9" fill="#ff7b00" fill-opacity="0.7" stroke="rgba(230,230,230,0.5)" stroke-width="0.8"/>
<circle cx="313.6" cy="88.6" r="2.9" fill="#ffa800" fill-opacity="0.7" stroke="rgba(230,230,230,0.5)" stroke-width="0.8"/>
<circle cx="277.0" cy="113.2" r="2.9" fill="#fffc00" fill-opacity="0.7" stroke="rgba(230,230,230,0.5)" stroke-width="0.8"/>
<circle cx="297.4" cy="94.9" r="2.9" fill="#ffffff" fill-opacity="0.7" stroke="rgba(230,230,230,0.5)" stroke-width="0.8"/>
<circle cx="300.0" cy="101.9" r="2.9" fill="#ffa300" fill-opacity="0.7" stroke="rgba(230,230,230,0.5)" stroke-width="0.8"/>
<circle cx="280.0" cy="109.9" r="2.9" fill="#ff9900" fill-opacity="0.7" stroke="rgba(230,230,230,0.5)" stroke-width="0.8"/>
<circle cx="286.9" cy="93.1" r="2.9" fill="#ff9a00" fill-opacity="0.7" stroke="rgba(230,230,230,0.5)" stroke-width="0.8"/>
<circle cx="293.3" cy="79.3" r="2.9" fill="#ff9e00" fill-opacity="0.7" stroke="rgba(230,230,230,0.5)" stroke-width="0.8"/>
<circle cx="279.4" cy="93.2" r="2.9" fill="#ffdc00" fill-opacity="0.7" stroke="rgba(230,230,230,0.5)" stroke-width="0.8"/>
<circle cx="323.6" cy="122.5" r="2.9" fill="#ffffa2" fill-opacity="0.7" stroke="rgba(230,230,230,0.5)" stroke-width="0.8"/>
<circle cx="271.5" cy="69.3" r="2.9" fill="#ffcf00" fill-opacity="0.7" stroke="rgba(230,230,230,0.5)" stroke-width="0.8"/>
<circle cx="291.7" cy="95.7" r="2.9" fill="#ff8e00" fill-opacity="0.7" stroke="rgba(230,230,230,0.5)" stroke-width="0.8"/>
<circle cx="301.2" cy="129.6" r="2.9" fill="#ffc300" fill-opacity="0.7" stroke="rgba(230,230,230,0.5)" stroke-width="0.8"/>
<circle cx="281.1" cy="119.0" r="2.9" fill="#ffd800" fill-opacity="0.7" stroke="rgba(230,230,230,0.5)" stroke-width="0.8"/>
<circle cx="278.3" cy="101.4" r="2.9" fill="#ff7b00" fill-opacity="0.7" stroke="rgba(230,230,230,0.5)" stroke-width="0.8"/>
<circle cx="297.5" cy="101.4" r="2.9" fill="#ffb600" fill-opacity="0.7" stroke="rgba(230,230,230,0.5)" stroke-width="0.8"/>
<circle cx="298.7" cy="101.1" r="2.9" fill="#ffffff" fill-opacity="0.7" stroke="rgba(230,230,230,0.5)" stroke-width="0.8"/>
<circle cx="258.2" cy="109.9" r="2.9" fill="#ffff95" fill-opacity="0.7" stroke="rgba(230,230,230,0.5)" stroke-width="0.8"/>
<circle cx="251.9" cy="97.9" r="2.9" fill="#ffff98" fill-opacity="0.7" stroke="rgba(230,230,230,0.5)" stroke-width="0.8"/>
<circle cx="290.2" cy="76.3" r="2.9" fill="#ffff23" fill-opacity="0.7" stroke="rgba(230,230,230,0.5)" stroke-width="0.8"/>
<circle cx="291.7" cy="69.6" r="2.9" fill="#ff7b00" fill-opacity="0.7" stroke="rgba(230,230,230,0.5)" stroke-width="0.8"/>
<circle cx="292.1" cy="71.9" r="2.9" fill="#ffa900" fill-opacity="0.7" stroke="rgba(230,230,230,0.5)" stroke-width="0.8"/>
<circle cx="293.3" cy="83.4" r="2.9" fill="#ff7b00" fill-opacity="0.7" stroke="rgba(230,230,230,0.5)" stroke-width="0.8"/>
<circle cx="257.4" cy="102.3" r="2.9" fill="#ffff68" fill-opacity="0.7" stroke="rgba(230,230,230,0.5)" stroke-width="0.8"/>
<circle cx="294.5" cy="108.7" r="2.9" fill="#ffb100" fill-opacity="0.7" stroke="rgba(230,230,230,0.5)" stroke-width="0.8"/>
<circle cx="292.9" cy="115.3" r="2.9" fill="#ffaf00" fill-opacity="0.7" stroke="rgba(230,230,230,0.5)" stroke-width="0.8"/>
<circle cx="293.6" cy="87.9" r="2.9" fill="#ffff91" fill-opacity="0.7" stroke="rgba(230,230,230,0.5)" stroke-width="0.8"/>
<circle cx="289.9" cy="111.9" r="2.9" fill="#ff7b00" fill-opacity="0.7" stroke="rgba(230,230,230,0.5)" stroke-width="0.8"/>
<circle cx="275.4" cy="72.6" r="2.9" fill="#ffb800" fill-opacity="0.7" stroke="rgba(230,230,230,0.5)" stroke-width="0.8"/>
<circle cx="276.4" cy="74.1" r="2.9" fill="#ffa500" fill-opacity="0.7" stroke="rgba(230,230,230,0.5)" stroke-width="0.8"/>
<circle cx="304.1" cy="116.5" r="2.9" fill="#ff8c00" fill-opacity="0.7" stroke="rgba(230,230,230,0.5)" stroke-width="0.8"/>
<circle cx="309.4" cy="82.7" r="2.9" fill="#ffa400" fill-opacity="0.7" stroke="rgba(230,230,230,0.5)" stroke-width="0.8"/>
<circle cx="267.2" cy="116.1" r="2.9" fill="#ffffff" fill-opacity="0.7" stroke="rgba(230,230,230,0.5)" stroke-width="0.8"/>
<circle cx="279.7" cy="119.6" r="2.9" fill="#ff9900" fill-opacity="0.7" stroke="rgba(230,230,230,0.5)" stroke-width="0.8"/>
<circle cx="284.6" cy="105.2" r="2.9" fill="#ff7b00" fill-opacity="0.7" stroke="rgba(230,230,230,0.5)" stroke-width="0.8"/>
<circle cx="285.8" cy="79.4" r="2.9" fill="#ffff30" fill-opacity="0.7" stroke="rgba(230,230,230,0.5)" stroke-width="0.8"/>
<circle cx="262.0" cy="101.6" r="2.9" fill="#ff9900" fill-opacity="0.7" stroke="rgba(230,230,230,0.5)" stroke-width="0.8"/>
<circle cx="277.2" cy="119.4" r="2.9" fill="#ffff1d" fill-opacity="0.7" stroke="rgba(230,230,230,0.5)" stroke-width="0.8"/>
<circle cx="257.5" cy="105.0" r="2.9" fill="#ffffff" fill-opacity="0.7" stroke="rgba(230,230,230,0.5)" stroke-width="0.8"/>
<circle cx="295.8" cy="114.9" r="2.9" fill="#ff7b00" fill-opacity="0.7" stroke="rgba(230,230,230,0.5)" stroke-width="0.8"/>
<circle cx="326.2" cy="109.3" r="2.9" fill="#ff7b00" fill-opacity="0.7" stroke="rgba(230,230,230,0.5)" stroke-width="0.8"/>
<circle cx="304.6" cy="90.4" r="2.9" fill="#ff7b00" fill-opacity="0.7" stroke="rgba(230,230,230,0.5)" stroke-width="0.8"/>
<circle cx="277.8" cy="117.5" r="2.9" fill="#ffba00" fill-opacity="0.7" stroke="rgba(230,230,230,0.5)" stroke-width="0.8"/>
<circle cx="298.6" cy="71.4" r="2.9" fill="#ff7b00" fill-opacity="0.7" stroke="rgba(230,230,230,0.5)" stroke-width="0.8"/>
<circle cx="275.3" cy="89.3" r="2.9" fill="#ffe500" fill-opacity="0.7" stroke="rgba(230,230,230,0.5)" stroke-width="0.8"/>
<circle cx="306.8" cy="86.8" r="2.9" fill="#ff7b00" fill-opacity="0.7" stroke="rgba(230,230,230,0.5)" stroke-width="0.8"/>
<circle cx="302.9" cy="103.6" r="2.9" fill="#ff9b00" fill-opacity="0.7" stroke="rgba(230,230,230,0.5)" stroke-width="0.8"/>
<circle cx="278.3" cy="113.0" r="2.9" fill="#ff8900" fill-opacity="0.7" stroke="rgba(230,230,230,0.5)" stroke-width="0.8"/>
<circle cx="306.3" cy="83.8" r="2.9" fill="#ff7e00" fill-opacity="0.7" stroke="rgba(230,230,230,0.5)" stroke-width="0.8"/>
<circle cx="275.8" cy="109.2" r="2.9" fill="#ffbb00" fill-opacity="0.7" stroke="rgba(230,230,230,0.5)" stroke-width="0.8"/>
<circle cx="282.7" cy="107.6" r="2.9" fill="#ffff43" fill-opacity="0.7" stroke="rgba(230,230,230,0.5)" stroke-width="0.8"/>
<circle cx="259.4" cy="99.1" r="2.9" fill="#ffff92" fill-opacity="0.7" stroke="rgba(230,230,230,0.5)" stroke-width="0.8"/>
<circle cx="284.4" cy="97.0" r="2.9" fill="#ffd600" fill-opacity="0.7" stroke="rgba(230,230,230,0.5)" stroke-width="0.8"/>
<circle cx="273.8" cy="92.0" r="2.9" fill="#ffff8e" fill-opacity="0.7" stroke="rgba(230,230,230,0.5)" stroke-width="0.8"/>
<circle cx="262.7" cy="93.4" r="2.9" fill="#ffbb00" fill-opacity="0.7" stroke="rgba(230,230,230,0.5)" stroke-width="0.8"/>
<circle cx="262.6" cy="86.7" r="2.9" fill="#ffff65" fill-opacity="0.7" stroke="rgba(230,230,230,0.5)" stroke-width="0.8"/>
<circle cx="319.4" cy="91.0" r="2.9" fill="#ffb300" fill-opacity="0.7" stroke="rgba(230,230,230,0.5)" stroke-width="0.8"/>
<circle cx="297.9" cy="96.4" r="2.9" fill="#ff7b00" fill-opacity="0.7" stroke="rgba(230,230,230,0.5)" stroke-width="0.8"/>
<circle cx="288.8" cy="96.1" r="2.9" fill="#ff7b00" fill-opacity="0.7" stroke="rgba(230,230,230,0.5)" stroke-width="0.8"/>
<circle cx="288.9" cy="124.5" r="2.9" fill="#ff9600" fill-opacity="0.7" stroke="rgba(230,230,230,0.5)" stroke-width="0.8"/>
<circle cx="274.8" cy="113.2" r="2.9" fill="#ff8e00" fill-opacity="0.7" stroke="rgba(230,230,230,0.5)" stroke-width="0.8"/>
<circle cx="263.3" cy="100.9" r="2.9" fill="#ffffbf" fill-opacity="0.7" stroke="rgba(230,230,230,0.5)" stroke-width="0.8"/>
<circle cx="312.8" cy="110.1" r="2.9" fill="#ffff91" fill-opacity="0.7" stroke="rgba(230,230,230,0.5)" stroke-width="0.8"/>
<circle cx="294.5" cy="69.2" r="2.9" fill="#ff8a00" fill-opacity="0.7" stroke="rgba(230,230,230,0.5)" stroke-width="0.8"/>
<circle cx="299.8" cy="102.4" r="2.9" fill="#ff7b00" fill-opacity="0.7" stroke="rgba(230,230,230,0.5)" stroke-width="0.8"/>
<circle cx="294.5" cy="79.1" r="2.9" fill="#ff9200" fill-opacity="0.7" stroke="rgba(230,230,230,0.5)" stroke-width="0.8"/>
<circle cx="318.2" cy="91.7" r="2.9" fill="#ff7b00" fill-opacity="0.7" stroke="rgba(230,230,230,0.5)" stroke-width="0.8"/>
<circle cx="283.4" cy="82.1" r="2.9" fill="#ffff9d" fill-opacity="0.7" stroke="rgba(230,230,230,0.5)" stroke-width="0.8"/>
<circle cx="304.2" cy="113.3" r="2.9" fill="#ff7b00" fill-opacity="0.7" stroke="rgba(230,230,230,0.5)" stroke-width="0.8"/>
<circle cx="271.9" cy="100.1" r="2.9" fill="#ff7b00" fill-opacity="0.7" stroke="rgba(230,230,230,0.5)" stroke-width="0.8"/>
<circle cx="288.2" cy="101.7" r="2.9" fill="#ff9300" fill-opacity="0.7" stroke="rgba(230,230,230,0.5)" stroke-width="0.8"/>
<circle cx="293.8" cy="109.0" r="2.9" fill="#ffff98" fill-opacity="0.7" stroke="rgba(230,230,230,0.5)" stroke-width="0.8"/>
<circle cx="294.7" cy="131.4" r="2.9" fill="#ffff0d" fill-opacity="0.7" stroke="rgba(230,230,230,0.5)" stroke-width="0.8"/>
<circle cx="281.8" cy="112.2" r="2.9" fill="#ffb500" fill-opacity="0.7" stroke="rgba(230,230,230,0.5)" stroke-width="0.8"/>
<circle cx="289.3" cy="107.5" r="2.9" fill="#ffff75" fill-opacity="0.7" stroke="rgba(230,230,230,0.5)" stroke-width="0.8"/>
<circle cx="314.5" cy="98.4" r="2.9" fill="#ff7b00" fill-opacity="0.7" stroke="rgba(230,230,230,0.5)" stroke-width="0.8"/>
<circle cx="268.2" cy="106.5" r="2.9" fill="#ffff8e" fill-opacity="0.7" stroke="rgba(230,230,230,0.5)" stroke-width="0.8"/>
<circle cx="301.0" cy="92.4" r="2.9" fill="#ffff2e" fill-opacity="0.7" stroke="rgba(230,230,230,0.5)" stroke-width="0.8"/>
<circle cx="280.3" cy="103.2" r="2.9" fill="#ffef00" fill-opacity="0.7" stroke="rgba(230,230,230,0.5)" stroke-width="0.8"/>
<circle cx="309.4" cy="81.2" r="2.9" fill="#ff7b00" fill-opacity="0.7" stroke="rgba(230,230,230,0.5)" stroke-width="0.8"/>
<circle cx="281.2" cy="81.8" r="2.9" fill="#ff9600" fill-opacity="0.7" stroke="rgba(230,230,230,0.5)" stroke-width="0.8"/>
<circle cx="259.5" cy="110.0" r="2.9" fill="#ffffff" fill-opacity="0.7" stroke="rgba(230,230,230,0.5)" stroke-width="0.8"/>
<circle cx="264.4" cy="110.4" r="2.9" fill="#ffcc00" fill-opacity="0.7" stroke="rgba(230,230,230,0.5)" stroke-width="0.8"/>
<circle cx="268.2" cy="88.7" r="2.9" fill="#ffff19" fill-opacity="0.7" stroke="rgba(230,230,230,0.5)" stroke-width="0.8"/>
<circle cx="257.1" cy="96.6" r="2.9" fill="#ffff7e" fill-opacity="0.7" stroke="rgba(230,230,230,0.5)" stroke-width="0.8"/>
<circle cx="271.7" cy="119.1" r="2.9" fill="#ff7b00" fill-opacity="0.7" stroke="rgba(230,230,230,0.5)" stroke-width="0.8"/>
<circle cx="272.3" cy="96.3" r="2.9" fill="#ffde00" fill-opacity="0.7" stroke="rgba(230,230,230,0.5)" stroke-width="0.8"/>
<circle cx="266.4" cy="92.1" r="2.9" fill="#ff9f00" fill-opacity="0.7" stroke="rgba(230,230,230,0.5)" stroke-width="0.8"/>
<circle cx="307.0" cy="110.3" r="2.9" fill="#ffbb00" fill-opacity="0.7" stroke="rgba(230,230,230,0.5)" stroke-width="0.8"/>
<circle cx="275.3" cy="73.0" r="2.9" fill="#ffd600" fill-opacity="0.7" stroke="rgba(230,230,230,0.5)" stroke-width="0.8"/>
<circle cx="250.4" cy="76.5" r="2.9" fill="#ffff90" fill-opacity="0.7" stroke="rgba(230,230,230,0.5)" stroke-width="0.8"/>
<circle cx="295.3" cy="96.8" r="2.9" fill="#ff7b00" fill-opacity="0.7" stroke="rgba(230,230,230,0.5)" stroke-width="0.8"/>
<circle cx="306.6" cy="78.4" r="2.9" fill="#ffff44" fill-opacity="0.7" stroke="rgba(230,230,230,0.5)" stroke-width="0.8"/>
<circle cx="283.0" cy="94.8" r="2.9" fill="#ff9600" fill-opacity="0.7" stroke="rgba(230,230,230,0.5)" stroke-width="0.8"/>
<circle cx="319.1" cy="97.0" r="2.9" fill="#ff8100" fill-opacity="0.7" stroke="rgba(230,230,230,0.5)" stroke-width="0.8"/>
<circle cx="265.6" cy="69.3" r="2.9" fill="#ffea00" fill-opacity="0.7" stroke="rgba(230,230,230,0.5)" stroke-width="0.8"/>
<circle cx="286.0" cy="125.9" r="2.9" fill="#ffa400" fill-opacity="0.7" stroke="rgba(230,230,230,0.5)" stroke-width="0.8"/>
<circle cx="277.7" cy="114.6" r="2.9" fill="#ffff92" fill-opacity="0.7" stroke="rgba(230,230,230,0.5)" stroke-width="0.8"/>
<circle cx="271.0" cy="124.1" r="2.9" fill="#ffff9c" fill-opacity="0.7" stroke="rgba(230,230,230,0.5)" stroke-width="0.8"/>
<circle cx="305.5" cy="101.8" r="2.9" fill="#ffce00" fill-opacity="0.7" stroke="rgba(230,230,230,0.5)" stroke-width="0.8"/>
<circle cx="276.7" cy="90.6" r="2.9" fill="#ffff8a" fill-opacity="0.7" stroke="rgba(230,230,230,0.5)" stroke-width="0.8"/>
<circle cx="294.5" cy="102.1" r="2.9" fill="#ffff28" fill-opacity="0.7" stroke="rgba(230,230,230,0.5)" stroke-width="0.8"/>
<circle cx="291.0" cy="103.0" r="2.9" fill="#ff7b00" fill-opacity="0.7" stroke="rgba(230,230,230,0.5)" stroke-width="0.8"/>
<circle cx="274.4" cy="111.3" r="2.9" fill="#ffb500" fill-opacity="0.7" stroke="rgba(230,230,230,0.5)" stroke-width="0.8"/>
<circle cx="279.5" cy="99.4" r="2.9" fill="#ffc500" fill-opacity="0.7" stroke="rgba(230,230,230,0.5)" stroke-width="0.8"/>
<circle cx="304.8" cy="104.3" r="2.9" fill="#ff9400" fill-opacity="0.7" stroke="rgba(230,230,230,0.5)" stroke-width="0.8"/>
<circle cx="309.7" cy="87.7" r="2.9" fill="#ff7b00" fill-opacity="0.7" stroke="rgba(230,230,230,0.5)" stroke-width="0.8"/>
<circle cx="292.9" cy="107.5" r="2.9" fill="#ffa700" fill-opacity="0.7" stroke="rgba(230,230,230,0.5)" stroke-width="0.8"/>
<circle cx="262.3" cy="84.6" r="2.9" fill="#ffff68" fill-opacity="0.7" stroke="rgba(230,230,230,0.5)" stroke-width="0.8"/>
<circle cx="300.8" cy="130.2" r="2.9" fill="#ffaa00" fill-opacity="0.7" stroke="rgba(230,230,230,0.5)" stroke-width="0.8"/>
<circle cx="313.9" cy="113.1" r="2.9" fill="#ff9500" fill-opacity="0.7" stroke="rgba(230,230,230,0.5)" stroke-width="0.8"/>
<circle cx="301.9" cy="79.3" r="2.9" fill="#fffb00" fill-opacity="0.7" stroke="rgba(230,230,230,0.5)" stroke-width="0.8"/>
<circle cx="302.6" cy="120.6" r="2.9" fill="#ffa100" fill-opacity="0.7" stroke="rgba(230,230,230,0.5)" stroke-width="0.8"/>
<circle cx="318.0" cy="94.2" r="2.9" fill="#ff7b00" fill-opacity="0.7" stroke="rgba(230,230,230,0.5)" stroke-width="0.8"/>
<circle cx="277.1" cy="75.5" r="2.9" fill="#ffc700" fill-opacity="0.7" stroke="rgba(230,230,230,0.5)" stroke-width="0.8"/>
<circle cx="270.0" cy="69.5" r="2.9" fill="#ffaa00" fill-opacity="0.7" stroke="rgba(230,230,230,0.5)" stroke-width="0.8"/>
<circle cx="280.8" cy="99.0" r="2.9" fill="#ffff42" fill-opacity="0.7" stroke="rgba(230,230,230,0.5)" stroke-width="0.8"/>
<circle cx="313.6" cy="103.1" r="2.9" fill="#ffff13" fill-opacity="0.7" stroke="rgba(230,230,230,0.5)" stroke-width="0.8"/>
<circle cx="281.4" cy="99.3" r="2.9" fill="#ff7b00" fill-opacity="0.7" stroke="rgba(230,230,230,0.5)" stroke-width="0.8"/>
<circle cx="273.3" cy="106.8" r="2.9" fill="#ffe500" fill-opacity="0.7" stroke="rgba(230,230,230,0.5)" stroke-width="0.8"/>
<circle cx="284.3" cy="72.0" r="2.9" fill="#ffa000" fill-opacity="0.7" stroke="rgba(230,230,230,0.5)" stroke-width="0.8"/>
<circle cx="273.5" cy="66.4" r="2.9" fill="#ff9f00" fill-opacity="0.7" stroke="rgba(230,230,230,0.5)" stroke-width="0.8"/>
<circle cx="275.6" cy="87.8" r="2.9" fill="#ffff76" fill-opacity="0.7" stroke="rgba(230,230,230,0.5)" stroke-width="0.8"/>
<circle cx="309.3" cy="103.2" r="2.9" fill="#ff7b00" fill-opacity="0.7" stroke="rgba(230,230,230,0.5)" stroke-width="0.8"/>
<circle cx="295.1" cy="95.4" r="2.9" fill="#ffaa00" fill-opacity="0.7" stroke="rgba(230,230,230,0.5)" stroke-width="0.8"/>
<circle cx="305.3" cy="83.0" r="2.9" fill="#ff7b00" fill-opacity="0.7" stroke="rgba(230,230,230,0.5)" stroke-width="0.8"/>
<circle cx="285.6" cy="93.8" r="2.9" fill="#ffa300" fill-opacity="0.7" stroke="rgba(230,230,230,0.5)" stroke-width="0.8"/>
<circle cx="319.4" cy="97.5" r="2.9" fill="#ff9600" fill-opacity="0.7" stroke="rgba(230,230,230,0.5)" stroke-width="0.8"/>
<circle cx="266.5" cy="93.0" r="2.9" fill="#ffff86" fill-opacity="0.7" stroke="rgba(230,230,230,0.5)" stroke-width="0.8"/>
<circle cx="284.2" cy="101.4" r="2.9" fill="#ff9500" fill-opacity="0.7" stroke="rgba(230,230,230,0.5)" stroke-width="0.8"/>
<circle cx="294.1" cy="74.6" r="2.9" fill="#ff7b00" fill-opacity="0.7" stroke="rgba(230,230,230,0.5)" stroke-width="0.8"/>
<circle cx="269.0" cy="98.5" r="2.9" fill="#ffffa3" fill-opacity="0.7" stroke="rgba(230,230,230,0.5)" stroke-width="0.8"/>
<circle cx="292.3" cy="77.5" r="2.9" fill="#ff9f00" fill-opacity="0.7" stroke="rgba(230,230,230,0.5)" stroke-width="0.8"/>
<circle cx="308.6" cy="109.4" r="2.9" fill="#ffab00" fill-opacity="0.7" stroke="rgba(230,230,230,0.5)" stroke-width="0.8"/>
<circle cx="261.2" cy="83.9" r="2.9" fill="#ffcb00" fill-opacity="0.7" stroke="rgba(230,230,230,0.5)" stroke-width="0.8"/>
<circle cx="275.5" cy="99.6" r="2.9" fill="#ffee00" fill-opacity="0.7" stroke="rgba(230,230,230,0.5)" stroke-width="0.8"/>
<circle cx="278.3" cy="106.2" r="2.9" fill="#ffab00" fill-opacity="0.7" stroke="rgba(230,230,230,0.5)" stroke-width="0.8"/>
<circle cx="278.7" cy="97.0" r="2.9" fill="#ff8400" fill-opacity="0.7" stroke="rgba(230,230,230,0.5)" stroke-width="0.8"/>
<circle cx="267.2" cy="67.2" r="2.9" fill="#ff9400" fill-opacity="0.7" stroke="rgba(230,230,230,0.5)" stroke-width="0.8"/>
<circle cx="282.9" cy="92.4" r="2.9" fill="#ffd600" fill-opacity="0.7" stroke="rgba(230,230,230,0.5)" stroke-width="0.8"/>
<circle cx="293.1" cy="72.4" r="2.9" fill="#ffff72" fill-opacity="0.7" stroke="rgba(230,230,230,0.5)" stroke-width="0.8"/>
<circle cx="270.8" cy="85.4" r="2.9" fill="#fffa00" fill-opacity="0.7" stroke="rgba(230,230,230,0.5)" stroke-width="0.8"/>
<circle cx="299.4" cy="95.0" r="2.9" fill="#ff7b00" fill-opacity="0.7" stroke="rgba(230,230,230,0.5)" stroke-width="0.8"/>
<circle cx="304.0" cy="80.0" r="2.9" fill="#ff9500" fill-opacity="0.7" stroke="rgba(230,230,230,0.5)" stroke-width="0.8"/>
<circle cx="306.2" cy="85.6" r="2.9" fill="#ffca00" fill-opacity="0.7" stroke="rgba(230,230,230,0.5)" stroke-width="0.8"/>
<circle cx="287.8" cy="126.4" r="2.9" fill="#ffec00" fill-opacity="0.7" stroke="rgba(230,230,230,0.5)" stroke-width="0.8"/>
<circle cx="317.5" cy="103.9" r="2.9" fill="#ff7b00" fill-opacity="0.7" stroke="rgba(230,230,230,0.5)" stroke-width="0.8"/>
<circle cx="309.4" cy="89.7" r="2.9" fill="#ffb000" fill-opacity="0.7" stroke="rgba(230,230,230,0.5)" stroke-width="0.8"/>
<circle cx="306.7" cy="115.8" r="2.9" fill="#ffff95" fill-opacity="0.7" stroke="rgba(230,230,230,0.5)" stroke-width="0.8"/>
<circle cx="301.4" cy="98.0" r="2.9" fill="#ffaa00" fill-opacity="0.7" stroke="rgba(230,230,230,0.5)" stroke-width="0.8"/>
<circle cx="285.1" cy="70.4" r="2.9" fill="#ffa500" fill-opacity="0.7" stroke="rgba(230,230,230,0.5)" stroke-width="0.8"/>
<circle cx="260.0" cy="89.3" r="2.9" fill="#ffff24" fill-opacity="0.7" stroke="rgba(230,230,230,0.5)" stroke-width="0.8"/>
<circle cx="273.9" cy="73.7" r="2.9" fill="#ffc400" fill-opacity="0.7" stroke="rgba(230,230,230,0.5)" stroke-width="0.8"/>
<circle cx="285.4" cy="122.3" r="2.9" fill="#ffff72" fill-opacity="0.7" stroke="rgba(230,230,230,0.5)" stroke-width="0.8"/>
<circle cx="306.6" cy="85.6" r="2.9" fill="#ff7b00" fill-opacity="0.7" stroke="rgba(230,230,230,0.5)" stroke-width="0.8"/>
<circle cx="258.6" cy="77.7" r="2.9" fill="#ffff94" fill-opacity="0.7" stroke="rgba(230,230,230,0.5)" stroke-width="0.8"/>
<circle cx="281.7" cy="92.1" r="2.9" fill="#ff9f00" fill-opacity="0.7" stroke="rgba(230,230,230,0.5)" stroke-width="0.8"/>
<circle cx="319.8" cy="93.8" r="2.9" fill="#ffc100" fill-opacity="0.7" stroke="rgba(230,230,230,0.5)" stroke-width="0.8"/>
<circle cx="285.1" cy="113.8" r="2.9" fill="#ff9b00" fill-opacity="0.7" stroke="rgba(230,230,230,0.5)" stroke-width="0.8"/>
<circle cx="256.6" cy="116.9" r="2.9" fill="#ffff98" fill-opacity="0.7" stroke="rgba(230,230,230,0.5)" stroke-width="0.8"/>
<circle cx="291.8" cy="112.3" r="2.9" fill="#ffff05" fill-opacity="0.7" stroke="rgba(230,230,230,0.5)" stroke-width="0.8"/>
<circle cx="291.9" cy="71.3" r="2.9" fill="#ff7b00" fill-opacity="0.7" stroke="rgba(230,230,230,0.5)" stroke-width="0.8"/>
<circle cx="286.7" cy="107.6" r="2.9" fill="#fffc00" fill-opacity="0.7" stroke="rgba(230,230,230,0.5)" stroke-width="0.8"/>
<circle cx="294.0" cy="79.6" r="2.9" fill="#ff9b00" fill-opacity="0.7" stroke="rgba(230,230,230,0.5)" stroke-width="0.8"/>
<circle cx="307.1" cy="77.8" r="2.9" fill="#ff7b00" fill-opacity="0.7" stroke="rgba(230,230,230,0.5)" stroke-width="0.8"/>
<circle cx="305.7" cy="126.5" r="2.9" fill="#ffbe00" fill-opacity="0.7" stroke="rgba(230,230,230,0.5)" stroke-width="0.8"/>
<circle cx="286.1" cy="76.0" r="2.9" fill="#ff9e00" fill-opacity="0.7" stroke="rgba(230,230,230,0.5)" stroke-width="0.8"/>
<circle cx="268.7" cy="97.7" r="2.9" fill="#ffff92" fill-opacity="0.7" stroke="rgba(230,230,230,0.5)" stroke-width="0.8"/>
<circle cx="295.9" cy="120.8" r="2.9" fill="#ff8700" fill-opacity="0.7" stroke="rgba(230,230,230,0.5)" stroke-width="0.8"/>
<circle cx="288.9" cy="73.7" r="2.9" fill="#ff9d00" fill-opacity="0.7" stroke="rgba(230,230,230,0.5)" stroke-width="0.8"/>
<circle cx="292.8" cy="114.1" r="2.9" fill="#ff8b00" fill-opacity="0.7" stroke="rgba(230,230,230,0.5)" stroke-width="0.8"/>
<circle cx="258.3" cy="106.3" r="2.9" fill="#ffff89" fill-opacity="0.7" stroke="rgba(230,230,230,0.5)" stroke-width="0.8"/>
<circle cx="310.7" cy="121.4" r="2.9" fill="#ffac00" fill-opacity="0.7" stroke="rgba(230,230,230,0.5)" stroke-width="0.8"/>
<circle cx="256.1" cy="84.5" r="2.9" fill="#ffffff" fill-opacity="0.7" stroke="rgba(230,230,230,0.5)" stroke-width="0.8"/>
<circle cx="305.6" cy="83.1" r="2.9" fill="#ffa000" fill-opacity="0.7" stroke="rgba(230,230,230,0.5)" stroke-width="0.8"/>
<circle cx="298.1" cy="105.1" r="2.9" fill="#ff7b00" fill-opacity="0.7" stroke="rgba(230,230,230,0.5)" stroke-width="0.8"/>
<circle cx="276.5" cy="114.8" r="2.9" fill="#ffff91" fill-opacity="0.7" stroke="rgba(230,230,230,0.5)" stroke-width="0.8"/>
<circle cx="292.2" cy="86.9" r="2.9" fill="#ffe000" fill-opacity="0.7" stroke="rgba(230,230,230,0.5)" stroke-width="0.8"/>
<circle cx="303.7" cy="92.5" r="2.9" fill="#ffff5c" fill-opacity="0.7" stroke="rgba(230,230,230,0.5)" stroke-width="0.8"/>
<circle cx="309.6" cy="95.5" r="2.9" fill="#ffad00" fill-opacity="0.7" stroke="rgba(230,230,230,0.5)" stroke-width="0.8"/>
<circle cx="300.7" cy="89.5" r="2.9" fill="#ffb900" fill-opacity="0.7" stroke="rgba(230,230,230,0.5)" stroke-width="0.8"/>
<circle cx="274.5" cy="90.4" r="2.9" fill="#ffff59" fill-opacity="0.7" stroke="rgba(230,230,230,0.5)" stroke-width="0.8"/>
<circle cx="258.8" cy="88.3" r="2.9" fill="#ffc800" fill-opacity="0.7" stroke="rgba(230,230,230,0.5)" stroke-width="0.8"/>
<circle cx="301.6" cy="83.6" r="2.9" fill="#ffff57" fill-opacity="0.7" stroke="rgba(230,230,230,0.5)" stroke-width="0.8"/>
<circle cx="289.6" cy="88.1" r="2.9" fill="#ffa400" fill-opacity="0.7" stroke="rgba(230,230,230,0.5)" stroke-width="0.8"/>
<circle cx="300.8" cy="124.6" r="2.9" fill="#ffffad" fill-opacity="0.7" stroke="rgba(230,230,230,0.5)" stroke-width="0.8"/>
<circle cx="275.8" cy="91.5" r="2.9" fill="#ffb900" fill-opacity="0.7" stroke="rgba(230,230,230,0.5)" stroke-width="0.8"/>
<circle cx="289.3" cy="108.0" r="2.9" fill="#ffa200" fill-opacity="0.7" stroke="rgba(230,230,230,0.5)" stroke-width="0.8"/>
<circle cx="273.8" cy="122.4" r="2.9" fill="#ffffff" fill-opacity="0.7" stroke="rgba(230,230,230,0.5)" stroke-width="0.8"/>
<circle cx="298.0" cy="79.8" r="2.9" fill="#ff7b00" fill-opacity="0.7" stroke="rgba(230,230,230,0.5)" stroke-width="0.8"/>
<circle cx="285.9" cy="105.3" r="2.9" fill="#ffb300" fill-opacity="0.7" stroke="rgba(230,230,230,0.5)" stroke-width="0.8"/>
<circle cx="283.8" cy="107.7" r="2.9" fill="#ffa300" fill-opacity="0.7" stroke="rgba(230,230,230,0.5)" stroke-width="0.8"/>
<circle cx="295.5" cy="110.6" r="2.9" fill="#ffe300" fill-opacity="0.7" stroke="rgba(230,230,230,0.5)" stroke-width="0.8"/>
<circle cx="298.6" cy="75.3" r="2.9" fill="#ff8000" fill-opacity="0.7" stroke="rgba(230,230,230,0.5)" stroke-width="0.8"/>
<circle cx="276.8" cy="109.3" r="2.9" fill="#ff8400" fill-opacity="0.7" stroke="rgba(230,230,230,0.5)" stroke-width="0.8"/>
<circle cx="300.3" cy="84.9" r="2.9" fill="#ff9900" fill-opacity="0.7" stroke="rgba(230,230,230,0.5)" stroke-width="0.8"/>
<circle cx="306.5" cy="129.0" r="2.9" fill="#ff7b00" fill-opacity="0.7" stroke="rgba(230,230,230,0.5)" stroke-width="0.8"/>
<circle cx="281.8" cy="81.6" r="2.9" fill="#ffea00" fill-opacity="0.7" stroke="rgba(230,230,230,0.5)" stroke-width="0.8"/>
<circle cx="283.8" cy="97.2" r="2.9" fill="#ff8600" fill-opacity="0.7" stroke="rgba(230,230,230,0.5)" stroke-width="0.8"/>
<circle cx="279.0" cy="73.1" r="2.9" fill="#ffad00" fill-opacity="0.7" stroke="rgba(230,230,230,0.5)" stroke-width="0.8"/>
<circle cx="251.6" cy="100.5" r="2.9" fill="#ffffff" fill-opacity="0.7" stroke="rgba(230,230,230,0.5)" stroke-width="0.8"/>
<circle cx="315.1" cy="111.2" r="2.9" fill="#ffff12" fill-opacity="0.7" stroke="rgba(230,230,230,0.5)" stroke-width="0.8"/>
<circle cx="285.4" cy="103.1" r="2.9" fill="#ff7b00" fill-opacity="0.7" stroke="rgba(230,230,230,0.5)" stroke-width="0.8"/>
<circle cx="275.4" cy="118.1" r="2.9" fill="#ff9800" fill-opacity="0.7" stroke="rgba(230,230,230,0.5)" stroke-width="0.8"/>
<circle cx="293.2" cy="94.2" r="2.9" fill="#ff9800" fill-opacity="0.7" stroke="rgba(230,230,230,0.5)" stroke-width="0.8"/>
<circle cx="293.2" cy="95.7" r="2.9" fill="#ff7b00" fill-opacity="0.7" stroke="rgba(230,230,230,0.5)" stroke-width="0.8"/>
<circle cx="319.1" cy="94.8" r="2.9" fill="#ffb000" fill-opacity="0.7" stroke="rgba(230,230,230,0.5)" stroke-width="0.8"/>
<circle cx="308.5" cy="102.1" r="2.9" fill="#ff9d00" fill-opacity="0.7" stroke="rgba(230,230,230,0.5)" stroke-width="0.8"/>
<circle cx="294.6" cy="80.8" r="2.9" fill="#ff9600" fill-opacity="0.7" stroke="rgba(230,230,230,0.5)" stroke-width="0.8"/>
<circle cx="281.5" cy="102.7" r="2.9" fill="#ffff9c" fill-opacity="0.7" stroke="rgba(230,230,230,0.5)" stroke-width="0.8"/>
<circle cx="311.6" cy="100.6" r="2.9" fill="#ffaa00" fill-opacity="0.7" stroke="rgba(230,230,230,0.5)" stroke-width="0.8"/>
<circle cx="280.2" cy="85.7" r="2.9" fill="#ff7b00" fill-opacity="0.7" stroke="rgba(230,230,230,0.5)" stroke-width="0.8"/>
<circle cx="258.6" cy="71.7" r="2.9" fill="#ffff09" fill-opacity="0.7" stroke="rgba(230,230,230,0.5)" stroke-width="0.8"/>
<circle cx="282.5" cy="103.9" r="2.9" fill="#ffff8f" fill-opacity="0.7" stroke="rgba(230,230,230,0.5)" stroke-width="0.8"/>
<circle cx="301.1" cy="92.4" r="2.9" fill="#ff7d00" fill-opacity="0.7" stroke="rgba(230,230,230,0.5)" stroke-width="0.8"/>
<circle cx="280.0" cy="107.4" r="2.9" fill="#ffa100" fill-opacity="0.7" stroke="rgba(230,230,230,0.5)" stroke-width="0.8"/>
<circle cx="253.6" cy="90.9" r="2.9" fill="#ffffff" fill-opacity="0.7" stroke="rgba(230,230,230,0.5)" stroke-width="0.8"/>
<circle cx="312.9" cy="107.2" r="2.9" fill="#ff7b00" fill-opacity="0.7" stroke="rgba(230,230,230,0.5)" stroke-width="0.8"/>
<circle cx="282.8" cy="109.3" r="2.9" fill="#ffff90" fill-opacity="0.7" stroke="rgba(230,230,230,0.5)" stroke-width="0.8"/>
<circle cx="281.6" cy="87.5" r="2.9" fill="#ffff1f" fill-opacity="0.7" stroke="rgba(230,230,230,0.5)" stroke-width="0.8"/>
<circle cx="283.5" cy="102.5" r="2.9" fill="#ffff94" fill-opacity="0.7" stroke="rgba(230,230,230,0.5)" stroke-width="0.8"/>
<circle cx="270.5" cy="78.1" r="2.9" fill="#ffa700" fill-opacity="0.7" stroke="rgba(230,230,230,0.5)" stroke-width="0.8"/>
<circle cx="308.6" cy="89.6" r="2.9" fill="#ff9400" fill-opacity="0.7" stroke="rgba(230,230,230,0.5)" stroke-width="0.8"/>
<circle cx="295.9" cy="78.9" r="2.9" fill="#ffda00" fill-opacity="0.7" stroke="rgba(230,230,230,0.5)" stroke-width="0.8"/>
<circle cx="271.7" cy="77.1" r="2.9" fill="#ff9f00" fill-opacity="0.7" stroke="rgba(230,230,230,0.5)" stroke-width="0.8"/>
<circle cx="260.8" cy="77.7" r="2.9" fill="#ffb800" fill-opacity="0.7" stroke="rgba(230,230,230,0.5)" stroke-width="0.8"/>
<circle cx="260.7" cy="91.6" r="2.9" fill="#ffff90" fill-opacity="0.7" stroke="rgba(230,230,230,0.5)" stroke-width="0.8"/>
<circle cx="273.5" cy="98.7" r="2.9" fill="#ffaa00" fill-opacity="0.7" stroke="rgba(230,230,230,0.5)" stroke-width="0.8"/>
<circle cx="291.0" cy="88.7" r="2.9" fill="#ff7b00" fill-opacity="0.7" stroke="rgba(230,230,230,0.5)" stroke-width="0.8"/>
<circle cx="288.2" cy="91.8" r="2.9" fill="#ff9100" fill-opacity="0.7" stroke="rgba(230,230,230,0.5)" stroke-width="0.8"/>
<circle cx="285.1" cy="105.7" r="2.9" fill="#ff8600" fill-opacity="0.7" stroke="rgba(230,230,230,0.5)" stroke-width="0.8"/>
<circle cx="275.1" cy="107.5" r="2.9" fill="#ffff0c" fill-opacity="0.7" stroke="rgba(230,230,230,0.5)" stroke-width="0.8"/>
<circle cx="258.7" cy="102.2" r="2.9" fill="#ffff75" fill-opacity="0.7" stroke="rgba(230,230,230,0.5)" stroke-width="0.8"/>
<circle cx="317.3" cy="106.5" r="2.9" fill="#ff7b00" fill-opacity="0.7" stroke="rgba(230,230,230,0.5)" stroke-width="0.8"/>
<circle cx="309.7" cy="95.2" r="2.9" fill="#ff7b00" fill-opacity="0.7" stroke="rgba(230,230,230,0.5)" stroke-width="0.8"/>
<circle cx="286.5" cy="99.4" r="2.9" fill="#ff9200" fill-opacity="0.7" stroke="rgba(230,230,230,0.5)" stroke-width="0.8"/>
<circle cx="277.7" cy="122.0" r="2.9" fill="#ffb200" fill-opacity="0.7" stroke="rgba(230,230,230,0.5)" stroke-width="0.8"/>
<circle cx="272.9" cy="110.3" r="2.9" fill="#ffb500" fill-opacity="0.7" stroke="rgba(230,230,230,0.5)" stroke-width="0.8"/>
<circle cx="281.6" cy="101.1" r="2.9" fill="#ff9a00" fill-opacity="0.7" stroke="rgba(230,230,230,0.5)" stroke-width="0.8"/>
<circle cx="279.2" cy="77.0" r="2.9" fill="#ffa500" fill-opacity="0.7" stroke="rgba(230,230,230,0.5)" stroke-width="0.8"/>
<circle cx="292.1" cy="95.2" r="2.9" fill="#ffb200" fill-opacity="0.7" stroke="rgba(230,230,230,0.5)" stroke-width="0.8"/>
<circle cx="294.2" cy="110.7" r="2.9" fill="#ff7b00" fill-opacity="0.7" stroke="rgba(230,230,230,0.5)" stroke-width="0.8"/>
<circle cx="288.5" cy="126.4" r="2.9" fill="#ffc900" fill-opacity="0.7" stroke="rgba(230,230,230,0.5)" stroke-width="0.8"/>
<circle cx="280.1" cy="95.1" r="2.9" fill="#ff9e00" fill-opacity="0.7" stroke="rgba(230,230,230,0.5)" stroke-width="0.8"/>
<circle cx="298.2" cy="94.8" r="2.9" fill="#ff9800" fill-opacity="0.7" stroke="rgba(230,230,230,0.5)" stroke-width="0.8"/>
<circle cx="302.2" cy="118.9" r="2.9" fill="#ff7b00" fill-opacity="0.7" stroke="rgba(230,230,230,0.5)" stroke-width="0.8"/>
<circle cx="275.0" cy="89.6" r="2.9" fill="#ff8200" fill-opacity="0.7" stroke="rgba(230,230,230,0.5)" stroke-width="0.8"/>
<circle cx="303.6" cy="120.2" r="2.9" fill="#ff7b00" fill-opacity="0.7" stroke="rgba(230,230,230,0.5)" stroke-width="0.8"/>
<circle cx="276.3" cy="68.7" r="2.9" fill="#fff800" fill-opacity="0.7" stroke="rgba(230,230,230,0.5)" stroke-width="0.8"/>
<circle cx="283.3" cy="91.5" r="2.9" fill="#ffe200" fill-opacity="0.7" stroke="rgba(230,230,230,0.5)" stroke-width="0.8"/>
<circle cx="302.7" cy="127.4" r="2.9" fill="#ffff78" fill-opacity="0.7" stroke="rgba(230,230,230,0.5)" stroke-width="0.8"/>
<circle cx="313.4" cy="96.8" r="2.9" fill="#ff7b00" fill-opacity="0.7" stroke="rgba(230,230,230,0.5)" stroke-width="0.8"/>
<circle cx="289.6" cy="90.1" r="2.9" fill="#ffa200" fill-opacity="0.7" stroke="rgba(230,230,230,0.5)" stroke-width="0.8"/>
<circle cx="300.1" cy="118.8" r="2.9" fill="#ff7b00" fill-opacity="0.7" stroke="rgba(230,230,230,0.5)" stroke-width="0.8"/>
<circle cx="269.8" cy="113.7" r="2.9" fill="#ffff73" fill-opacity="0.7" stroke="rgba(230,230,230,0.5)" stroke-width="0.8"/>
<circle cx="245.6" cy="82.2" r="2.9" fill="#ffffff" fill-opacity="0.7" stroke="rgba(230,230,230,0.5)" stroke-width="0.8"/>
<circle cx="274.1" cy="85.5" r="2.9" fill="#ffd000" fill-opacity="0.7" stroke="rgba(230,230,230,0.5)" stroke-width="0.8"/>
<circle cx="285.8" cy="81.3" r="2.9" fill="#ff7b00" fill-opacity="0.7" stroke="rgba(230,230,230,0.5)" stroke-width="0.8"/>
<circle cx="295.7" cy="119.5" r="2.9" fill="#ff7b00" fill-opacity="0.7" stroke="rgba(230,230,230,0.5)" stroke-width="0.8"/>
<circle cx="295.1" cy="114.9" r="2.9" fill="#ff8b00" fill-opacity="0.7" stroke="rgba(230,230,230,0.5)" stroke-width="0.8"/>
<circle cx="307.0" cy="127.3" r="2.9" fill="#ffff77" fill-opacity="0.7" stroke="rgba(230,230,230,0.5)" stroke-width="0.8"/>
<circle cx="264.1" cy="102.9" r="2.9" fill="#ffffff" fill-opacity="0.7" stroke="rgba(230,230,230,0.5)" stroke-width="0.8"/>
<circle cx="295.0" cy="127.6" r="2.9" fill="#ff7b00" fill-opacity="0.7" stroke="rgba(230,230,230,0.5)" stroke-width="0.8"/>
<circle cx="267.5" cy="84.5" r="2.9" fill="#ffff82" fill-opacity="0.7" stroke="rgba(230,230,230,0.5)" stroke-width="0.8"/>
<circle cx="265.6" cy="112.8" r="2.9" fill="#ffbc00" fill-opacity="0.7" stroke="rgba(230,230,230,0.5)" stroke-width="0.8"/>
<circle cx="298.4" cy="78.7" r="2.9" fill="#ff9200" fill-opacity="0.7" stroke="rgba(230,230,230,0.5)" stroke-width="0.8"/>
<circle cx="287.0" cy="78.9" r="2.9" fill="#ffc300" fill-opacity="0.7" stroke="rgba(230,230,230,0.5)" stroke-width="0.8"/>
<circle cx="319.5" cy="107.8" r="2.9" fill="#ff7b00" fill-opacity="0.7" stroke="rgba(230,230,230,0.5)" stroke-width="0.8"/>
<circle cx="294.0" cy="126.1" r="2.9" fill="#ff9600" fill-opacity="0.7" stroke="rgba(230,230,230,0.5)" stroke-width="0.8"/>
<circle cx="282.9" cy="76.5" r="2.9" fill="#ff9200" fill-opacity="0.7" stroke="rgba(230,230,230,0.5)" stroke-width="0.8"/>
<circle cx="264.2" cy="68.1" r="2.9" fill="#ffff34" fill-opacity="0.7" stroke="rgba(230,230,230,0.5)" stroke-width="0.8"/>
<circle cx="263.1" cy="80.5" r="2.9" fill="#ffa300" fill-opacity="0.7" stroke="rgba(230,230,230,0.5)" stroke-width="0.8"/>
<circle cx="289.3" cy="91.0" r="2.9" fill="#ffbd00" fill-opacity="0.7" stroke="rgba(230,230,230,0.5)" stroke-width="0.8"/>
<circle cx="256.4" cy="80.1" r="2.9" fill="#fffd00" fill-opacity="0.7" stroke="rgba(230,230,230,0.5)" stroke-width="0.8"/>
<circle cx="277.7" cy="88.0" r="2.9" fill="#ff9c00" fill-opacity="0.7" stroke="rgba(230,230,230,0.5)" stroke-width="0.8"/>
<circle cx="283.3" cy="127.9" r="2.9" fill="#ffb800" fill-opacity="0.7" stroke="rgba(230,230,230,0.5)" stroke-width="0.8"/>
<circle cx="249.6" cy="100.7" r="2.9" fill="#ffff71" fill-opacity="0.7" stroke="rgba(230,230,230,0.5)" stroke-width="0.8"/>
<circle cx="303.7" cy="115.9" r="2.9" fill="#ffff82" fill-opacity="0.7" stroke="rgba(230,230,230,0.5)" stroke-width="0.8"/>
<circle cx="321.3" cy="113.5" r="2.9" fill="#ffd500" fill-opacity="0.7" stroke="rgba(230,230,230,0.5)" stroke-width="0.8"/>
<circle cx="288.1" cy="88.0" r="2.9" fill="#ffa800" fill-opacity="0.7" stroke="rgba(230,230,230,0.5)" stroke-width="0.8"/>
<circle cx="272.4" cy="82.8" r="2.9" fill="#ffff01" fill-opacity="0.7" stroke="rgba(230,230,230,0.5)" stroke-width="0.8"/>
<circle cx="267.0" cy="111.2" r="2.9" fill="#fffc00" fill-opacity="0.7" stroke="rgba(230,230,230,0.5)" stroke-width="0.8"/>
<circle cx="301.2" cy="101.6" r="2.9" fill="#ff9f00" fill-opacity="0.7" stroke="rgba(230,230,230,0.5)" stroke-width="0.8"/>
<circle cx="274.1" cy="79.4" r="2.9" fill="#ffa400" fill-opacity="0.7" stroke="rgba(230,230,230,0.5)" stroke-width="0.8"/>
<circle cx="258.9" cy="81.6" r="2.9" fill="#ffec00" fill-opacity="0.7" stroke="rgba(230,230,230,0.5)" stroke-width="0.8"/>
<circle cx="283.0" cy="108.2" r="2.9" fill="#ffd500" fill-opacity="0.7" stroke="rgba(230,230,230,0.5)" stroke-width="0.8"/>
<circle cx="292.0" cy="130.1" r="2.9" fill="#ffed00" fill-opacity="0.7" stroke="rgba(230,230,230,0.5)" stroke-width="0.8"/>
<circle cx="298.8" cy="96.2" r="2.9" fill="#ff7b00" fill-opacity="0.7" stroke="rgba(230,230,230,0.5)" stroke-width="0.8"/>
<circle cx="310.0" cy="91.9" r="2.9" fill="#fff100" fill-opacity="0.7" stroke="rgba(230,230,230,0.5)" stroke-width="0.8"/>
<circle cx="261.8" cy="104.3" r="2.9" fill="#ffffff" fill-opacity="0.7" stroke="rgba(230,230,230,0.5)" stroke-width="0.8"/>
<circle cx="272.6" cy="102.2" r="2.9" fill="#ffffff" fill-opacity="0.7" stroke="rgba(230,230,230,0.5)" stroke-width="0.8"/>
<circle cx="295.8" cy="79.2" r="2.9" fill="#ff8800" fill-opacity="0.7" stroke="rgba(230,230,230,0.5)" stroke-width="0.8"/>
<circle cx="293.2" cy="83.5" r="2.9" fill="#ff8c00" fill-opacity="0.7" stroke="rgba(230,230,230,0.5)" stroke-width="0.8"/>
<circle cx="289.2" cy="70.5" r="2.9" fill="#ffff63" fill-opacity="0.7" stroke="rgba(230,230,230,0.5)" stroke-width="0.8"/>
<circle cx="273.3" cy="95.0" r="2.9" fill="#fffc00" fill-opacity="0.7" stroke="rgba(230,230,230,0.5)" stroke-width="0.8"/>
<circle cx="317.5" cy="87.8" r="2.9" fill="#ffff60" fill-opacity="0.7" stroke="rgba(230,230,230,0.5)" stroke-width="0.8"/>
<circle cx="327.2" cy="110.0" r="2.9" fill="#ff7b00" fill-opacity="0.7" stroke="rgba(230,230,230,0.5)" stroke-width="0.8"/>
<circle cx="257.6" cy="90.4" r="2.9" fill="#ffff93" fill-opacity="0.7" stroke="rgba(230,230,230,0.5)" stroke-width="0.8"/>
<circle cx="300.5" cy="119.8" r="2.9" fill="#ffcc00" fill-opacity="0.7" stroke="rgba(230,230,230,0.5)" stroke-width="0.8"/>
<circle cx="287.7" cy="103.3" r="2.9" fill="#ff7b00" fill-opacity="0.7" stroke="rgba(230,230,230,0.5)" stroke-width="0.8"/>
<circle cx="243.8" cy="81.2" r="2.9" fill="#ffff90" fill-opacity="0.7" stroke="rgba(230,230,230,0.5)" stroke-width="0.8"/>
<circle cx="259.4" cy="91.0" r="2.9" fill="#ffff86" fill-opacity="0.7" stroke="rgba(230,230,230,0.5)" stroke-width="0.8"/>
<circle cx="300.1" cy="103.1" r="2.9" fill="#ff8a00" fill-opacity="0.7" stroke="rgba(230,230,230,0.5)" stroke-width="0.8"/>
<circle cx="288.7" cy="120.8" r="2.9" fill="#ffbd00" fill-opacity="0.7" stroke="rgba(230,230,230,0.5)" stroke-width="0.8"/>
<circle cx="302.8" cy="90.9" r="2.9" fill="#ffe900" fill-opacity="0.7" stroke="rgba(230,230,230,0.5)" stroke-width="0.8"/>
<circle cx="314.0" cy="122.6" r="2.9" fill="#ff7b00" fill-opacity="0.7" stroke="rgba(230,230,230,0.5)" stroke-width="0.8"/>
<circle cx="261.0" cy="109.8" r="2.9" fill="#ffffbb" fill-opacity="0.7" stroke="rgba(230,230,230,0.5)" stroke-width="0.8"/>
<circle cx="296.8" cy="98.0" r="2.9" fill="#ffff8d" fill-opacity="0.7" stroke="rgba(230,230,230,0.5)" stroke-width="0.8"/>
<circle cx="252.5" cy="100.8" r="2.9" fill="#ffff8c" fill-opacity="0.7" stroke="rgba(230,230,230,0.5)" stroke-width="0.8"/>
<circle cx="314.8" cy="89.0" r="2.9" fill="#ff7b00" fill-opacity="0.7" stroke="rgba(230,230,230,0.5)" stroke-width="0.8"/>
<circle cx="303.9" cy="88.7" r="2.9" fill="#ffb000" fill-opacity="0.7" stroke="rgba(230,230,230,0.5)" stroke-width="0.8"/>
<circle cx="293.1" cy="111.0" r="2.9" fill="#ffbc00" fill-opacity="0.7" stroke="rgba(230,230,230,0.5)" stroke-width="0.8"/>
<circle cx="256.7" cy="66.2" r="2.9" fill="#ffff8f" fill-opacity="0.7" stroke="rgba(230,230,230,0.5)" stroke-width="0.8"/>
<circle cx="254.7" cy="83.6" r="2.9" fill="#ffff9a" fill-opacity="0.7" stroke="rgba(230,230,230,0.5)" stroke-width="0.8"/>
<circle cx="301.4" cy="115.9" r="2.9" fill="#ffc200" fill-opacity="0.7" stroke="rgba(230,230,230,0.5)" stroke-width="0.8"/>
<circle cx="277.1" cy="103.6" r="2.9" fill="#ffff75" fill-opacity="0.7" stroke="rgba(230,230,230,0.5)" stroke-width="0.8"/>
<circle cx="280.3" cy="82.2" r="2.9" fill="#ff7b00" fill-opacity="0.7" stroke="rgba(230,230,230,0.5)" stroke-width="0.8"/>
<circle cx="251.2" cy="62.0" r="2.9" fill="#fffe00" fill-opacity="0.7" stroke="rgba(230,230,230,0.5)" stroke-width="0.8"/>
<circle cx="280.0" cy="83.0" r="2.9" fill="#ff7b00" fill-opacity="0.7" stroke="rgba(230,230,230,0.5)" stroke-width="0.8"/>
<circle cx="293.3" cy="125.0" r="2.9" fill="#ff9600" fill-opacity="0.7" stroke="rgba(230,230,230,0.5)" stroke-width="0.8"/>
<circle cx="290.7" cy="84.7" r="2.9" fill="#ff9200" fill-opacity="0.7" stroke="rgba(230,230,230,0.5)" stroke-width="0.8"/>
<circle cx="256.4" cy="96.3" r="2.9" fill="#ffff91" fill-opacity="0.7" stroke="rgba(230,230,230,0.5)" stroke-width="0.8"/>
<circle cx="262.1" cy="117.5" r="2.9" fill="#ffff36" fill-opacity="0.7" stroke="rgba(230,230,230,0.5)" stroke-width="0.8"/>
<circle cx="273.9" cy="71.2" r="2.9" fill="#ffe500" fill-opacity="0.7" stroke="rgba(230,230,230,0.5)" stroke-width="0.8"/>
<circle cx="313.0" cy="92.7" r="2.9" fill="#ff9700" fill-opacity="0.7" stroke="rgba(230,230,230,0.5)" stroke-width="0.8"/>
<circle cx="267.9" cy="88.5" r="2.9" fill="#ff9a00" fill-opacity="0.7" stroke="rgba(230,230,230,0.5)" stroke-width="0.8"/>
<circle cx="272.9" cy="85.1" r="2.9" fill="#ffb000" fill-opacity="0.7" stroke="rgba(230,230,230,0.5)" stroke-width="0.8"/>
<circle cx="288.2" cy="99.5" r="2.9" fill="#ffff9b" fill-opacity="0.7" stroke="rgba(230,230,230,0.5)" stroke-width="0.8"/>
<circle cx="291.5" cy="103.2" r="2.9" fill="#ff8800" fill-opacity="0.7" stroke="rgba(230,230,230,0.5)" stroke-width="0.8"/>
<circle cx="303.7" cy="90.9" r="2.9" fill="#ff7b00" fill-opacity="0.7" stroke="rgba(230,230,230,0.5)" stroke-width="0.8"/>
<circle cx="283.7" cy="68.6" r="2.9" fill="#ff9100" fill-opacity="0.7" stroke="rgba(230,230,230,0.5)" stroke-width="0.8"/>
<circle cx="323.6" cy="119.0" r="2.9" fill="#ffa400" fill-opacity="0.7" stroke="rgba(230,230,230,0.5)" stroke-width="0.8"/>
<circle cx="288.5" cy="100.5" r="2.9" fill="#ff7b00" fill-opacity="0.7" stroke="rgba(230,230,230,0.5)" stroke-width="0.8"/>
<circle cx="289.6" cy="80.3" r="2.9" fill="#ff7f00" fill-opacity="0.7" stroke="rgba(230,230,230,0.5)" stroke-width="0.8"/>
<circle cx="287.2" cy="96.6" r="2.9" fill="#ffff3a" fill-opacity="0.7" stroke="rgba(230,230,230,0.5)" stroke-width="0.8"/>
<circle cx="280.5" cy="104.9" r="2.9" fill="#ffff18" fill-opacity="0.7" stroke="rgba(230,230,230,0.5)" stroke-width="0.8"/>
<circle cx="281.8" cy="83.1" r="2.9" fill="#ff7b00" fill-opacity="0.7" stroke="rgba(230,230,230,0.5)" stroke-width="0.8"/>
<circle cx="311.6" cy="128.6" r="2.9" fill="#ff8300" fill-opacity="0.7" stroke="rgba(230,230,230,0.5)" stroke-width="0.8"/>
<circle cx="264.6" cy="74.8" r="2.9" fill="#ffb700" fill-opacity="0.7" stroke="rgba(230,230,230,0.5)" stroke-width="0.8"/>
<circle cx="288.1" cy="103.9" r="2.9" fill="#ffff92" fill-opacity="0.7" stroke="rgba(230,230,230,0.5)" stroke-width="0.8"/>
<circle cx="291.9" cy="94.3" r="2.9" fill="#ffa300" fill-opacity="0.7" stroke="rgba(230,230,230,0.5)" stroke-width="0.8"/>
<circle cx="306.1" cy="88.4" r="2.9" fill="#ff8500" fill-opacity="0.7" stroke="rgba(230,230,230,0.5)" stroke-width="0.8"/>
<circle cx="284.1" cy="93.2" r="2.9" fill="#ffe300" fill-opacity="0.7" stroke="rgba(230,230,230,0.5)" stroke-width="0.8"/>
<circle cx="264.4" cy="108.3" r="2.9" fill="#ffffb7" fill-opacity="0.7" stroke="rgba(230,230,230,0.5)" stroke-width="0.8"/>
<circle cx="307.3" cy="122.6" r="2.9" fill="#ffaf00" fill-opacity="0.7" stroke="rgba(230,230,230,0.5)" stroke-width="0.8"/>
<circle cx="290.9" cy="124.5" r="2.9" fill="#ffff94" fill-opacity="0.7" stroke="rgba(230,230,230,0.5)" stroke-width="0.8"/>
<circle cx="286.4" cy="112.7" r="2.9" fill="#ff8e00" fill-opacity="0.7" stroke="rgba(230,230,230,0.5)" stroke-width="0.8"/>
<circle cx="307.1" cy="104.7" r="2.9" fill="#ff7b00" fill-opacity="0.7" stroke="rgba(230,230,230,0.5)" stroke-width="0.8"/>
<circle cx="305.2" cy="128.8" r="2.9" fill="#ff7f00" fill-opacity="0.7" stroke="rgba(230,230,230,0.5)" stroke-width="0.8"/>
<circle cx="328.5" cy="103.5" r="2.9" fill="#ff7b00" fill-opacity="0.7" stroke="rgba(230,230,230,0.5)" stroke-width="0.8"/>
<circle cx="280.9" cy="103.0" r="2.9" fill="#ffff65" fill-opacity="0.7" stroke="rgba(230,230,230,0.5)" stroke-width="0.8"/>
<circle cx="269.0" cy="88.2" r="2.9" fill="#ffff6d" fill-opacity="0.7" stroke="rgba(230,230,230,0.5)" stroke-width="0.8"/>
<circle cx="305.1" cy="113.6" r="2.9" fill="#ff7b00" fill-opacity="0.7" stroke="rgba(230,230,230,0.5)" stroke-width="0.8"/>
<circle cx="267.2" cy="74.9" r="2.9" fill="#ffd900" fill-opacity="0.7" stroke="rgba(230,230,230,0.5)" stroke-width="0.8"/>
<circle cx="300.6" cy="129.6" r="2.9" fill="#ffff4d" fill-opacity="0.7" stroke="rgba(230,230,230,0.5)" stroke-width="0.8"/>
<circle cx="268.9" cy="94.5" r="2.9" fill="#ffffff" fill-opacity="0.7" stroke="rgba(230,230,230,0.5)" stroke-width="0.8"/>
<circle cx="290.0" cy="106.7" r="2.9" fill="#ff7b00" fill-opacity="0.7" stroke="rgba(230,230,230,0.5)" stroke-width="0.8"/>
<circle cx="256.5" cy="86.3" r="2.9" fill="#ffff5b" fill-opacity="0.7" stroke="rgba(230,230,230,0.5)" stroke-width="0.8"/>
<circle cx="298.7" cy="93.5" r="2.9" fill="#ff7b00" fill-opacity="0.7" stroke="rgba(230,230,230,0.5)" stroke-width="0.8"/>
<circle cx="305.7" cy="92.6" r="2.9" fill="#ff9800" fill-opacity="0.7" stroke="rgba(230,230,230,0.5)" stroke-width="0.8"/>
<circle cx="309.1" cy="101.5" r="2.9" fill="#ffb300" fill-opacity="0.7" stroke="rgba(230,230,230,0.5)" stroke-width="0.8"/>
<circle cx="274.5" cy="83.7" r="2.9" fill="#ffff9f" fill-opacity="0.7" stroke="rgba(230,230,230,0.5)" stroke-width="0.8"/>
<circle cx="282.1" cy="82.3" r="2.9" fill="#ff9a00" fill-opacity="0.7" stroke="rgba(230,230,230,0.5)" stroke-width="0.8"/>
<circle cx="259.3" cy="69.3" r="2.9" fill="#ffff23" fill-opacity="0.7" stroke="rgba(230,230,230,0.5)" stroke-width="0.8"/>
<circle cx="281.0" cy="107.5" r="2.9" fill="#ffff7f" fill-opacity="0.7" stroke="rgba(230,230,230,0.5)" stroke-width="0.8"/>
<circle cx="283.8" cy="89.0" r="2.9" fill="#ffda00" fill-opacity="0.7" stroke="rgba(230,230,230,0.5)" stroke-width="0.8"/>
<circle cx="296.3" cy="114.5" r="2.9" fill="#ffcb00" fill-opacity="0.7" stroke="rgba(230,230,230,0.5)" stroke-width="0.8"/>
<circle cx="295.0" cy="76.1" r="2.9" fill="#ff9300" fill-opacity="0.7" stroke="rgba(230,230,230,0.5)" stroke-width="0.8"/>
<circle cx="271.1" cy="91.7" r="2.9" fill="#ffcb00" fill-opacity="0.7" stroke="rgba(230,230,230,0.5)" stroke-width="0.8"/>
<circle cx="304.0" cy="101.6" r="2.9" fill="#ff9000" fill-opacity="0.7" stroke="rgba(230,230,230,0.5)" stroke-width="0.8"/>
<circle cx="270.8" cy="88.3" r="2.9" fill="#ffff4f" fill-opacity="0.7" stroke="rgba(230,230,230,0.5)" stroke-width="0.8"/>
<circle cx="285.8" cy="97.4" r="2.9" fill="#ffc000" fill-opacity="0.7" stroke="rgba(230,230,230,0.5)" stroke-width="0.8"/>
<circle cx="282.4" cy="111.1" r="2.9" fill="#ffed00" fill-opacity="0.7" stroke="rgba(230,230,230,0.5)" stroke-width="0.8"/>
<circle cx="277.6" cy="124.3" r="2.9" fill="#ffff73" fill-opacity="0.7" stroke="rgba(230,230,230,0.5)" stroke-width="0.8"/>
<circle cx="308.9" cy="107.9" r="2.9" fill="#ffc100" fill-opacity="0.7" stroke="rgba(230,230,230,0.5)" stroke-width="0.8"/>
<circle cx="309.6" cy="108.1" r="2.9" fill="#ff7b00" fill-opacity="0.7" stroke="rgba(230,230,230,0.5)" stroke-width="0.8"/>
<circle cx="281.5" cy="122.6" r="2.9" fill="#fff800" fill-opacity="0.7" stroke="rgba(230,230,230,0.5)" stroke-width="0.8"/>
<circle cx="278.8" cy="96.2" r="2.9" fill="#ffff81" fill-opacity="0.7" stroke="rgba(230,230,230,0.5)" stroke-width="0.8"/>
<circle cx="268.4" cy="94.4" r="2.9" fill="#ffd600" fill-opacity="0.7" stroke="rgba(230,230,230,0.5)" stroke-width="0.8"/>
<circle cx="271.8" cy="110.4" r="2.9" fill="#ffe000" fill-opacity="0.7" stroke="rgba(230,230,230,0.5)" stroke-width="0.8"/>
<circle cx="287.6" cy="103.0" r="2.9" fill="#ffe700" fill-opacity="0.7" stroke="rgba(230,230,230,0.5)" stroke-width="0.8"/>
<circle cx="296.9" cy="110.4" r="2.9" fill="#ff8c00" fill-opacity="0.7" stroke="rgba(230,230,230,0.5)" stroke-width="0.8"/>
<circle cx="287.2" cy="112.8" r="2.9" fill="#ff9d00" fill-opacity="0.7" stroke="rgba(230,230,230,0.5)" stroke-width="0.8"/>
<circle cx="285.5" cy="87.1" r="2.9" fill="#ffd800" fill-opacity="0.7" stroke="rgba(230,230,230,0.5)" stroke-width="0.8"/>
<circle cx="288.0" cy="128.2" r="2.9" fill="#ffa400" fill-opacity="0.7" stroke="rgba(230,230,230,0.5)" stroke-width="0.8"/>
<circle cx="271.5" cy="67.9" r="2.9" fill="#ffcf00" fill-opacity="0.7" stroke="rgba(230,230,230,0.5)" stroke-width="0.8"/>
<circle cx="284.1" cy="91.1" r="2.9" fill="#ffed00" fill-opacity="0.7" stroke="rgba(230,230,230,0.5)" stroke-width="0.8"/>
<circle cx="265.6" cy="67.4" r="2.9" fill="#ffffff" fill-opacity="0.7" stroke="rgba(230,230,230,0.5)" stroke-width="0.8"/>
<circle cx="286.9" cy="76.4" r="2.9" fill="#fff800" fill-opacity="0.7" stroke="rgba(230,230,230,0.5)" stroke-width="0.8"/>
<circle cx="289.6" cy="77.0" r="2.9" fill="#ffad00" fill-opacity="0.7" stroke="rgba(230,230,230,0.5)" stroke-width="0.8"/>
<circle cx="309.6" cy="110.1" r="2.9" fill="#ff9700" fill-opacity="0.7" stroke="rgba(230,230,230,0.5)" stroke-width="0.8"/>
<circle cx="282.7" cy="105.0" r="2.9" fill="#ff9900" fill-opacity="0.7" stroke="rgba(230,230,230,0.5)" stroke-width="0.8"/>
<circle cx="301.4" cy="103.2" r="2.9" fill="#ffe300" fill-opacity="0.7" stroke="rgba(230,230,230,0.5)" stroke-width="0.8"/>
<circle cx="257.7" cy="88.3" r="2.9" fill="#ffff14" fill-opacity="0.7" stroke="rgba(230,230,230,0.5)" stroke-width="0.8"/>
<circle cx="287.0" cy="108.5" r="2.9" fill="#ff9300" fill-opacity="0.7" stroke="rgba(230,230,230,0.5)" stroke-width="0.8"/>
<circle cx="308.5" cy="118.0" r="2.9" fill="#ffa200" fill-opacity="0.7" stroke="rgba(230,230,230,0.5)" stroke-width="0.8"/>
<circle cx="257.1" cy="108.3" r="2.9" fill="#ffffff" fill-opacity="0.7" stroke="rgba(230,230,230,0.5)" stroke-width="0.8"/>
<circle cx="266.4" cy="82.3" r="2.9" fill="#ffc000" fill-opacity="0.7" stroke="rgba(230,230,230,0.5)" stroke-width="0.8"/>
<circle cx="256.0" cy="103.0" r="2.9" fill="#ffffff" fill-opacity="0.7" stroke="rgba(230,230,230,0.5)" stroke-width="0.8"/>
<circle cx="294.5" cy="82.3" r="2.9" fill="#ff9b00" fill-opacity="0.7" stroke="rgba(230,230,230,0.5)" stroke-width="0.8"/>
<circle cx="286.3" cy="132.3" r="2.9" fill="#ffd300" fill-opacity="0.7" stroke="rgba(230,230,230,0.5)" stroke-width="0.8"/>
<circle cx="297.7" cy="89.8" r="2.9" fill="#fff100" fill-opacity="0.7" stroke="rgba(230,230,230,0.5)" stroke-width="0.8"/>
<circle cx="269.5" cy="106.0" r="2.9" fill="#ffff03" fill-opacity="0.7" stroke="rgba(230,230,230,0.5)" stroke-width="0.8"/>
<circle cx="285.1" cy="117.6" r="2.9" fill="#ffff71" fill-opacity="0.7" stroke="rgba(230,230,230,0.5)" stroke-width="0.8"/>
<circle cx="296.8" cy="91.0" r="2.9" fill="#ff9100" fill-opacity="0.7" stroke="rgba(230,230,230,0.5)" stroke-width="0.8"/>
<circle cx="266.9" cy="126.3" r="2.9" fill="#ffffff" fill-opacity="0.7" stroke="rgba(230,230,230,0.5)" stroke-width="0.8"/>
<circle cx="255.0" cy="84.7" r="2.9" fill="#ffc300" fill-opacity="0.7" stroke="rgba(230,230,230,0.5)" stroke-width="0.8"/>
<circle cx="250.3" cy="105.5" r="2.9" fill="#ffff90" fill-opacity="0.7" stroke="rgba(230,230,230,0.5)" stroke-width="0.8"/>
<circle cx="293.2" cy="119.3" r="2.9" fill="#ff9800" fill-opacity="0.7" stroke="rgba(230,230,230,0.5)" stroke-width="0.8"/>
<circle cx="275.0" cy="119.9" r="2.9" fill="#ffa000" fill-opacity="0.7" stroke="rgba(230,230,230,0.5)" stroke-width="0.8"/>
<circle cx="275.5" cy="72.2" r="2.9" fill="#ffa700" fill-opacity="0.7" stroke="rgba(230,230,230,0.5)" stroke-width="0.8"/>
<circle cx="272.3" cy="98.7" r="2.9" fill="#ffc500" fill-opacity="0.7" stroke="rgba(230,230,230,0.5)" stroke-width="0.8"/>
<circle cx="283.6" cy="107.8" r="2.9" fill="#ff9c00" fill-opacity="0.7" stroke="rgba(230,230,230,0.5)" stroke-width="0.8"/>
<circle cx="271.6" cy="92.0" r="2.9" fill="#ffc100" fill-opacity="0.7" stroke="rgba(230,230,230,0.5)" stroke-width="0.8"/>
<circle cx="302.5" cy="80.1" r="2.9" fill="#ff7b00" fill-opacity="0.7" stroke="rgba(230,230,230,0.5)" stroke-width="0.8"/>
<circle cx="299.3" cy="78.0" r="2.9" fill="#ff7b00" fill-opacity="0.7" stroke="rgba(230,230,230,0.5)" stroke-width="0.8"/>
<circle cx="279.5" cy="116.6" r="2.9" fill="#ffff90" fill-opacity="0.7" stroke="rgba(230,230,230,0.5)" stroke-width="0.8"/>
<circle cx="289.3" cy="99.6" r="2.9" fill="#ff9c00" fill-opacity="0.7" stroke="rgba(230,230,230,0.5)" stroke-width="0.8"/>
<circle cx="322.6" cy="115.0" r="2.9" fill="#ff7b00" fill-opacity="0.7" stroke="rgba(230,230,230,0.5)" stroke-width="0.8"/>
<circle cx="267.7" cy="80.7" r="2.9" fill="#ffffb0" fill-opacity="0.7" stroke="rgba(230,230,230,0.5)" stroke-width="0.8"/>
<circle cx="274.7" cy="121.1" r="2.9" fill="#ffea00" fill-opacity="0.7" stroke="rgba(230,230,230,0.5)" stroke-width="0.8"/>
<circle cx="307.0" cy="78.7" r="2.9" fill="#ffff12" fill-opacity="0.7" stroke="rgba(230,230,230,0.5)" stroke-width="0.8"/>
<circle cx="288.5" cy="81.8" r="2.9" fill="#ffa500" fill-opacity="0.7" stroke="rgba(230,230,230,0.5)" stroke-width="0.8"/>
<circle cx="262.3" cy="118.7" r="2.9" fill="#ffffff" fill-opacity="0.7" stroke="rgba(230,230,230,0.5)" stroke-width="0.8"/>
<circle cx="301.6" cy="88.3" r="2.9" fill="#ff9c00" fill-opacity="0.7" stroke="rgba(230,230,230,0.5)" stroke-width="0.8"/>
<circle cx="267.9" cy="100.5" r="2.9" fill="#ffaa00" fill-opacity="0.7" stroke="rgba(230,230,230,0.5)" stroke-width="0.8"/>
<circle cx="274.8" cy="96.8" r="2.9" fill="#ffa200" fill-opacity="0.7" stroke="rgba(230,230,230,0.5)" stroke-width="0.8"/>
<circle cx="258.1" cy="93.5" r="2.9" fill="#ffff94" fill-opacity="0.7" stroke="rgba(230,230,230,0.5)" stroke-width="0.8"/>
<circle cx="300.4" cy="103.4" r="2.9" fill="#ffff73" fill-opacity="0.7" stroke="rgba(230,230,230,0.5)" stroke-width="0.8"/>
<circle cx="285.2" cy="121.4" r="2.9" fill="#ff9f00" fill-opacity="0.7" stroke="rgba(230,230,230,0.5)" stroke-width="0.8"/>
<circle cx="300.5" cy="109.7" r="2.9" fill="#ffff90" fill-opacity="0.7" stroke="rgba(230,230,230,0.5)" stroke-width="0.8"/>
<circle cx="283.8" cy="86.7" r="2.9" fill="#ff7b00" fill-opacity="0.7" stroke="rgba(230,230,230,0.5)" stroke-width="0.8"/>
<circle cx="306.1" cy="84.2" r="2.9" fill="#ffb300" fill-opacity="0.7" stroke="rgba(230,230,230,0.5)" stroke-width="0.8"/>
<circle cx="290.0" cy="110.9" r="2.9" fill="#ffc100" fill-opacity="0.7" stroke="rgba(230,230,230,0.5)" stroke-width="0.8"/>
<circle cx="271.1" cy="86.4" r="2.9" fill="#ffe100" fill-opacity="0.7" stroke="rgba(230,230,230,0.5)" stroke-width="0.8"/>
<circle cx="295.8" cy="79.9" r="2.9" fill="#ffcc00" fill-opacity="0.7" stroke="rgba(230,230,230,0.5)" stroke-width="0.8"/>
<circle cx="241.7" cy="69.1" r="2.9" fill="#ffffff" fill-opacity="0.7" stroke="rgba(230,230,230,0.5)" stroke-width="0.8"/>
<circle cx="262.3" cy="95.6" r="2.9" fill="#ffff64" fill-opacity="0.7" stroke="rgba(230,230,230,0.5)" stroke-width="0.8"/>
<circle cx="302.2" cy="84.7" r="2.9" fill="#ff7b00" fill-opacity="0.7" stroke="rgba(230,230,230,0.5)" stroke-width="0.8"/>
<circle cx="269.8" cy="94.5" r="2.9" fill="#ffae00" fill-opacity="0.7" stroke="rgba(230,230,230,0.5)" stroke-width="0.8"/>
<circle cx="283.1" cy="109.9" r="2.9" fill="#ffc600" fill-opacity="0.7" stroke="rgba(230,230,230,0.5)" stroke-width="0.8"/>
<circle cx="262.0" cy="105.5" r="2.9" fill="#ffffc1" fill-opacity="0.7" stroke="rgba(230,230,230,0.5)" stroke-width="0.8"/>
<circle cx="266.7" cy="87.0" r="2.9" fill="#ff8f00" fill-opacity="0.7" stroke="rgba(230,230,230,0.5)" stroke-width="0.8"/>
<circle cx="262.8" cy="72.1" r="2.9" fill="#ff9300" fill-opacity="0.7" stroke="rgba(230,230,230,0.5)" stroke-width="0.8"/>
<circle cx="311.2" cy="86.1" r="2.9" fill="#ff9d00" fill-opacity="0.7" stroke="rgba(230,230,230,0.5)" stroke-width="0.8"/>
<circle cx="287.3" cy="96.8" r="2.9" fill="#ff7b00" fill-opacity="0.7" stroke="rgba(230,230,230,0.5)" stroke-width="0.8"/>
<circle cx="281.8" cy="71.5" r="2.9" fill="#ff9500" fill-opacity="0.7" stroke="rgba(230,230,230,0.5)" stroke-width="0.8"/>
<circle cx="315.0" cy="112.1" r="2.9" fill="#ff7b00" fill-opacity="0.7" stroke="rgba(230,230,230,0.5)" stroke-width="0.8"/>
<circle cx="276.4" cy="106.9" r="2.9" fill="#ffda00" fill-opacity="0.7" stroke="rgba(230,230,230,0.5)" stroke-width="0.8"/>
<circle cx="270.5" cy="93.8" r="2.9" fill="#ff7b00" fill-opacity="0.7" stroke="rgba(230,230,230,0.5)" stroke-width="0.8"/>
<circle cx="259.8" cy="118.7" r="2.9" fill="#ffff8e" fill-opacity="0.7" stroke="rgba(230,230,230,0.5)" stroke-width="0.8"/>
<circle cx="295.7" cy="127.1" r="2.9" fill="#ffc100" fill-opacity="0.7" stroke="rgba(230,230,230,0.5)" stroke-width="0.8"/>
<circle cx="286.1" cy="89.1" r="2.9" fill="#fff800" fill-opacity="0.7" stroke="rgba(230,230,230,0.5)" stroke-width="0.8"/>
<circle cx="293.3" cy="103.4" r="2.9" fill="#ffff8a" fill-opacity="0.7" stroke="rgba(230,230,230,0.5)" stroke-width="0.8"/>
<circle cx="296.7" cy="119.7" r="2.9" fill="#ff8c00" fill-opacity="0.7" stroke="rgba(230,230,230,0.5)" stroke-width="0.8"/>
<circle cx="279.6" cy="108.1" r="2.9" fill="#ffa400" fill-opacity="0.7" stroke="rgba(230,230,230,0.5)" stroke-width="0.8"/>
<circle cx="253.5" cy="92.8" r="2.9" fill="#ffff61" fill-opacity="0.7" stroke="rgba(230,230,230,0.5)" stroke-width="0.8"/>
<circle cx="294.0" cy="126.9" r="2.9" fill="#ffa600" fill-opacity="0.7" stroke="rgba(230,230,230,0.5)" stroke-width="0.8"/>
<circle cx="261.3" cy="88.4" r="2.9" fill="#ffdb00" fill-opacity="0.7" stroke="rgba(230,230,230,0.5)" stroke-width="0.8"/>
<circle cx="273.6" cy="117.5" r="2.9" fill="#ffff93" fill-opacity="0.7" stroke="rgba(230,230,230,0.5)" stroke-width="0.8"/>
<circle cx="294.1" cy="89.6" r="2.9" fill="#ffe300" fill-opacity="0.7" stroke="rgba(230,230,230,0.5)" stroke-width="0.8"/>
<circle cx="283.5" cy="129.3" r="2.9" fill="#ffff17" fill-opacity="0.7" stroke="rgba(230,230,230,0.5)" stroke-width="0.8"/>
<circle cx="283.9" cy="108.7" r="2.9" fill="#ffffff" fill-opacity="0.7" stroke="rgba(230,230,230,0.5)" stroke-width="0.8"/>
<circle cx="246.4" cy="104.0" r="2.9" fill="#ffff6c" fill-opacity="0.7" stroke="rgba(230,230,230,0.5)" stroke-width="0.8"/>
<circle cx="249.0" cy="85.6" r="2.9" fill="#ffffff" fill-opacity="0.7" stroke="rgba(230,230,230,0.5)" stroke-width="0.8"/>
<circle cx="248.6" cy="86.0" r="2.9" fill="#ffffff" fill-opacity="0.7" stroke="rgba(230,230,230,0.5)" stroke-width="0.8"/>
<circle cx="313.5" cy="87.5" r="2.9" fill="#ffa400" fill-opacity="0.7" stroke="rgba(230,230,230,0.5)" stroke-width="0.8"/>
<circle cx="286.8" cy="82.7" r="2.9" fill="#ff7b00" fill-opacity="0.7" stroke="rgba(230,230,230,0.5)" stroke-width="0.8"/>
<circle cx="282.1" cy="84.1" r="2.9" fill="#ff7b00" fill-opacity="0.7" stroke="rgba(230,230,230,0.5)" stroke-width="0.8"/>
<circle cx="280.6" cy="132.3" r="2.9" fill="#ffb300" fill-opacity="0.7" stroke="rgba(230,230,230,0.5)" stroke-width="0.8"/>
<circle cx="283.7" cy="118.5" r="2.9" fill="#ffff47" fill-opacity="0.7" stroke="rgba(230,230,230,0.5)" stroke-width="0.8"/>
<circle cx="284.7" cy="106.4" r="2.9" fill="#ffe500" fill-opacity="0.7" stroke="rgba(230,230,230,0.5)" stroke-width="0.8"/>
<circle cx="283.7" cy="77.4" r="2.9" fill="#ff9500" fill-opacity="0.7" stroke="rgba(230,230,230,0.5)" stroke-width="0.8"/>
<circle cx="246.2" cy="97.0" r="2.9" fill="#ffffa2" fill-opacity="0.7" stroke="rgba(230,230,230,0.5)" stroke-width="0.8"/>
<circle cx="298.5" cy="69.9" r="2.9" fill="#ffb400" fill-opacity="0.7" stroke="rgba(230,230,230,0.5)" stroke-width="0.8"/>
<circle cx="265.4" cy="107.7" r="2.9" fill="#ffff9a" fill-opacity="0.7" stroke="rgba(230,230,230,0.5)" stroke-width="0.8"/>
<circle cx="304.2" cy="87.6" r="2.9" fill="#ff7b00" fill-opacity="0.7" stroke="rgba(230,230,230,0.5)" stroke-width="0.8"/>
<circle cx="294.0" cy="81.0" r="2.9" fill="#ff7b00" fill-opacity="0.7" stroke="rgba(230,230,230,0.5)" stroke-width="0.8"/>
<circle cx="260.3" cy="99.4" r="2.9" fill="#ffffa6" fill-opacity="0.7" stroke="rgba(230,230,230,0.5)" stroke-width="0.8"/>
<circle cx="292.8" cy="108.5" r="2.9" fill="#ffff41" fill-opacity="0.7" stroke="rgba(230,230,230,0.5)" stroke-width="0.8"/>
<circle cx="277.6" cy="93.7" r="2.9" fill="#ffb600" fill-opacity="0.7" stroke="rgba(230,230,230,0.5)" stroke-width="0.8"/>
<circle cx="278.4" cy="91.5" r="2.9" fill="#ffd600" fill-opacity="0.7" stroke="rgba(230,230,230,0.5)" stroke-width="0.8"/>
<circle cx="273.8" cy="96.7" r="2.9" fill="#ffff8f" fill-opacity="0.7" stroke="rgba(230,230,230,0.5)" stroke-width="0.8"/>
<circle cx="278.4" cy="105.3" r="2.9" fill="#ffa000" fill-opacity="0.7" stroke="rgba(230,230,230,0.5)" stroke-width="0.8"/>
<circle cx="281.9" cy="118.8" r="2.9" fill="#ff7b00" fill-opacity="0.7" stroke="rgba(230,230,230,0.5)" stroke-width="0.8"/>
<circle cx="300.8" cy="106.7" r="2.9" fill="#ff7b00" fill-opacity="0.7" stroke="rgba(230,230,230,0.5)" stroke-width="0.8"/>
<circle cx="298.1" cy="106.4" r="2.9" fill="#ffa400" fill-opacity="0.7" stroke="rgba(230,230,230,0.5)" stroke-width="0.8"/>
<circle cx="272.1" cy="107.2" r="2.9" fill="#ffd900" fill-opacity="0.7" stroke="rgba(230,230,230,0.5)" stroke-width="0.8"/>
<circle cx="273.4" cy="66.4" r="2.9" fill="#ffb600" fill-opacity="0.7" stroke="rgba(230,230,230,0.5)" stroke-width="0.8"/>
<circle cx="312.6" cy="84.0" r="2.9" fill="#ff7b00" fill-opacity="0.7" stroke="rgba(230,230,230,0.5)" stroke-width="0.8"/>
<circle cx="255.7" cy="89.4" r="2.9" fill="#ffffbd" fill-opacity="0.7" stroke="rgba(230,230,230,0.5)" stroke-width="0.8"/>
<circle cx="281.2" cy="106.0" r="2.9" fill="#ffff8f" fill-opacity="0.7" stroke="rgba(230,230,230,0.5)" stroke-width="0.8"/>
<circle cx="265.1" cy="81.8" r="2.9" fill="#ffff7e" fill-opacity="0.7" stroke="rgba(230,230,230,0.5)" stroke-width="0.8"/>
<circle cx="278.3" cy="72.4" r="2.9" fill="#ffa900" fill-opacity="0.7" stroke="rgba(230,230,230,0.5)" stroke-width="0.8"/>
<circle cx="293.8" cy="115.9" r="2.9" fill="#ff8d00" fill-opacity="0.7" stroke="rgba(230,230,230,0.5)" stroke-width="0.8"/>
<circle cx="292.3" cy="103.5" r="2.9" fill="#ff7b00" fill-opacity="0.7" stroke="rgba(230,230,230,0.5)" stroke-width="0.8"/>
<circle cx="301.1" cy="92.3" r="2.9" fill="#ff7b00" fill-opacity="0.7" stroke="rgba(230,230,230,0.5)" stroke-width="0.8"/>
<circle cx="324.7" cy="102.5" r="2.9" fill="#ff9500" fill-opacity="0.7" stroke="rgba(230,230,230,0.5)" stroke-width="0.8"/>
<circle cx="262.6" cy="94.3" r="2.9" fill="#ffffff" fill-opacity="0.7" stroke="rgba(230,230,230,0.5)" stroke-width="0.8"/>
<circle cx="312.5" cy="125.5" r="2.9" fill="#ff9a00" fill-opacity="0.7" stroke="rgba(230,230,230,0.5)" stroke-width="0.8"/>
<circle cx="310.3" cy="81.4" r="2.9" fill="#ff7b00" fill-opacity="0.7" stroke="rgba(230,230,230,0.5)" stroke-width="0.8"/>
<circle cx="298.8" cy="91.2" r="2.9" fill="#ffb100" fill-opacity="0.7" stroke="rgba(230,230,230,0.5)" stroke-width="0.8"/>
<circle cx="281.4" cy="99.6" r="2.9" fill="#ffffff" fill-opacity="0.7" stroke="rgba(230,230,230,0.5)" stroke-width="0.8"/>
<circle cx="297.9" cy="116.2" r="2.9" fill="#ff7b00" fill-opacity="0.7" stroke="rgba(230,230,230,0.5)" stroke-width="0.8"/>
<circle cx="271.6" cy="112.6" r="2.9" fill="#ff9a00" fill-opacity="0.7" stroke="rgba(230,230,230,0.5)" stroke-width="0.8"/>
<circle cx="275.7" cy="87.1" r="2.9" fill="#ffff8c" fill-opacity="0.7" stroke="rgba(230,230,230,0.5)" stroke-width="0.8"/>
<circle cx="245.8" cy="83.3" r="2.9" fill="#ffff99" fill-opacity="0.7" stroke="rgba(230,230,230,0.5)" stroke-width="0.8"/>
<circle cx="311.9" cy="107.8" r="2.9" fill="#ffe100" fill-opacity="0.7" stroke="rgba(230,230,230,0.5)" stroke-width="0.8"/>
<circle cx="297.8" cy="106.8" r="2.9" fill="#ff9900" fill-opacity="0.7" stroke="rgba(230,230,230,0.5)" stroke-width="0.8"/>
<circle cx="278.8" cy="69.5" r="2.9" fill="#ffc200" fill-opacity="0.7" stroke="rgba(230,230,230,0.5)" stroke-width="0.8"/>
<circle cx="257.8" cy="116.7" r="2.9" fill="#ffffff" fill-opacity="0.7" stroke="rgba(230,230,230,0.5)" stroke-width="0.8"/>
<circle cx="271.4" cy="97.3" r="2.9" fill="#ff8900" fill-opacity="0.7" stroke="rgba(230,230,230,0.5)" stroke-width="0.8"/>
<circle cx="261.8" cy="79.8" r="2.9" fill="#ff9800" fill-opacity="0.7" stroke="rgba(230,230,230,0.5)" stroke-width="0.8"/>
<circle cx="271.1" cy="89.2" r="2.9" fill="#ffa900" fill-opacity="0.7" stroke="rgba(230,230,230,0.5)" stroke-width="0.8"/>
<circle cx="265.6" cy="69.5" r="2.9" fill="#ff7b00" fill-opacity="0.7" stroke="rgba(230,230,230,0.5)" stroke-width="0.8"/>
<circle cx="297.0" cy="85.0" r="2.9" fill="#ffe800" fill-opacity="0.7" stroke="rgba(230,230,230,0.5)" stroke-width="0.8"/>
<circle cx="258.8" cy="83.6" r="2.9" fill="#ffff94" fill-opacity="0.7" stroke="rgba(230,230,230,0.5)" stroke-width="0.8"/>
<circle cx="315.9" cy="113.4" r="2.9" fill="#ffb600" fill-opacity="0.7" stroke="rgba(230,230,230,0.5)" stroke-width="0.8"/>
<circle cx="253.7" cy="104.3" r="2.9" fill="#ffffff" fill-opacity="0.7" stroke="rgba(230,230,230,0.5)" stroke-width="0.8"/>
<circle cx="290.5" cy="133.3" r="2.9" fill="#ffff55" fill-opacity="0.7" stroke="rgba(230,230,230,0.5)" stroke-width="0.8"/>
<circle cx="288.4" cy="111.0" r="2.9" fill="#ffb000" fill-opacity="0.7" stroke="rgba(230,230,230,0.5)" stroke-width="0.8"/>
<circle cx="301.1" cy="91.0" r="2.9" fill="#ffbf00" fill-opacity="0.7" stroke="rgba(230,230,230,0.5)" stroke-width="0.8"/>
<circle cx="265.7" cy="91.1" r="2.9" fill="#ffff44" fill-opacity="0.7" stroke="rgba(230,230,230,0.5)" stroke-width="0.8"/>
<circle cx="277.1" cy="81.7" r="2.9" fill="#ff7b00" fill-opacity="0.7" stroke="rgba(230,230,230,0.5)" stroke-width="0.8"/>
<circle cx="282.5" cy="75.1" r="2.9" fill="#ffd100" fill-opacity="0.7" stroke="rgba(230,230,230,0.5)" stroke-width="0.8"/>
<circle cx="269.0" cy="91.3" r="2.9" fill="#ffd500" fill-opacity="0.7" stroke="rgba(230,230,230,0.5)" stroke-width="0.8"/>
<circle cx="296.6" cy="93.2" r="2.9" fill="#ff7b00" fill-opacity="0.7" stroke="rgba(230,230,230,0.5)" stroke-width="0.8"/>
<circle cx="309.4" cy="100.2" r="2.9" fill="#ffad00" fill-opacity="0.7" stroke="rgba(230,230,230,0.5)" stroke-width="0.8"/>
<circle cx="303.6" cy="97.9" r="2.9" fill="#ffbe00" fill-opacity="0.7" stroke="rgba(230,230,230,0.5)" stroke-width="0.8"/>
<circle cx="262.3" cy="110.5" r="2.9" fill="#ff8800" fill-opacity="0.7" stroke="rgba(230,230,230,0.5)" stroke-width="0.8"/>
<circle cx="310.7" cy="126.6" r="2.9" fill="#fffb00" fill-opacity="0.7" stroke="rgba(230,230,230,0.5)" stroke-width="0.8"/>
<circle cx="266.6" cy="88.8" r="2.9" fill="#ffff84" fill-opacity="0.7" stroke="rgba(230,230,230,0.5)" stroke-width="0.8"/>
<circle cx="266.3" cy="102.2" r="2.9" fill="#ffff4e" fill-opacity="0.7" stroke="rgba(230,230,230,0.5)" stroke-width="0.8"/>
<circle cx="273.2" cy="106.0" r="2.9" fill="#ffff9c" fill-opacity="0.7" stroke="rgba(230,230,230,0.5)" stroke-width="0.8"/>
<circle cx="278.1" cy="66.3" r="2.9" fill="#ff7b00" fill-opacity="0.7" stroke="rgba(230,230,230,0.5)" stroke-width="0.8"/>
<circle cx="249.7" cy="96.0" r="2.9" fill="#ffff2a" fill-opacity="0.7" stroke="rgba(230,230,230,0.5)" stroke-width="0.8"/>
<circle cx="278.8" cy="105.2" r="2.9" fill="#ff9a00" fill-opacity="0.7" stroke="rgba(230,230,230,0.5)" stroke-width="0.8"/>
<circle cx="310.4" cy="95.1" r="2.9" fill="#ff7b00" fill-opacity="0.7" stroke="rgba(230,230,230,0.5)" stroke-width="0.8"/>
<circle cx="277.6" cy="93.0" r="2.9" fill="#ff9b00" fill-opacity="0.7" stroke="rgba(230,230,230,0.5)" stroke-width="0.8"/>
<circle cx="272.1" cy="99.4" r="2.9" fill="#ff7b00" fill-opacity="0.7" stroke="rgba(230,230,230,0.5)" stroke-width="0.8"/>
<circle cx="301.5" cy="93.7" r="2.9" fill="#ff9400" fill-opacity="0.7" stroke="rgba(230,230,230,0.5)" stroke-width="0.8"/>
<circle cx="297.9" cy="123.4" r="2.9" fill="#ff8d00" fill-opacity="0.7" stroke="rgba(230,230,230,0.5)" stroke-width="0.8"/>
<circle cx="261.9" cy="121.6" r="2.9" fill="#ffff87" fill-opacity="0.7" stroke="rgba(230,230,230,0.5)" stroke-width="0.8"/>
<circle cx="301.3" cy="84.6" r="2.9" fill="#ffda00" fill-opacity="0.7" stroke="rgba(230,230,230,0.5)" stroke-width="0.8"/>
<circle cx="250.3" cy="80.3" r="2.9" fill="#ffde00" fill-opacity="0.7" stroke="rgba(230,230,230,0.5)" stroke-width="0.8"/>
<circle cx="290.3" cy="74.1" r="2.9" fill="#ff8b00" fill-opacity="0.7" stroke="rgba(230,230,230,0.5)" stroke-width="0.8"/>
<circle cx="284.8" cy="85.5" r="2.9" fill="#ffb200" fill-opacity="0.7" stroke="rgba(230,230,230,0.5)" stroke-width="0.8"/>
<circle cx="269.9" cy="91.2" r="2.9" fill="#ffff87" fill-opacity="0.7" stroke="rgba(230,230,230,0.5)" stroke-width="0.8"/>
<circle cx="270.6" cy="91.6" r="2.9" fill="#ffcd00" fill-opacity="0.7" stroke="rgba(230,230,230,0.5)" stroke-width="0.8"/>
<circle cx="280.9" cy="70.2" r="2.9" fill="#ffff07" fill-opacity="0.7" stroke="rgba(230,230,230,0.5)" stroke-width="0.8"/>
<circle cx="285.6" cy="106.4" r="2.9" fill="#ffc400" fill-opacity="0.7" stroke="rgba(230,230,230,0.5)" stroke-width="0.8"/>
<circle cx="271.6" cy="117.4" r="2.9" fill="#ffd700" fill-opacity="0.7" stroke="rgba(230,230,230,0.5)" stroke-width="0.8"/>
<circle cx="306.8" cy="79.2" r="2.9" fill="#ff7b00" fill-opacity="0.7" stroke="rgba(230,230,230,0.5)" stroke-width="0.8"/>
<circle cx="305.4" cy="96.6" r="2.9" fill="#ffa400" fill-opacity="0.7" stroke="rgba(230,230,230,0.5)" stroke-width="0.8"/>
<circle cx="310.9" cy="84.8" r="2.9" fill="#ff7b00" fill-opacity="0.7" stroke="rgba(230,230,230,0.5)" stroke-width="0.8"/>
<circle cx="261.9" cy="93.3" r="2.9" fill="#ffd400" fill-opacity="0.7" stroke="rgba(230,230,230,0.5)" stroke-width="0.8"/>
<circle cx="279.3" cy="123.6" r="2.9" fill="#fff000" fill-opacity="0.7" stroke="rgba(230,230,230,0.5)" stroke-width="0.8"/>
<circle cx="271.8" cy="95.0" r="2.9" fill="#ffff9b" fill-opacity="0.7" stroke="rgba(230,230,230,0.5)" stroke-width="0.8"/>
<circle cx="323.0" cy="108.2" r="2.9" fill="#ff7b00" fill-opacity="0.7" stroke="rgba(230,230,230,0.5)" stroke-width="0.8"/>
<circle cx="275.5" cy="71.5" r="2.9" fill="#ff9800" fill-opacity="0.7" stroke="rgba(230,230,230,0.5)" stroke-width="0.8"/>
<circle cx="305.8" cy="106.2" r="2.9" fill="#ffa400" fill-opacity="0.7" stroke="rgba(230,230,230,0.5)" stroke-width="0.8"/>
<circle cx="262.6" cy="92.9" r="2.9" fill="#ffd400" fill-opacity="0.7" stroke="rgba(230,230,230,0.5)" stroke-width="0.8"/>
<circle cx="318.7" cy="94.7" r="2.9" fill="#ff7c00" fill-opacity="0.7" stroke="rgba(230,230,230,0.5)" stroke-width="0.8"/>
<circle cx="284.8" cy="94.2" r="2.9" fill="#ffb800" fill-opacity="0.7" stroke="rgba(230,230,230,0.5)" stroke-width="0.8"/>
<circle cx="273.3" cy="99.7" r="2.9" fill="#fffe00" fill-opacity="0.7" stroke="rgba(230,230,230,0.5)" stroke-width="0.8"/>
<circle cx="304.8" cy="105.0" r="2.9" fill="#ffb900" fill-opacity="0.7" stroke="rgba(230,230,230,0.5)" stroke-width="0.8"/>
<circle cx="274.2" cy="94.7" r="2.9" fill="#ff7b00" fill-opacity="0.7" stroke="rgba(230,230,230,0.5)" stroke-width="0.8"/>
<circle cx="266.1" cy="86.1" r="2.9" fill="#ff7b00" fill-opacity="0.7" stroke="rgba(230,230,230,0.5)" stroke-width="0.8"/>
<circle cx="311.1" cy="113.6" r="2.9" fill="#ff9d00" fill-opacity="0.7" stroke="rgba(230,230,230,0.5)" stroke-width="0.8"/>
<circle cx="286.9" cy="96.7" r="2.9" fill="#ff9c00" fill-opacity="0.7" stroke="rgba(230,230,230,0.5)" stroke-width="0.8"/>
<circle cx="318.4" cy="116.5" r="2.9" fill="#ffa200" fill-opacity="0.7" stroke="rgba(230,230,230,0.5)" stroke-width="0.8"/>
<circle cx="264.7" cy="99.4" r="2.9" fill="#ffff70" fill-opacity="0.7" stroke="rgba(230,230,230,0.5)" stroke-width="0.8"/>
<circle cx="262.8" cy="116.5" r="2.9" fill="#ffff96" fill-opacity="0.7" stroke="rgba(230,230,230,0.5)" stroke-width="0.8"/>
<circle cx="283.5" cy="93.5" r="2.9" fill="#ff7b00" fill-opacity="0.7" stroke="rgba(230,230,230,0.5)" stroke-width="0.8"/>
<circle cx="258.1" cy="105.1" r="2.9" fill="#ffffff" fill-opacity="0.7" stroke="rgba(230,230,230,0.5)" stroke-width="0.8"/>
<circle cx="311.6" cy="84.1" r="2.9" fill="#ff7b00" fill-opacity="0.7" stroke="rgba(230,230,230,0.5)" stroke-width="0.8"/>
<circle cx="299.2" cy="98.8" r="2.9" fill="#ff7b00" fill-opacity="0.7" stroke="rgba(230,230,230,0.5)" stroke-width="0.8"/>
<circle cx="293.8" cy="100.9" r="2.9" fill="#ffdc00" fill-opacity="0.7" stroke="rgba(230,230,230,0.5)" stroke-width="0.8"/>
<circle cx="287.5" cy="111.4" r="2.9" fill="#ffe100" fill-opacity="0.7" stroke="rgba(230,230,230,0.5)" stroke-width="0.8"/>
<circle cx="265.7" cy="82.1" r="2.9" fill="#ffffaa" fill-opacity="0.7" stroke="rgba(230,230,230,0.5)" stroke-width="0.8"/>
<circle cx="266.2" cy="103.8" r="2.9" fill="#ff7b00" fill-opacity="0.7" stroke="rgba(230,230,230,0.5)" stroke-width="0.8"/>
<circle cx="305.3" cy="119.3" r="2.9" fill="#ff9100" fill-opacity="0.7" stroke="rgba(230,230,230,0.5)" stroke-width="0.8"/>
<circle cx="277.5" cy="95.3" r="2.9" fill="#ffff79" fill-opacity="0.7" stroke="rgba(230,230,230,0.5)" stroke-width="0.8"/>
<circle cx="262.5" cy="84.7" r="2.9" fill="#ffff78" fill-opacity="0.7" stroke="rgba(230,230,230,0.5)" stroke-width="0.8"/>
<circle cx="252.0" cy="100.7" r="2.9" fill="#ffff9b" fill-opacity="0.7" stroke="rgba(230,230,230,0.5)" stroke-width="0.8"/>
<circle cx="284.2" cy="102.2" r="2.9" fill="#ffc400" fill-opacity="0.7" stroke="rgba(230,230,230,0.5)" stroke-width="0.8"/>
<circle cx="261.7" cy="117.3" r="2.9" fill="#ffff94" fill-opacity="0.7" stroke="rgba(230,230,230,0.5)" stroke-width="0.8"/>
<circle cx="288.7" cy="95.5" r="2.9" fill="#ffe500" fill-opacity="0.7" stroke="rgba(230,230,230,0.5)" stroke-width="0.8"/>
<circle cx="287.4" cy="80.7" r="2.9" fill="#ffdf00" fill-opacity="0.7" stroke="rgba(230,230,230,0.5)" stroke-width="0.8"/>
<circle cx="283.8" cy="96.7" r="2.9" fill="#ffca00" fill-opacity="0.7" stroke="rgba(230,230,230,0.5)" stroke-width="0.8"/>
<circle cx="259.5" cy="96.3" r="2.9" fill="#ffff93" fill-opacity="0.7" stroke="rgba(230,230,230,0.5)" stroke-width="0.8"/>
<circle cx="253.9" cy="88.6" r="2.9" fill="#ffff8c" fill-opacity="0.7" stroke="rgba(230,230,230,0.5)" stroke-width="0.8"/>
<circle cx="300.9" cy="88.3" r="2.9" fill="#ff9a00" fill-opacity="0.7" stroke="rgba(230,230,230,0.5)" stroke-width="0.8"/>
<circle cx="299.5" cy="70.2" r="2.9" fill="#ff7b00" fill-opacity="0.7" stroke="rgba(230,230,230,0.5)" stroke-width="0.8"/>
<circle cx="279.2" cy="109.1" r="2.9" fill="#ffffa0" fill-opacity="0.7" stroke="rgba(230,230,230,0.5)" stroke-width="0.8"/>
<circle cx="288.0" cy="92.6" r="2.9" fill="#ff9900" fill-opacity="0.7" stroke="rgba(230,230,230,0.5)" stroke-width="0.8"/>
<circle cx="288.1" cy="128.3" r="2.9" fill="#ffd900" fill-opacity="0.7" stroke="rgba(230,230,230,0.5)" stroke-width="0.8"/>
<circle cx="274.4" cy="126.7" r="2.9" fill="#ffff6a" fill-opacity="0.7" stroke="rgba(230,230,230,0.5)" stroke-width="0.8"/>
<circle cx="281.8" cy="77.8" r="2.9" fill="#ffff2a" fill-opacity="0.7" stroke="rgba(230,230,230,0.5)" stroke-width="0.8"/>
<circle cx="274.2" cy="104.4" r="2.9" fill="#ffff7a" fill-opacity="0.7" stroke="rgba(230,230,230,0.5)" stroke-width="0.8"/>
<circle cx="319.5" cy="123.4" r="2.9" fill="#ff7b00" fill-opacity="0.7" stroke="rgba(230,230,230,0.5)" stroke-width="0.8"/>
<circle cx="279.3" cy="79.1" r="2.9" fill="#ffff19" fill-opacity="0.7" stroke="rgba(230,230,230,0.5)" stroke-width="0.8"/>
<circle cx="253.4" cy="107.4" r="2.9" fill="#ffce00" fill-opacity="0.7" stroke="rgba(230,230,230,0.5)" stroke-width="0.8"/>
<circle cx="308.3" cy="117.8" r="2.9" fill="#ff7b00" fill-opacity="0.7" stroke="rgba(230,230,230,0.5)" stroke-width="0.8"/>
<circle cx="286.0" cy="82.7" r="2.9" fill="#ff7b00" fill-opacity="0.7" stroke="rgba(230,230,230,0.5)" stroke-width="0.8"/>
<circle cx="306.0" cy="78.8" r="2.9" fill="#ffbd00" fill-opacity="0.7" stroke="rgba(230,230,230,0.5)" stroke-width="0.8"/>
<circle cx="295.9" cy="131.2" r="2.9" fill="#ffa700" fill-opacity="0.7" stroke="rgba(230,230,230,0.5)" stroke-width="0.8"/>
<circle cx="304.0" cy="98.5" r="2.9" fill="#ff8200" fill-opacity="0.7" stroke="rgba(230,230,230,0.5)" stroke-width="0.8"/>
<circle cx="309.1" cy="95.9" r="2.9" fill="#ff7b00" fill-opacity="0.7" stroke="rgba(230,230,230,0.5)" stroke-width="0.8"/>
<circle cx="289.7" cy="68.3" r="2.9" fill="#ffdd00" fill-opacity="0.7" stroke="rgba(230,230,230,0.5)" stroke-width="0.8"/>
<circle cx="288.4" cy="87.5" r="2.9" fill="#ff8600" fill-opacity="0.7" stroke="rgba(230,230,230,0.5)" stroke-width="0.8"/>
<circle cx="303.9" cy="129.3" r="2.9" fill="#ffbf00" fill-opacity="0.7" stroke="rgba(230,230,230,0.5)" stroke-width="0.8"/>
<circle cx="279.2" cy="129.3" r="2.9" fill="#fffe00" fill-opacity="0.7" stroke="rgba(230,230,230,0.5)" stroke-width="0.8"/>
<circle cx="270.5" cy="83.0" r="2.9" fill="#ffff88" fill-opacity="0.7" stroke="rgba(230,230,230,0.5)" stroke-width="0.8"/>
<circle cx="287.1" cy="97.9" r="2.9" fill="#ff9900" fill-opacity="0.7" stroke="rgba(230,230,230,0.5)" stroke-width="0.8"/>
<circle cx="293.5" cy="94.0" r="2.9" fill="#ffff8b" fill-opacity="0.7" stroke="rgba(230,230,230,0.5)" stroke-width="0.8"/>
<circle cx="284.9" cy="74.4" r="2.9" fill="#ffff85" fill-opacity="0.7" stroke="rgba(230,230,230,0.5)" stroke-width="0.8"/>
<circle cx="291.8" cy="94.2" r="2.9" fill="#ffc100" fill-opacity="0.7" stroke="rgba(230,230,230,0.5)" stroke-width="0.8"/>
<circle cx="285.0" cy="120.1" r="2.9" fill="#ffff8e" fill-opacity="0.7" stroke="rgba(230,230,230,0.5)" stroke-width="0.8"/>
<circle cx="268.7" cy="88.2" r="2.9" fill="#ffff67" fill-opacity="0.7" stroke="rgba(230,230,230,0.5)" stroke-width="0.8"/>
<circle cx="291.3" cy="83.3" r="2.9" fill="#ff9000" fill-opacity="0.7" stroke="rgba(230,230,230,0.5)" stroke-width="0.8"/>
<circle cx="274.6" cy="94.7" r="2.9" fill="#ff9e00" fill-opacity="0.7" stroke="rgba(230,230,230,0.5)" stroke-width="0.8"/>
<circle cx="277.0" cy="71.7" r="2.9" fill="#ffff54" fill-opacity="0.7" stroke="rgba(230,230,230,0.5)" stroke-width="0.8"/>
<circle cx="300.1" cy="91.5" r="2.9" fill="#ff8f00" fill-opacity="0.7" stroke="rgba(230,230,230,0.5)" stroke-width="0.8"/>
<circle cx="303.0" cy="98.6" r="2.9" fill="#ff7c00" fill-opacity="0.7" stroke="rgba(230,230,230,0.5)" stroke-width="0.8"/>
<circle cx="300.3" cy="91.1" r="2.9" fill="#ff7b00" fill-opacity="0.7" stroke="rgba(230,230,230,0.5)" stroke-width="0.8"/>
<circle cx="260.0" cy="97.6" r="2.9" fill="#ffff7e" fill-opacity="0.7" stroke="rgba(230,230,230,0.5)" stroke-width="0.8"/>
<circle cx="273.7" cy="71.5" r="2.9" fill="#ffd200" fill-opacity="0.7" stroke="rgba(230,230,230,0.5)" stroke-width="0.8"/>
<circle cx="255.2" cy="82.3" r="2.9" fill="#ffff62" fill-opacity="0.7" stroke="rgba(230,230,230,0.5)" stroke-width="0.8"/>
<circle cx="310.7" cy="85.9" r="2.9" fill="#ff9200" fill-opacity="0.7" stroke="rgba(230,230,230,0.5)" stroke-width="0.8"/>
<circle cx="265.0" cy="87.5" r="2.9" fill="#ffbb00" fill-opacity="0.7" stroke="rgba(230,230,230,0.5)" stroke-width="0.8"/>
<circle cx="303.7" cy="84.1" r="2.9" fill="#ffa700" fill-opacity="0.7" stroke="rgba(230,230,230,0.5)" stroke-width="0.8"/>
<circle cx="305.9" cy="88.9" r="2.9" fill="#ff9e00" fill-opacity="0.7" stroke="rgba(230,230,230,0.5)" stroke-width="0.8"/>
<circle cx="317.4" cy="113.7" r="2.9" fill="#ff9300" fill-opacity="0.7" stroke="rgba(230,230,230,0.5)" stroke-width="0.8"/>
<circle cx="248.2" cy="81.2" r="2.9" fill="#ffff91" fill-opacity="0.7" stroke="rgba(230,230,230,0.5)" stroke-width="0.8"/>
<circle cx="292.8" cy="98.0" r="2.9" fill="#ffa500" fill-opacity="0.7" stroke="rgba(230,230,230,0.5)" stroke-width="0.8"/>
<circle cx="263.1" cy="106.7" r="2.9" fill="#ffffff" fill-opacity="0.7" stroke="rgba(230,230,230,0.5)" stroke-width="0.8"/>
<circle cx="284.4" cy="95.8" r="2.9" fill="#ffff28" fill-opacity="0.7" stroke="rgba(230,230,230,0.5)" stroke-width="0.8"/>
<circle cx="277.3" cy="102.9" r="2.9" fill="#ffff90" fill-opacity="0.7" stroke="rgba(230,230,230,0.5)" stroke-width="0.8"/>
<circle cx="270.4" cy="93.4" r="2.9" fill="#ffad00" fill-opacity="0.7" stroke="rgba(230,230,230,0.5)" stroke-width="0.8"/>
<circle cx="278.4" cy="126.0" r="2.9" fill="#ffffae" fill-opacity="0.7" stroke="rgba(230,230,230,0.5)" stroke-width="0.8"/>
<circle cx="277.2" cy="113.2" r="2.9" fill="#ffd300" fill-opacity="0.7" stroke="rgba(230,230,230,0.5)" stroke-width="0.8"/>
<circle cx="280.2" cy="91.0" r="2.9" fill="#ffff2a" fill-opacity="0.7" stroke="rgba(230,230,230,0.5)" stroke-width="0.8"/>
<circle cx="308.0" cy="91.3" r="2.9" fill="#ff9c00" fill-opacity="0.7" stroke="rgba(230,230,230,0.5)" stroke-width="0.8"/>
<circle cx="293.7" cy="78.7" r="2.9" fill="#ffc300" fill-opacity="0.7" stroke="rgba(230,230,230,0.5)" stroke-width="0.8"/>
<circle cx="274.1" cy="103.5" r="2.9" fill="#ffff94" fill-opacity="0.7" stroke="rgba(230,230,230,0.5)" stroke-width="0.8"/>
<circle cx="270.5" cy="89.2" r="2.9" fill="#ffa900" fill-opacity="0.7" stroke="rgba(230,230,230,0.5)" stroke-width="0.8"/>
<circle cx="283.0" cy="93.4" r="2.9" fill="#ffc000" fill-opacity="0.7" stroke="rgba(230,230,230,0.5)" stroke-width="0.8"/>
<circle cx="287.8" cy="80.1" r="2.9" fill="#ff9b00" fill-opacity="0.7" stroke="rgba(230,230,230,0.5)" stroke-width="0.8"/>
<circle cx="281.8" cy="108.0" r="2.9" fill="#ff9400" fill-opacity="0.7" stroke="rgba(230,230,230,0.5)" stroke-width="0.8"/>
<circle cx="281.7" cy="74.2" r="2.9" fill="#ff7b00" fill-opacity="0.7" stroke="rgba(230,230,230,0.5)" stroke-width="0.8"/>
<circle cx="302.2" cy="91.7" r="2.9" fill="#ffa400" fill-opacity="0.7" stroke="rgba(230,230,230,0.5)" stroke-width="0.8"/>
<circle cx="322.8" cy="124.6" r="2.9" fill="#ff8d00" fill-opacity="0.7" stroke="rgba(230,230,230,0.5)" stroke-width="0.8"/>
<circle cx="293.9" cy="85.3" r="2.9" fill="#ff9700" fill-opacity="0.7" stroke="rgba(230,230,230,0.5)" stroke-width="0.8"/>
<circle cx="252.1" cy="110.3" r="2.9" fill="#ffffff" fill-opacity="0.7" stroke="rgba(230,230,230,0.5)" stroke-width="0.8"/>
<circle cx="308.9" cy="131.7" r="2.9" fill="#ff7b00" fill-opacity="0.7" stroke="rgba(230,230,230,0.5)" stroke-width="0.8"/>
<circle cx="290.1" cy="91.0" r="2.9" fill="#ffff46" fill-opacity="0.7" stroke="rgba(230,230,230,0.5)" stroke-width="0.8"/>
<circle cx="281.2" cy="129.3" r="2.9" fill="#ffffff" fill-opacity="0.7" stroke="rgba(230,230,230,0.5)" stroke-width="0.8"/>
<circle cx="294.7" cy="96.6" r="2.9" fill="#ff7b00" fill-opacity="0.7" stroke="rgba(230,230,230,0.5)" stroke-width="0.8"/>
<circle cx="265.3" cy="120.0" r="2.9" fill="#ffffff" fill-opacity="0.7" stroke="rgba(230,230,230,0.5)" stroke-width="0.8"/>
<circle cx="262.3" cy="73.2" r="2.9" fill="#ffffb6" fill-opacity="0.7" stroke="rgba(230,230,230,0.5)" stroke-width="0.8"/>
<circle cx="304.4" cy="85.0" r="2.9" fill="#ffc300" fill-opacity="0.7" stroke="rgba(230,230,230,0.5)" stroke-width="0.8"/>
<circle cx="272.9" cy="85.8" r="2.9" fill="#ffff69" fill-opacity="0.7" stroke="rgba(230,230,230,0.5)" stroke-width="0.8"/>
<circle cx="301.2" cy="88.0" r="2.9" fill="#ff7b00" fill-opacity="0.7" stroke="rgba(230,230,230,0.5)" stroke-width="0.8"/>
<circle cx="293.6" cy="123.5" r="2.9" fill="#ffff46" fill-opacity="0.7" stroke="rgba(230,230,230,0.5)" stroke-width="0.8"/>
<circle cx="256.6" cy="97.4" r="2.9" fill="#ffff9a" fill-opacity="0.7" stroke="rgba(230,230,230,0.5)" stroke-width="0.8"/>
<circle cx="320.5" cy="92.2" r="2.9" fill="#ff7b00" fill-opacity="0.7" stroke="rgba(230,230,230,0.5)" stroke-width="0.8"/>
<circle cx="271.0" cy="76.2" r="2.9" fill="#ffff8d" fill-opacity="0.7" stroke="rgba(230,230,230,0.5)" stroke-width="0.8"/>
<circle cx="270.0" cy="108.3" r="2.9" fill="#ffcf00" fill-opacity="0.7" stroke="rgba(230,230,230,0.5)" stroke-width="0.8"/>
<circle cx="318.1" cy="105.6" r="2.9" fill="#ff7b00" fill-opacity="0.7" stroke="rgba(230,230,230,0.5)" stroke-width="0.8"/>
<circle cx="301.0" cy="101.9" r="2.9" fill="#ff9f00" fill-opacity="0.7" stroke="rgba(230,230,230,0.5)" stroke-width="0.8"/>
<circle cx="288.8" cy="88.2" r="2.9" fill="#ffad00" fill-opacity="0.7" stroke="rgba(230,230,230,0.5)" stroke-width="0.8"/>
<circle cx="285.5" cy="71.2" r="2.9" fill="#fff700" fill-opacity="0.7" stroke="rgba(230,230,230,0.5)" stroke-width="0.8"/>
<circle cx="251.9" cy="113.5" r="2.9" fill="#ffde00" fill-opacity="0.7" stroke="rgba(230,230,230,0.5)" stroke-width="0.8"/>
<circle cx="254.1" cy="95.9" r="2.9" fill="#ffffa4" fill-opacity="0.7" stroke="rgba(230,230,230,0.5)" stroke-width="0.8"/>
<circle cx="305.5" cy="106.3" r="2.9" fill="#ffec00" fill-opacity="0.7" stroke="rgba(230,230,230,0.5)" stroke-width="0.8"/>
<circle cx="300.3" cy="78.4" r="2.9" fill="#ffff9a" fill-opacity="0.7" stroke="rgba(230,230,230,0.5)" stroke-width="0.8"/>
<circle cx="298.7" cy="70.7" r="2.9" fill="#ff7b00" fill-opacity="0.7" stroke="rgba(230,230,230,0.5)" stroke-width="0.8"/>
<circle cx="291.5" cy="68.9" r="2.9" fill="#ffb100" fill-opacity="0.7" stroke="rgba(230,230,230,0.5)" stroke-width="0.8"/>
<circle cx="309.5" cy="127.5" r="2.9" fill="#fffb00" fill-opacity="0.7" stroke="rgba(230,230,230,0.5)" stroke-width="0.8"/>
<circle cx="295.4" cy="112.0" r="2.9" fill="#ff8e00" fill-opacity="0.7" stroke="rgba(230,230,230,0.5)" stroke-width="0.8"/>
<circle cx="275.2" cy="123.0" r="2.9" fill="#ffb700" fill-opacity="0.7" stroke="rgba(230,230,230,0.5)" stroke-width="0.8"/>
<circle cx="274.4" cy="113.4" r="2.9" fill="#ffff22" fill-opacity="0.7" stroke="rgba(230,230,230,0.5)" stroke-width="0.8"/>
<circle cx="259.8" cy="83.1" r="2.9" fill="#ffd000" fill-opacity="0.7" stroke="rgba(230,230,230,0.5)" stroke-width="0.8"/>
<circle cx="259.3" cy="83.7" r="2.9" fill="#ffff99" fill-opacity="0.7" stroke="rgba(230,230,230,0.5)" stroke-width="0.8"/>
<circle cx="273.9" cy="99.3" r="2.9" fill="#ffb300" fill-opacity="0.7" stroke="rgba(230,230,230,0.5)" stroke-width="0.8"/>
<circle cx="282.0" cy="109.1" r="2.9" fill="#ffff21" fill-opacity="0.7" stroke="rgba(230,230,230,0.5)" stroke-width="0.8"/>
<circle cx="281.7" cy="89.7" r="2.9" fill="#ffff6a" fill-opacity="0.7" stroke="rgba(230,230,230,0.5)" stroke-width="0.8"/>
<circle cx="278.0" cy="66.5" r="2.9" fill="#ffe200" fill-opacity="0.7" stroke="rgba(230,230,230,0.5)" stroke-width="0.8"/>
<circle cx="301.1" cy="92.9" r="2.9" fill="#ff7b00" fill-opacity="0.7" stroke="rgba(230,230,230,0.5)" stroke-width="0.8"/>
<circle cx="315.5" cy="120.8" r="2.9" fill="#ffa500" fill-opacity="0.7" stroke="rgba(230,230,230,0.5)" stroke-width="0.8"/>
<circle cx="286.0" cy="109.5" r="2.9" fill="#ffffa8" fill-opacity="0.7" stroke="rgba(230,230,230,0.5)" stroke-width="0.8"/>
<circle cx="272.5" cy="112.3" r="2.9" fill="#ff8400" fill-opacity="0.7" stroke="rgba(230,230,230,0.5)" stroke-width="0.8"/>
<circle cx="274.2" cy="107.7" r="2.9" fill="#ffff43" fill-opacity="0.7" stroke="rgba(230,230,230,0.5)" stroke-width="0.8"/>
<circle cx="260.3" cy="111.6" r="2.9" fill="#ffffff" fill-opacity="0.7" stroke="rgba(230,230,230,0.5)" stroke-width="0.8"/>
<circle cx="303.4" cy="88.3" r="2.9" fill="#ff8c00" fill-opacity="0.7" stroke="rgba(230,230,230,0.5)" stroke-width="0.8"/>
<circle cx="282.2" cy="101.2" r="2.9" fill="#ffd600" fill-opacity="0.7" stroke="rgba(230,230,230,0.5)" stroke-width="0.8"/>
<circle cx="284.2" cy="109.9" r="2.9" fill="#ffff90" fill-opacity="0.7" stroke="rgba(230,230,230,0.5)" stroke-width="0.8"/>
<circle cx="289.6" cy="120.9" r="2.9" fill="#ff7b00" fill-opacity="0.7" stroke="rgba(230,230,230,0.5)" stroke-width="0.8"/>
<circle cx="277.4" cy="104.7" r="2.9" fill="#ffff93" fill-opacity="0.7" stroke="rgba(230,230,230,0.5)" stroke-width="0.8"/>
<circle cx="278.7" cy="71.8" r="2.9" fill="#ffff0f" fill-opacity="0.7" stroke="rgba(230,230,230,0.5)" stroke-width="0.8"/>
<circle cx="270.0" cy="100.6" r="2.9" fill="#ffa800" fill-opacity="0.7" stroke="rgba(230,230,230,0.5)" stroke-width="0.8"/>
<circle cx="280.0" cy="114.5" r="2.9" fill="#ffff00" fill-opacity="0.7" stroke="rgba(230,230,230,0.5)" stroke-width="0.8"/>
<circle cx="264.7" cy="80.3" r="2.9" fill="#ffff94" fill-opacity="0.7" stroke="rgba(230,230,230,0.5)" stroke-width="0.8"/>
<circle cx="301.2" cy="102.2" r="2.9" fill="#ffc800" fill-opacity="0.7" stroke="rgba(230,230,230,0.5)" stroke-width="0.8"/>
<circle cx="284.6" cy="95.8" r="2.9" fill="#ffb100" fill-opacity="0.7" stroke="rgba(230,230,230,0.5)" stroke-width="0.8"/>
<circle cx="276.7" cy="117.5" r="2.9" fill="#ffb400" fill-opacity="0.7" stroke="rgba(230,230,230,0.5)" stroke-width="0.8"/>
<circle cx="281.2" cy="124.3" r="2.9" fill="#ffffff" fill-opacity="0.7" stroke="rgba(230,230,230,0.5)" stroke-width="0.8"/>
<circle cx="293.4" cy="71.8" r="2.9" fill="#ff9c00" fill-opacity="0.7" stroke="rgba(230,230,230,0.5)" stroke-width="0.8"/>
<circle cx="287.1" cy="83.6" r="2.9" fill="#ff7b00" fill-opacity="0.7" stroke="rgba(230,230,230,0.5)" stroke-width="0.8"/>
<circle cx="266.6" cy="98.8" r="2.9" fill="#ffff25" fill-opacity="0.7" stroke="rgba(230,230,230,0.5)" stroke-width="0.8"/>
<circle cx="300.9" cy="79.4" r="2.9" fill="#ffa300" fill-opacity="0.7" stroke="rgba(230,230,230,0.5)" stroke-width="0.8"/>
<circle cx="291.1" cy="124.0" r="2.9" fill="#ffff31" fill-opacity="0.7" stroke="rgba(230,230,230,0.5)" stroke-width="0.8"/>
<circle cx="280.6" cy="99.0" r="2.9" fill="#ff7b00" fill-opacity="0.7" stroke="rgba(230,230,230,0.5)" stroke-width="0.8"/>
<circle cx="287.4" cy="105.7" r="2.9" fill="#ffd700" fill-opacity="0.7" stroke="rgba(230,230,230,0.5)" stroke-width="0.8"/>
<circle cx="275.3" cy="101.4" r="2.9" fill="#ffff31" fill-opacity="0.7" stroke="rgba(230,230,230,0.5)" stroke-width="0.8"/>
<circle cx="294.4" cy="77.1" r="2.9" fill="#ffc100" fill-opacity="0.7" stroke="rgba(230,230,230,0.5)" stroke-width="0.8"/>
<circle cx="286.1" cy="72.5" r="2.9" fill="#ff9c00" fill-opacity="0.7" stroke="rgba(230,230,230,0.5)" stroke-width="0.8"/>
<circle cx="311.7" cy="126.0" r="2.9" fill="#ff9400" fill-opacity="0.7" stroke="rgba(230,230,230,0.5)" stroke-width="0.8"/>
<circle cx="269.4" cy="88.6" r="2.9" fill="#ffff85" fill-opacity="0.7" stroke="rgba(230,230,230,0.5)" stroke-width="0.8"/>
<circle cx="315.9" cy="98.7" r="2.9" fill="#ff7b00" fill-opacity="0.7" stroke="rgba(230,230,230,0.5)" stroke-width="0.8"/>
<circle cx="318.0" cy="104.2" r="2.9" fill="#ff7b00" fill-opacity="0.7" stroke="rgba(230,230,230,0.5)" stroke-width="0.8"/>
<circle cx="281.3" cy="113.6" r="2.9" fill="#ffca00" fill-opacity="0.7" stroke="rgba(230,230,230,0.5)" stroke-width="0.8"/>
<circle cx="287.0" cy="81.7" r="2.9" fill="#ffc700" fill-opacity="0.7" stroke="rgba(230,230,230,0.5)" stroke-width="0.8"/>
<circle cx="317.9" cy="119.4" r="2.9" fill="#ff7b00" fill-opacity="0.7" stroke="rgba(230,230,230,0.5)" stroke-width="0.8"/>
<circle cx="273.0" cy="95.3" r="2.9" fill="#ff9500" fill-opacity="0.7" stroke="rgba(230,230,230,0.5)" stroke-width="0.8"/>
<circle cx="280.1" cy="104.8" r="2.9" fill="#ffff97" fill-opacity="0.7" stroke="rgba(230,230,230,0.5)" stroke-width="0.8"/>
<circle cx="294.2" cy="93.3" r="2.9" fill="#ffc300" fill-opacity="0.7" stroke="rgba(230,230,230,0.5)" stroke-width="0.8"/>
<circle cx="322.2" cy="105.2" r="2.9" fill="#ff7b00" fill-opacity="0.7" stroke="rgba(230,230,230,0.5)" stroke-width="0.8"/>
<circle cx="260.8" cy="102.7" r="2.9" fill="#ffffff" fill-opacity="0.7" stroke="rgba(230,230,230,0.5)" stroke-width="0.8"/>
<circle cx="255.5" cy="68.0" r="2.9" fill="#ffff93" fill-opacity="0.7" stroke="rgba(230,230,230,0.5)" stroke-width="0.8"/>
<circle cx="319.1" cy="92.7" r="2.9" fill="#ff9d00" fill-opacity="0.7" stroke="rgba(230,230,230,0.5)" stroke-width="0.8"/>
<circle cx="313.2" cy="101.0" r="2.9" fill="#ff7b00" fill-opacity="0.7" stroke="rgba(230,230,230,0.5)" stroke-width="0.8"/>
<circle cx="287.5" cy="88.5" r="2.9" fill="#ff7b00" fill-opacity="0.7" stroke="rgba(230,230,230,0.5)" stroke-width="0.8"/>
<circle cx="264.2" cy="109.6" r="2.9" fill="#ffff92" fill-opacity="0.7" stroke="rgba(230,230,230,0.5)" stroke-width="0.8"/>
<circle cx="302.6" cy="73.7" r="2.9" fill="#ff8400" fill-opacity="0.7" stroke="rgba(230,230,230,0.5)" stroke-width="0.8"/>
<circle cx="278.9" cy="100.5" r="2.9" fill="#ffff82" fill-opacity="0.7" stroke="rgba(230,230,230,0.5)" stroke-width="0.8"/>
<circle cx="283.6" cy="76.6" r="2.9" fill="#ffab00" fill-opacity="0.7" stroke="rgba(230,230,230,0.5)" stroke-width="0.8"/>
<circle cx="250.0" cy="83.1" r="2.9" fill="#ffffff" fill-opacity="0.7" stroke="rgba(230,230,230,0.5)" stroke-width="0.8"/>
<circle cx="274.7" cy="112.7" r="2.9" fill="#ffe700" fill-opacity="0.7" stroke="rgba(230,230,230,0.5)" stroke-width="0.8"/>
<circle cx="266.3" cy="98.1" r="2.9" fill="#ffff91" fill-opacity="0.7" stroke="rgba(230,230,230,0.5)" stroke-width="0.8"/>
<circle cx="283.5" cy="100.4" r="2.9" fill="#ffff9c" fill-opacity="0.7" stroke="rgba(230,230,230,0.5)" stroke-width="0.8"/>
<circle cx="286.6" cy="102.3" r="2.9" fill="#ff9800" fill-opacity="0.7" stroke="rgba(230,230,230,0.5)" stroke-width="0.8"/>
<circle cx="304.1" cy="81.0" r="2.9" fill="#ff9900" fill-opacity="0.7" stroke="rgba(230,230,230,0.5)" stroke-width="0.8"/>
<circle cx="275.6" cy="108.5" r="2.9" fill="#ffff82" fill-opacity="0.7" stroke="rgba(230,230,230,0.5)" stroke-width="0.8"/>
<circle cx="309.3" cy="96.8" r="2.9" fill="#ffaa00" fill-opacity="0.7" stroke="rgba(230,230,230,0.5)" stroke-width="0.8"/>
<circle cx="266.3" cy="111.8" r="2.9" fill="#ffff91" fill-opacity="0.7" stroke="rgba(230,230,230,0.5)" stroke-width="0.8"/>
<circle cx="281.6" cy="114.4" r="2.9" fill="#ffff61" fill-opacity="0.7" stroke="rgba(230,230,230,0.5)" stroke-width="0.8"/>
<circle cx="286.9" cy="92.2" r="2.9" fill="#ff9300" fill-opacity="0.7" stroke="rgba(230,230,230,0.5)" stroke-width="0.8"/>
<circle cx="277.1" cy="96.0" r="2.9" fill="#ff7b00" fill-opacity="0.7" stroke="rgba(230,230,230,0.5)" stroke-width="0.8"/>
<circle cx="313.5" cy="110.3" r="2.9" fill="#ff7b00" fill-opacity="0.7" stroke="rgba(230,230,230,0.5)" stroke-width="0.8"/>
<circle cx="279.2" cy="101.9" r="2.9" fill="#ffff90" fill-opacity="0.7" stroke="rgba(230,230,230,0.5)" stroke-width="0.8"/>
<circle cx="266.1" cy="104.6" r="2.9" fill="#ffff9d" fill-opacity="0.7" stroke="rgba(230,230,230,0.5)" stroke-width="0.8"/>
<circle cx="281.4" cy="101.9" r="2.9" fill="#ffad00" fill-opacity="0.7" stroke="rgba(230,230,230,0.5)" stroke-width="0.8"/>
<circle cx="277.2" cy="74.9" r="2.9" fill="#ff8b00" fill-opacity="0.7" stroke="rgba(230,230,230,0.5)" stroke-width="0.8"/>
<circle cx="301.5" cy="104.5" r="2.9" fill="#ffb700" fill-opacity="0.7" stroke="rgba(230,230,230,0.5)" stroke-width="0.8"/>
<circle cx="273.8" cy="101.9" r="2.9" fill="#ffff92" fill-opacity="0.7" stroke="rgba(230,230,230,0.5)" stroke-width="0.8"/>
<circle cx="258.2" cy="73.8" r="2.9" fill="#ffa700" fill-opacity="0.7" stroke="rgba(230,230,230,0.5)" stroke-width="0.8"/>
<circle cx="287.7" cy="97.5" r="2.9" fill="#ffff97" fill-opacity="0.7" stroke="rgba(230,230,230,0.5)" stroke-width="0.8"/>
<circle cx="290.6" cy="86.2" r="2.9" fill="#ffe200" fill-opacity="0.7" stroke="rgba(230,230,230,0.5)" stroke-width="0.8"/>
<circle cx="260.7" cy="63.8" r="2.9" fill="#ff9d00" fill-opacity="0.7" stroke="rgba(230,230,230,0.5)" stroke-width="0.8"/>
<circle cx="297.1" cy="85.9" r="2.9" fill="#ffb300" fill-opacity="0.7" stroke="rgba(230,230,230,0.5)" stroke-width="0.8"/>
<circle cx="274.9" cy="99.3" r="2.9" fill="#ffff88" fill-opacity="0.7" stroke="rgba(230,230,230,0.5)" stroke-width="0.8"/>
<circle cx="268.1" cy="94.6" r="2.9" fill="#ffa800" fill-opacity="0.7" stroke="rgba(230,230,230,0.5)" stroke-width="0.8"/>
<circle cx="317.9" cy="111.0" r="2.9" fill="#ffff46" fill-opacity="0.7" stroke="rgba(230,230,230,0.5)" stroke-width="0.8"/>
<circle cx="318.0" cy="103.9" r="2.9" fill="#ffad00" fill-opacity="0.7" stroke="rgba(230,230,230,0.5)" stroke-width="0.8"/>
<circle cx="301.5" cy="95.3" r="2.9" fill="#ff8f00" fill-opacity="0.7" stroke="rgba(230,230,230,0.5)" stroke-width="0.8"/>
<circle cx="278.2" cy="100.3" r="2.9" fill="#fff900" fill-opacity="0.7" stroke="rgba(230,230,230,0.5)" stroke-width="0.8"/>
<circle cx="312.4" cy="97.0" r="2.9" fill="#ff9a00" fill-opacity="0.7" stroke="rgba(230,230,230,0.5)" stroke-width="0.8"/>
<circle cx="260.6" cy="82.8" r="2.9" fill="#ffffff" fill-opacity="0.7" stroke="rgba(230,230,230,0.5)" stroke-width="0.8"/>
<circle cx="281.1" cy="82.9" r="2.9" fill="#ffb500" fill-opacity="0.7" stroke="rgba(230,230,230,0.5)" stroke-width="0.8"/>
<circle cx="280.2" cy="74.8" r="2.9" fill="#ff7b00" fill-opacity="0.7" stroke="rgba(230,230,230,0.5)" stroke-width="0.8"/>
<circle cx="266.2" cy="69.9" r="2.9" fill="#ffaa00" fill-opacity="0.7" stroke="rgba(230,230,230,0.5)" stroke-width="0.8"/>
<circle cx="267.0" cy="110.0" r="2.9" fill="#ffff9e" fill-opacity="0.7" stroke="rgba(230,230,230,0.5)" stroke-width="0.8"/>
<circle cx="270.9" cy="128.9" r="2.9" fill="#ffffff" fill-opacity="0.7" stroke="rgba(230,230,230,0.5)" stroke-width="0.8"/>
<circle cx="246.1" cy="73.9" r="2.9" fill="#ffffff" fill-opacity="0.7" stroke="rgba(230,230,230,0.5)" stroke-width="0.8"/>
<circle cx="289.7" cy="92.7" r="2.9" fill="#ff9900" fill-opacity="0.7" stroke="rgba(230,230,230,0.5)" stroke-width="0.8"/>
<circle cx="283.1" cy="114.0" r="2.9" fill="#ffff4c" fill-opacity="0.7" stroke="rgba(230,230,230,0.5)" stroke-width="0.8"/>
<circle cx="282.2" cy="82.9" r="2.9" fill="#ff9b00" fill-opacity="0.7" stroke="rgba(230,230,230,0.5)" stroke-width="0.8"/>
<circle cx="308.8" cy="85.1" r="2.9" fill="#ff8100" fill-opacity="0.7" stroke="rgba(230,230,230,0.5)" stroke-width="0.8"/>
<circle cx="287.7" cy="97.9" r="2.9" fill="#ff7b00" fill-opacity="0.7" stroke="rgba(230,230,230,0.5)" stroke-width="0.8"/>
<circle cx="251.0" cy="97.4" r="2.9" fill="#ffff92" fill-opacity="0.7" stroke="rgba(230,230,230,0.5)" stroke-width="0.8"/>
<circle cx="259.7" cy="63.8" r="2.9" fill="#ffffff" fill-opacity="0.7" stroke="rgba(230,230,230,0.5)" stroke-width="0.8"/>
<circle cx="275.7" cy="90.5" r="2.9" fill="#ffce00" fill-opacity="0.7" stroke="rgba(230,230,230,0.5)" stroke-width="0.8"/>
<circle cx="267.1" cy="71.8" r="2.9" fill="#ffca00" fill-opacity="0.7" stroke="rgba(230,230,230,0.5)" stroke-width="0.8"/>
<circle cx="262.4" cy="96.3" r="2.9" fill="#ffffff" fill-opacity="0.7" stroke="rgba(230,230,230,0.5)" stroke-width="0.8"/>
<circle cx="289.9" cy="83.5" r="2.9" fill="#ff9700" fill-opacity="0.7" stroke="rgba(230,230,230,0.5)" stroke-width="0.8"/>
<circle cx="267.4" cy="75.8" r="2.9" fill="#ff9e00" fill-opacity="0.7" stroke="rgba(230,230,230,0.5)" stroke-width="0.8"/>
<circle cx="273.7" cy="100.5" r="2.9" fill="#ffd700" fill-opacity="0.7" stroke="rgba(230,230,230,0.5)" stroke-width="0.8"/>
<circle cx="268.5" cy="89.5" r="2.9" fill="#ffb700" fill-opacity="0.7" stroke="rgba(230,230,230,0.5)" stroke-width="0.8"/>
<circle cx="290.9" cy="95.6" r="2.9" fill="#ffdb00" fill-opacity="0.7" stroke="rgba(230,230,230,0.5)" stroke-width="0.8"/>
<circle cx="287.7" cy="121.1" r="2.9" fill="#ffc900" fill-opacity="0.7" stroke="rgba(230,230,230,0.5)" stroke-width="0.8"/>
<circle cx="287.8" cy="103.6" r="2.9" fill="#ffc500" fill-opacity="0.7" stroke="rgba(230,230,230,0.5)" stroke-width="0.8"/>
<circle cx="286.4" cy="106.9" r="2.9" fill="#ffff26" fill-opacity="0.7" stroke="rgba(230,230,230,0.5)" stroke-width="0.8"/>
<circle cx="294.8" cy="107.0" r="2.9" fill="#ff9c00" fill-opacity="0.7" stroke="rgba(230,230,230,0.5)" stroke-width="0.8"/>
<circle cx="277.8" cy="117.6" r="2.9" fill="#ffffb7" fill-opacity="0.7" stroke="rgba(230,230,230,0.5)" stroke-width="0.8"/>
<circle cx="280.1" cy="122.6" r="2.9" fill="#ffe400" fill-opacity="0.7" stroke="rgba(230,230,230,0.5)" stroke-width="0.8"/>
<circle cx="319.2" cy="110.8" r="2.9" fill="#ff9100" fill-opacity="0.7" stroke="rgba(230,230,230,0.5)" stroke-width="0.8"/>
<circle cx="298.0" cy="82.5" r="2.9" fill="#ff7b00" fill-opacity="0.7" stroke="rgba(230,230,230,0.5)" stroke-width="0.8"/>
<circle cx="274.5" cy="111.5" r="2.9" fill="#ffff91" fill-opacity="0.7" stroke="rgba(230,230,230,0.5)" stroke-width="0.8"/>
<circle cx="280.3" cy="96.4" r="2.9" fill="#ff9400" fill-opacity="0.7" stroke="rgba(230,230,230,0.5)" stroke-width="0.8"/>
<circle cx="281.9" cy="73.7" r="2.9" fill="#ffff56" fill-opacity="0.7" stroke="rgba(230,230,230,0.5)" stroke-width="0.8"/>
<circle cx="303.2" cy="81.8" r="2.9" fill="#ff7b00" fill-opacity="0.7" stroke="rgba(230,230,230,0.5)" stroke-width="0.8"/>
<circle cx="321.6" cy="96.3" r="2.9" fill="#ff7b00" fill-opacity="0.7" stroke="rgba(230,230,230,0.5)" stroke-width="0.8"/>
<circle cx="270.8" cy="83.0" r="2.9" fill="#ffc600" fill-opacity="0.7" stroke="rgba(230,230,230,0.5)" stroke-width="0.8"/>
<circle cx="257.5" cy="105.7" r="2.9" fill="#ffff5d" fill-opacity="0.7" stroke="rgba(230,230,230,0.5)" stroke-width="0.8"/>
<circle cx="326.3" cy="111.3" r="2.9" fill="#ff7b00" fill-opacity="0.7" stroke="rgba(230,230,230,0.5)" stroke-width="0.8"/>
<circle cx="265.7" cy="94.2" r="2.9" fill="#ff9500" fill-opacity="0.7" stroke="rgba(230,230,230,0.5)" stroke-width="0.8"/>
<circle cx="269.3" cy="81.3" r="2.9" fill="#fffb00" fill-opacity="0.7" stroke="rgba(230,230,230,0.5)" stroke-width="0.8"/>
<circle cx="294.6" cy="97.2" r="2.9" fill="#ffe500" fill-opacity="0.7" stroke="rgba(230,230,230,0.5)" stroke-width="0.8"/>
<circle cx="271.1" cy="119.3" r="2.9" fill="#ffffff" fill-opacity="0.7" stroke="rgba(230,230,230,0.5)" stroke-width="0.8"/>
<circle cx="278.9" cy="93.5" r="2.9" fill="#ffbe00" fill-opacity="0.7" stroke="rgba(230,230,230,0.5)" stroke-width="0.8"/>
<circle cx="277.0" cy="71.7" r="2.9" fill="#ffba00" fill-opacity="0.7" stroke="rgba(230,230,230,0.5)" stroke-width="0.8"/>
<circle cx="265.9" cy="80.2" r="2.9" fill="#ffa300" fill-opacity="0.7" stroke="rgba(230,230,230,0.5)" stroke-width="0.8"/>
<circle cx="290.6" cy="74.1" r="2.9" fill="#ffd200" fill-opacity="0.7" stroke="rgba(230,230,230,0.5)" stroke-width="0.8"/>
<circle cx="246.5" cy="71.8" r="2.9" fill="#ffff81" fill-opacity="0.7" stroke="rgba(230,230,230,0.5)" stroke-width="0.8"/>
<circle cx="278.7" cy="71.7" r="2.9" fill="#ffffb5" fill-opacity="0.7" stroke="rgba(230,230,230,0.5)" stroke-width="0.8"/>
<circle cx="286.5" cy="129.1" r="2.9" fill="#ffffa6" fill-opacity="0.7" stroke="rgba(230,230,230,0.5)" stroke-width="0.8"/>
<circle cx="282.3" cy="91.9" r="2.9" fill="#ffffa7" fill-opacity="0.7" stroke="rgba(230,230,230,0.5)" stroke-width="0.8"/>
<circle cx="288.7" cy="100.5" r="2.9" fill="#ff7b00" fill-opacity="0.7" stroke="rgba(230,230,230,0.5)" stroke-width="0.8"/>
<circle cx="272.4" cy="103.4" r="2.9" fill="#ff7b00" fill-opacity="0.7" stroke="rgba(230,230,230,0.5)" stroke-width="0.8"/>
<circle cx="290.9" cy="90.9" r="2.9" fill="#ff9d00" fill-opacity="0.7" stroke="rgba(230,230,230,0.5)" stroke-width="0.8"/>
<circle cx="288.5" cy="103.1" r="2.9" fill="#ffff82" fill-opacity="0.7" stroke="rgba(230,230,230,0.5)" stroke-width="0.8"/>
<circle cx="254.1" cy="114.0" r="2.9" fill="#ffff95" fill-opacity="0.7" stroke="rgba(230,230,230,0.5)" stroke-width="0.8"/>
<circle cx="282.8" cy="101.5" r="2.9" fill="#ffc500" fill-opacity="0.7" stroke="rgba(230,230,230,0.5)" stroke-width="0.8"/>
<circle cx="306.2" cy="81.0" r="2.9" fill="#ffa400" fill-opacity="0.7" stroke="rgba(230,230,230,0.5)" stroke-width="0.8"/>
<circle cx="281.5" cy="110.2" r="2.9" fill="#fff100" fill-opacity="0.7" stroke="rgba(230,230,230,0.5)" stroke-width="0.8"/>
<circle cx="290.1" cy="100.8" r="2.9" fill="#ff7b00" fill-opacity="0.7" stroke="rgba(230,230,230,0.5)" stroke-width="0.8"/>
<circle cx="317.8" cy="125.4" r="2.9" fill="#ff7b00" fill-opacity="0.7" stroke="rgba(230,230,230,0.5)" stroke-width="0.8"/>
<circle cx="297.2" cy="102.5" r="2.9" fill="#ffa400" fill-opacity="0.7" stroke="rgba(230,230,230,0.5)" stroke-width="0.8"/>
<circle cx="277.6" cy="101.3" r="2.9" fill="#ff7b00" fill-opacity="0.7" stroke="rgba(230,230,230,0.5)" stroke-width="0.8"/>
<circle cx="270.5" cy="98.9" r="2.9" fill="#ffa300" fill-opacity="0.7" stroke="rgba(230,230,230,0.5)" stroke-width="0.8"/>
<circle cx="292.1" cy="84.6" r="2.9" fill="#ff8800" fill-opacity="0.7" stroke="rgba(230,230,230,0.5)" stroke-width="0.8"/>
<circle cx="261.4" cy="99.6" r="2.9" fill="#ffffa9" fill-opacity="0.7" stroke="rgba(230,230,230,0.5)" stroke-width="0.8"/>
<circle cx="315.6" cy="85.8" r="2.9" fill="#ff7b00" fill-opacity="0.7" stroke="rgba(230,230,230,0.5)" stroke-width="0.8"/>
<circle cx="286.5" cy="111.5" r="2.9" fill="#ff8e00" fill-opacity="0.7" stroke="rgba(230,230,230,0.5)" stroke-width="0.8"/>
<circle cx="277.7" cy="66.1" r="2.9" fill="#ff7b00" fill-opacity="0.7" stroke="rgba(230,230,230,0.5)" stroke-width="0.8"/>
<circle cx="273.2" cy="102.8" r="2.9" fill="#ffa700" fill-opacity="0.7" stroke="rgba(230,230,230,0.5)" stroke-width="0.8"/>
<circle cx="328.2" cy="110.4" r="2.9" fill="#ff9300" fill-opacity="0.7" stroke="rgba(230,230,230,0.5)" stroke-width="0.8"/>
<circle cx="308.7" cy="115.1" r="2.9" fill="#ffbd00" fill-opacity="0.7" stroke="rgba(230,230,230,0.5)" stroke-width="0.8"/>
<circle cx="246.3" cy="86.2" r="2.9" fill="#ffffff" fill-opacity="0.7" stroke="rgba(230,230,230,0.5)" stroke-width="0.8"/>
<circle cx="272.8" cy="85.1" r="2.9" fill="#ff9d00" fill-opacity="0.7" stroke="rgba(230,230,230,0.5)" stroke-width="0.8"/>
<circle cx="300.7" cy="89.6" r="2.9" fill="#ff7b00" fill-opacity="0.7" stroke="rgba(230,230,230,0.5)" stroke-width="0.8"/>
<circle cx="307.0" cy="106.1" r="2.9" fill="#ffac00" fill-opacity="0.7" stroke="rgba(230,230,230,0.5)" stroke-width="0.8"/>
<circle cx="309.1" cy="97.7" r="2.9" fill="#ff9800" fill-opacity="0.7" stroke="rgba(230,230,230,0.5)" stroke-width="0.8"/>
<circle cx="300.3" cy="92.3" r="2.9" fill="#ff7b00" fill-opacity="0.7" stroke="rgba(230,230,230,0.5)" stroke-width="0.8"/>
<circle cx="300.3" cy="74.2" r="2.9" fill="#ffbe00" fill-opacity="0.7" stroke="rgba(230,230,230,0.5)" stroke-width="0.8"/>
<circle cx="312.8" cy="112.1" r="2.9" fill="#ff9500" fill-opacity="0.7" stroke="rgba(230,230,230,0.5)" stroke-width="0.8"/>
<circle cx="260.0" cy="86.5" r="2.9" fill="#ffffff" fill-opacity="0.7" stroke="rgba(230,230,230,0.5)" stroke-width="0.8"/>
<circle cx="266.0" cy="113.2" r="2.9" fill="#ffff98" fill-opacity="0.7" stroke="rgba(230,230,230,0.5)" stroke-width="0.8"/>
<circle cx="294.1" cy="75.5" r="2.9" fill="#ff7b00" fill-opacity="0.7" stroke="rgba(230,230,230,0.5)" stroke-width="0.8"/>
<circle cx="284.3" cy="100.6" r="2.9" fill="#ffc100" fill-opacity="0.7" stroke="rgba(230,230,230,0.5)" stroke-width="0.8"/>
<circle cx="303.6" cy="82.9" r="2.9" fill="#ff7b00" fill-opacity="0.7" stroke="rgba(230,230,230,0.5)" stroke-width="0.8"/>
<circle cx="295.7" cy="95.4" r="2.9" fill="#ff7b00" fill-opacity="0.7" stroke="rgba(230,230,230,0.5)" stroke-width="0.8"/>
<circle cx="312.9" cy="109.2" r="2.9" fill="#ffe100" fill-opacity="0.7" stroke="rgba(230,230,230,0.5)" stroke-width="0.8"/>
<circle cx="286.6" cy="104.2" r="2.9" fill="#ff8b00" fill-opacity="0.7" stroke="rgba(230,230,230,0.5)" stroke-width="0.8"/>
<circle cx="267.7" cy="90.6" r="2.9" fill="#ffd200" fill-opacity="0.7" stroke="rgba(230,230,230,0.5)" stroke-width="0.8"/>
<circle cx="262.2" cy="105.5" r="2.9" fill="#ffff8e" fill-opacity="0.7" stroke="rgba(230,230,230,0.5)" stroke-width="0.8"/>
<circle cx="316.6" cy="87.7" r="2.9" fill="#fff900" fill-opacity="0.7" stroke="rgba(230,230,230,0.5)" stroke-width="0.8"/>
<circle cx="293.5" cy="95.3" r="2.9" fill="#ff9900" fill-opacity="0.7" stroke="rgba(230,230,230,0.5)" stroke-width="0.8"/>
<circle cx="299.6" cy="94.2" r="2.9" fill="#ff7b00" fill-opacity="0.7" stroke="rgba(230,230,230,0.5)" stroke-width="0.8"/>
<circle cx="284.5" cy="76.5" r="2.9" fill="#ffa700" fill-opacity="0.7" stroke="rgba(230,230,230,0.5)" stroke-width="0.8"/>
<circle cx="255.2" cy="99.0" r="2.9" fill="#ffffff" fill-opacity="0.7" stroke="rgba(230,230,230,0.5)" stroke-width="0.8"/>
<circle cx="272.6" cy="131.1" r="2.9" fill="#ffff89" fill-opacity="0.7" stroke="rgba(230,230,230,0.5)" stroke-width="0.8"/>
<circle cx="265.6" cy="97.7" r="2.9" fill="#ffffff" fill-opacity="0.7" stroke="rgba(230,230,230,0.5)" stroke-width="0.8"/>
<circle cx="259.4" cy="83.9" r="2.9" fill="#ffffff" fill-opacity="0.7" stroke="rgba(230,230,230,0.5)" stroke-width="0.8"/>
<circle cx="281.7" cy="100.5" r="2.9" fill="#ff7b00" fill-opacity="0.7" stroke="rgba(230,230,230,0.5)" stroke-width="0.8"/>
<circle cx="277.5" cy="114.4" r="2.9" fill="#ff9700" fill-opacity="0.7" stroke="rgba(230,230,230,0.5)" stroke-width="0.8"/>
<circle cx="308.5" cy="107.1" r="2.9" fill="#ffc200" fill-opacity="0.7" stroke="rgba(230,230,230,0.5)" stroke-width="0.8"/>
<circle cx="296.8" cy="122.6" r="2.9" fill="#ff7b00" fill-opacity="0.7" stroke="rgba(230,230,230,0.5)" stroke-width="0.8"/>
<circle cx="314.2" cy="93.8" r="2.9" fill="#ff7b00" fill-opacity="0.7" stroke="rgba(230,230,230,0.5)" stroke-width="0.8"/>
<circle cx="290.5" cy="74.0" r="2.9" fill="#ffff60" fill-opacity="0.7" stroke="rgba(230,230,230,0.5)" stroke-width="0.8"/>
<circle cx="272.9" cy="128.9" r="2.9" fill="#ffffff" fill-opacity="0.7" stroke="rgba(230,230,230,0.5)" stroke-width="0.8"/>
<circle cx="269.1" cy="90.0" r="2.9" fill="#ffa400" fill-opacity="0.7" stroke="rgba(230,230,230,0.5)" stroke-width="0.8"/>
<circle cx="282.7" cy="81.8" r="2.9" fill="#ff9d00" fill-opacity="0.7" stroke="rgba(230,230,230,0.5)" stroke-width="0.8"/>
<circle cx="302.0" cy="95.9" r="2.9" fill="#ffa300" fill-opacity="0.7" stroke="rgba(230,230,230,0.5)" stroke-width="0.8"/>
<circle cx="292.2" cy="119.3" r="2.9" fill="#ff9c00" fill-opacity="0.7" stroke="rgba(230,230,230,0.5)" stroke-width="0.8"/>
<circle cx="273.6" cy="81.3" r="2.9" fill="#ffa400" fill-opacity="0.7" stroke="rgba(230,230,230,0.5)" stroke-width="0.8"/>
<circle cx="287.3" cy="91.9" r="2.9" fill="#ffc000" fill-opacity="0.7" stroke="rgba(230,230,230,0.5)" stroke-width="0.8"/>
<circle cx="239.3" cy="70.0" r="2.9" fill="#ffff77" fill-opacity="0.7" stroke="rgba(230,230,230,0.5)" stroke-width="0.8"/>
<circle cx="298.2" cy="93.7" r="2.9" fill="#ffdd00" fill-opacity="0.7" stroke="rgba(230,230,230,0.5)" stroke-width="0.8"/>
<circle cx="300.7" cy="90.9" r="2.9" fill="#ff7b00" fill-opacity="0.7" stroke="rgba(230,230,230,0.5)" stroke-width="0.8"/>
<circle cx="262.7" cy="97.0" r="2.9" fill="#ff9400" fill-opacity="0.7" stroke="rgba(230,230,230,0.5)" stroke-width="0.8"/>
<circle cx="297.1" cy="121.5" r="2.9" fill="#ffef00" fill-opacity="0.7" stroke="rgba(230,230,230,0.5)" stroke-width="0.8"/>
<circle cx="321.4" cy="116.1" r="2.9" fill="#ff8300" fill-opacity="0.7" stroke="rgba(230,230,230,0.5)" stroke-width="0.8"/>
<circle cx="282.9" cy="71.4" r="2.9" fill="#ffad00" fill-opacity="0.7" stroke="rgba(230,230,230,0.5)" stroke-width="0.8"/>
<circle cx="269.3" cy="94.8" r="2.9" fill="#ffff93" fill-opacity="0.7" stroke="rgba(230,230,230,0.5)" stroke-width="0.8"/>
<circle cx="278.7" cy="103.0" r="2.9" fill="#ffff50" fill-opacity="0.7" stroke="rgba(230,230,230,0.5)" stroke-width="0.8"/>
<circle cx="240.0" cy="67.5" r="2.9" fill="#ffffb4" fill-opacity="0.7" stroke="rgba(230,230,230,0.5)" stroke-width="0.8"/>
<circle cx="270.8" cy="112.5" r="2.9" fill="#ffff94" fill-opacity="0.7" stroke="rgba(230,230,230,0.5)" stroke-width="0.8"/>
<circle cx="263.7" cy="106.4" r="2.9" fill="#ffff7b" fill-opacity="0.7" stroke="rgba(230,230,230,0.5)" stroke-width="0.8"/>
<circle cx="270.4" cy="94.5" r="2.9" fill="#ffff93" fill-opacity="0.7" stroke="rgba(230,230,230,0.5)" stroke-width="0.8"/>
<circle cx="298.6" cy="113.3" r="2.9" fill="#ff8f00" fill-opacity="0.7" stroke="rgba(230,230,230,0.5)" stroke-width="0.8"/>
<circle cx="275.8" cy="116.2" r="2.9" fill="#ffffb8" fill-opacity="0.7" stroke="rgba(230,230,230,0.5)" stroke-width="0.8"/>
<circle cx="323.2" cy="115.5" r="2.9" fill="#ff7b00" fill-opacity="0.7" stroke="rgba(230,230,230,0.5)" stroke-width="0.8"/>
<circle cx="288.5" cy="128.2" r="2.9" fill="#ffff0e" fill-opacity="0.7" stroke="rgba(230,230,230,0.5)" stroke-width="0.8"/>
<circle cx="253.1" cy="88.5" r="2.9" fill="#ffffab" fill-opacity="0.7" stroke="rgba(230,230,230,0.5)" stroke-width="0.8"/>
<circle cx="320.0" cy="94.1" r="2.9" fill="#ffd400" fill-opacity="0.7" stroke="rgba(230,230,230,0.5)" stroke-width="0.8"/>
<circle cx="314.9" cy="89.1" r="2.9" fill="#ff9c00" fill-opacity="0.7" stroke="rgba(230,230,230,0.5)" stroke-width="0.8"/>
<circle cx="308.6" cy="100.9" r="2.9" fill="#ff7b00" fill-opacity="0.7" stroke="rgba(230,230,230,0.5)" stroke-width="0.8"/>
<circle cx="268.4" cy="85.3" r="2.9" fill="#ffa600" fill-opacity="0.7" stroke="rgba(230,230,230,0.5)" stroke-width="0.8"/>
<circle cx="287.1" cy="113.2" r="2.9" fill="#ffb100" fill-opacity="0.7" stroke="rgba(230,230,230,0.5)" stroke-width="0.8"/>
<circle cx="273.5" cy="120.5" r="2.9" fill="#ffff7d" fill-opacity="0.7" stroke="rgba(230,230,230,0.5)" stroke-width="0.8"/>
<circle cx="300.0" cy="84.1" r="2.9" fill="#ffae00" fill-opacity="0.7" stroke="rgba(230,230,230,0.5)" stroke-width="0.8"/>
<circle cx="278.5" cy="121.3" r="2.9" fill="#ffff0a" fill-opacity="0.7" stroke="rgba(230,230,230,0.5)" stroke-width="0.8"/>
<circle cx="313.0" cy="89.3" r="2.9" fill="#ff8900" fill-opacity="0.7" stroke="rgba(230,230,230,0.5)" stroke-width="0.8"/>
<circle cx="294.9" cy="127.3" r="2.9" fill="#ffff79" fill-opacity="0.7" stroke="rgba(230,230,230,0.5)" stroke-width="0.8"/>
<circle cx="297.7" cy="69.4" r="2.9" fill="#ffac00" fill-opacity="0.7" stroke="rgba(230,230,230,0.5)" stroke-width="0.8"/>
<circle cx="297.2" cy="95.3" r="2.9" fill="#ff7b00" fill-opacity="0.7" stroke="rgba(230,230,230,0.5)" stroke-width="0.8"/>
<circle cx="273.3" cy="130.6" r="2.9" fill="#ffffff" fill-opacity="0.7" stroke="rgba(230,230,230,0.5)" stroke-width="0.8"/>
<circle cx="285.4" cy="109.1" r="2.9" fill="#ff9500" fill-opacity="0.7" stroke="rgba(230,230,230,0.5)" stroke-width="0.8"/>
<circle cx="284.4" cy="92.6" r="2.9" fill="#ff9500" fill-opacity="0.7" stroke="rgba(230,230,230,0.5)" stroke-width="0.8"/>
<circle cx="288.5" cy="116.4" r="2.9" fill="#ffb300" fill-opacity="0.7" stroke="rgba(230,230,230,0.5)" stroke-width="0.8"/>
<circle cx="300.0" cy="99.3" r="2.9" fill="#ffc800" fill-opacity="0.7" stroke="rgba(230,230,230,0.5)" stroke-width="0.8"/>
<circle cx="282.8" cy="104.2" r="2.9" fill="#ff9b00" fill-opacity="0.7" stroke="rgba(230,230,230,0.5)" stroke-width="0.8"/>
<circle cx="272.1" cy="100.2" r="2.9" fill="#ffff35" fill-opacity="0.7" stroke="rgba(230,230,230,0.5)" stroke-width="0.8"/>
<circle cx="272.4" cy="116.4" r="2.9" fill="#ffff88" fill-opacity="0.7" stroke="rgba(230,230,230,0.5)" stroke-width="0.8"/>
<circle cx="285.9" cy="84.0" r="2.9" fill="#ff7b00" fill-opacity="0.7" stroke="rgba(230,230,230,0.5)" stroke-width="0.8"/>
<circle cx="283.1" cy="129.0" r="2.9" fill="#ffff69" fill-opacity="0.7" stroke="rgba(230,230,230,0.5)" stroke-width="0.8"/>
<circle cx="278.8" cy="82.6" r="2.9" fill="#ff8d00" fill-opacity="0.7" stroke="rgba(230,230,230,0.5)" stroke-width="0.8"/>
<circle cx="287.7" cy="83.7" r="2.9" fill="#ffa100" fill-opacity="0.7" stroke="rgba(230,230,230,0.5)" stroke-width="0.8"/>
<circle cx="283.1" cy="115.8" r="2.9" fill="#ffff0a" fill-opacity="0.7" stroke="rgba(230,230,230,0.5)" stroke-width="0.8"/>
<circle cx="272.6" cy="112.5" r="2.9" fill="#ffff9a" fill-opacity="0.7" stroke="rgba(230,230,230,0.5)" stroke-width="0.8"/>
<circle cx="299.2" cy="69.1" r="2.9" fill="#ffff09" fill-opacity="0.7" stroke="rgba(230,230,230,0.5)" stroke-width="0.8"/>
<circle cx="259.3" cy="106.9" r="2.9" fill="#ffff99" fill-opacity="0.7" stroke="rgba(230,230,230,0.5)" stroke-width="0.8"/>
<circle cx="326.4" cy="101.3" r="2.9" fill="#ffff0d" fill-opacity="0.7" stroke="rgba(230,230,230,0.5)" stroke-width="0.8"/>
<circle cx="304.9" cy="127.6" r="2.9" fill="#ffff7a" fill-opacity="0.7" stroke="rgba(230,230,230,0.5)" stroke-width="0.8"/>
<circle cx="310.0" cy="104.6" r="2.9" fill="#ff8600" fill-opacity="0.7" stroke="rgba(230,230,230,0.5)" stroke-width="0.8"/>
<circle cx="324.9" cy="104.1" r="2.9" fill="#ff7b00" fill-opacity="0.7" stroke="rgba(230,230,230,0.5)" stroke-width="0.8"/>
<circle cx="312.8" cy="115.0" r="2.9" fill="#ff7b00" fill-opacity="0.7" stroke="rgba(230,230,230,0.5)" stroke-width="0.8"/>
<circle cx="244.0" cy="90.5" r="2.9" fill="#ffffff" fill-opacity="0.7" stroke="rgba(230,230,230,0.5)" stroke-width="0.8"/>
<circle cx="266.0" cy="64.5" r="2.9" fill="#ffff9e" fill-opacity="0.7" stroke="rgba(230,230,230,0.5)" stroke-width="0.8"/>
<circle cx="267.2" cy="110.4" r="2.9" fill="#ffff96" fill-opacity="0.7" stroke="rgba(230,230,230,0.5)" stroke-width="0.8"/>
<circle cx="288.3" cy="114.9" r="2.9" fill="#ffa800" fill-opacity="0.7" stroke="rgba(230,230,230,0.5)" stroke-width="0.8"/>
<circle cx="282.9" cy="72.5" r="2.9" fill="#ff9e00" fill-opacity="0.7" stroke="rgba(230,230,230,0.5)" stroke-width="0.8"/>
<circle cx="259.5" cy="105.8" r="2.9" fill="#ffffff" fill-opacity="0.7" stroke="rgba(230,230,230,0.5)" stroke-width="0.8"/>
<circle cx="277.5" cy="86.2" r="2.9" fill="#ffe300" fill-opacity="0.7" stroke="rgba(230,230,230,0.5)" stroke-width="0.8"/>
<circle cx="268.6" cy="93.7" r="2.9" fill="#ffc600" fill-opacity="0.7" stroke="rgba(230,230,230,0.5)" stroke-width="0.8"/>
<circle cx="313.1" cy="114.3" r="2.9" fill="#ff7c00" fill-opacity="0.7" stroke="rgba(230,230,230,0.5)" stroke-width="0.8"/>
<circle cx="291.4" cy="115.9" r="2.9" fill="#ffff71" fill-opacity="0.7" stroke="rgba(230,230,230,0.5)" stroke-width="0.8"/>
<circle cx="303.9" cy="97.6" r="2.9" fill="#ffb800" fill-opacity="0.7" stroke="rgba(230,230,230,0.5)" stroke-width="0.8"/>
<circle cx="279.9" cy="97.7" r="2.9" fill="#ffbd00" fill-opacity="0.7" stroke="rgba(230,230,230,0.5)" stroke-width="0.8"/>
<circle cx="288.2" cy="101.1" r="2.9" fill="#ffaa00" fill-opacity="0.7" stroke="rgba(230,230,230,0.5)" stroke-width="0.8"/>
<circle cx="257.7" cy="99.1" r="2.9" fill="#ffa500" fill-opacity="0.7" stroke="rgba(230,230,230,0.5)" stroke-width="0.8"/>
<circle cx="284.2" cy="85.6" r="2.9" fill="#ffa100" fill-opacity="0.7" stroke="rgba(230,230,230,0.5)" stroke-width="0.8"/>
<circle cx="287.5" cy="100.7" r="2.9" fill="#ff8c00" fill-opacity="0.7" stroke="rgba(230,230,230,0.5)" stroke-width="0.8"/>
<circle cx="315.9" cy="93.5" r="2.9" fill="#ff7b00" fill-opacity="0.7" stroke="rgba(230,230,230,0.5)" stroke-width="0.8"/>
<circle cx="315.1" cy="102.8" r="2.9" fill="#ff7b00" fill-opacity="0.7" stroke="rgba(230,230,230,0.5)" stroke-width="0.8"/>
<circle cx="272.9" cy="96.0" r="2.9" fill="#ffff69" fill-opacity="0.7" stroke="rgba(230,230,230,0.5)" stroke-width="0.8"/>
<circle cx="276.6" cy="79.1" r="2.9" fill="#ff9d00" fill-opacity="0.7" stroke="rgba(230,230,230,0.5)" stroke-width="0.8"/>
<circle cx="298.1" cy="79.3" r="2.9" fill="#ff7b00" fill-opacity="0.7" stroke="rgba(230,230,230,0.5)" stroke-width="0.8"/>
<circle cx="294.0" cy="84.6" r="2.9" fill="#ff7b00" fill-opacity="0.7" stroke="rgba(230,230,230,0.5)" stroke-width="0.8"/>
<circle cx="305.3" cy="81.2" r="2.9" fill="#ffc500" fill-opacity="0.7" stroke="rgba(230,230,230,0.5)" stroke-width="0.8"/>
<circle cx="293.3" cy="95.3" r="2.9" fill="#ffff8f" fill-opacity="0.7" stroke="rgba(230,230,230,0.5)" stroke-width="0.8"/>
<circle cx="307.9" cy="111.3" r="2.9" fill="#ffcb00" fill-opacity="0.7" stroke="rgba(230,230,230,0.5)" stroke-width="0.8"/>
<circle cx="311.8" cy="92.3" r="2.9" fill="#ff7b00" fill-opacity="0.7" stroke="rgba(230,230,230,0.5)" stroke-width="0.8"/>
<circle cx="276.3" cy="89.9" r="2.9" fill="#ffff5c" fill-opacity="0.7" stroke="rgba(230,230,230,0.5)" stroke-width="0.8"/>
<circle cx="291.9" cy="114.0" r="2.9" fill="#ffec00" fill-opacity="0.7" stroke="rgba(230,230,230,0.5)" stroke-width="0.8"/>
<circle cx="284.2" cy="117.7" r="2.9" fill="#ffc300" fill-opacity="0.7" stroke="rgba(230,230,230,0.5)" stroke-width="0.8"/>
<circle cx="268.2" cy="88.0" r="2.9" fill="#ffff92" fill-opacity="0.7" stroke="rgba(230,230,230,0.5)" stroke-width="0.8"/>
<circle cx="296.5" cy="78.6" r="2.9" fill="#ff9a00" fill-opacity="0.7" stroke="rgba(230,230,230,0.5)" stroke-width="0.8"/>
<circle cx="273.7" cy="89.0" r="2.9" fill="#ffff73" fill-opacity="0.7" stroke="rgba(230,230,230,0.5)" stroke-width="0.8"/>
<circle cx="287.8" cy="106.6" r="2.9" fill="#ff7b00" fill-opacity="0.7" stroke="rgba(230,230,230,0.5)" stroke-width="0.8"/>
<circle cx="303.2" cy="96.2" r="2.9" fill="#ffe300" fill-opacity="0.7" stroke="rgba(230,230,230,0.5)" stroke-width="0.8"/>
<circle cx="314.3" cy="120.3" r="2.9" fill="#ff8b00" fill-opacity="0.7" stroke="rgba(230,230,230,0.5)" stroke-width="0.8"/>
<circle cx="289.0" cy="73.8" r="2.9" fill="#ff9c00" fill-opacity="0.7" stroke="rgba(230,230,230,0.5)" stroke-width="0.8"/>
<circle cx="292.5" cy="110.9" r="2.9" fill="#ff7b00" fill-opacity="0.7" stroke="rgba(230,230,230,0.5)" stroke-width="0.8"/>
<circle cx="275.7" cy="112.4" r="2.9" fill="#ffff4f" fill-opacity="0.7" stroke="rgba(230,230,230,0.5)" stroke-width="0.8"/>
<circle cx="287.4" cy="115.9" r="2.9" fill="#ff9f00" fill-opacity="0.7" stroke="rgba(230,230,230,0.5)" stroke-width="0.8"/>
<circle cx="291.5" cy="118.7" r="2.9" fill="#ffffb9" fill-opacity="0.7" stroke="rgba(230,230,230,0.5)" stroke-width="0.8"/>
<circle cx="311.7" cy="83.7" r="2.9" fill="#ff8400" fill-opacity="0.7" stroke="rgba(230,230,230,0.5)" stroke-width="0.8"/>
<circle cx="262.3" cy="74.8" r="2.9" fill="#ff8800" fill-opacity="0.7" stroke="rgba(230,230,230,0.5)" stroke-width="0.8"/>
<circle cx="270.6" cy="83.1" r="2.9" fill="#ffff67" fill-opacity="0.7" stroke="rgba(230,230,230,0.5)" stroke-width="0.8"/>
<circle cx="241.7" cy="96.2" r="2.9" fill="#ffffff" fill-opacity="0.7" stroke="rgba(230,230,230,0.5)" stroke-width="0.8"/>
<circle cx="302.5" cy="95.7" r="2.9" fill="#ffa200" fill-opacity="0.7" stroke="rgba(230,230,230,0.5)" stroke-width="0.8"/>
<circle cx="299.4" cy="103.8" r="2.9" fill="#ffd000" fill-opacity="0.7" stroke="rgba(230,230,230,0.5)" stroke-width="0.8"/>
<circle cx="289.2" cy="96.4" r="2.9" fill="#ffff02" fill-opacity="0.7" stroke="rgba(230,230,230,0.5)" stroke-width="0.8"/>
<circle cx="275.8" cy="94.8" r="2.9" fill="#ff9f00" fill-opacity="0.7" stroke="rgba(230,230,230,0.5)" stroke-width="0.8"/>
<circle cx="292.1" cy="95.5" r="2.9" fill="#ffb500" fill-opacity="0.7" stroke="rgba(230,230,230,0.5)" stroke-width="0.8"/>
<circle cx="282.7" cy="80.3" r="2.9" fill="#ffbc00" fill-opacity="0.7" stroke="rgba(230,230,230,0.5)" stroke-width="0.8"/>
<circle cx="272.8" cy="79.7" r="2.9" fill="#ffe300" fill-opacity="0.7" stroke="rgba(230,230,230,0.5)" stroke-width="0.8"/>
<circle cx="269.9" cy="96.4" r="2.9" fill="#ffc200" fill-opacity="0.7" stroke="rgba(230,230,230,0.5)" stroke-width="0.8"/>
<circle cx="250.4" cy="89.3" r="2.9" fill="#ffff9e" fill-opacity="0.7" stroke="rgba(230,230,230,0.5)" stroke-width="0.8"/>
<circle cx="292.6" cy="102.0" r="2.9" fill="#ff9600" fill-opacity="0.7" stroke="rgba(230,230,230,0.5)" stroke-width="0.8"/>
<circle cx="287.6" cy="72.5" r="2.9" fill="#ffc300" fill-opacity="0.7" stroke="rgba(230,230,230,0.5)" stroke-width="0.8"/>
<circle cx="246.6" cy="68.5" r="2.9" fill="#ffffff" fill-opacity="0.7" stroke="rgba(230,230,230,0.5)" stroke-width="0.8"/>
<circle cx="316.3" cy="117.4" r="2.9" fill="#ff7b00" fill-opacity="0.7" stroke="rgba(230,230,230,0.5)" stroke-width="0.8"/>
<circle cx="277.6" cy="81.0" r="2.9" fill="#ffee00" fill-opacity="0.7" stroke="rgba(230,230,230,0.5)" stroke-width="0.8"/>
<circle cx="275.4" cy="76.4" r="2.9" fill="#ff7b00" fill-opacity="0.7" stroke="rgba(230,230,230,0.5)" stroke-width="0.8"/>
<circle cx="300.2" cy="90.2" r="2.9" fill="#ffa400" fill-opacity="0.7" stroke="rgba(230,230,230,0.5)" stroke-width="0.8"/>
<circle cx="241.9" cy="96.7" r="2.9" fill="#ffffff" fill-opacity="0.7" stroke="rgba(230,230,230,0.5)" stroke-width="0.8"/>
<circle cx="303.4" cy="105.2" r="2.9" fill="#ff9100" fill-opacity="0.7" stroke="rgba(230,230,230,0.5)" stroke-width="0.8"/>
<circle cx="304.1" cy="90.7" r="2.9" fill="#ffa300" fill-opacity="0.7" stroke="rgba(230,230,230,0.5)" stroke-width="0.8"/>
<circle cx="320.1" cy="112.3" r="2.9" fill="#ff7b00" fill-opacity="0.7" stroke="rgba(230,230,230,0.5)" stroke-width="0.8"/>
<circle cx="284.5" cy="105.4" r="2.9" fill="#ffff98" fill-opacity="0.7" stroke="rgba(230,230,230,0.5)" stroke-width="0.8"/>
<circle cx="287.6" cy="94.0" r="2.9" fill="#ff8600" fill-opacity="0.7" stroke="rgba(230,230,230,0.5)" stroke-width="0.8"/>
<circle cx="249.1" cy="100.6" r="2.9" fill="#ffff93" fill-opacity="0.7" stroke="rgba(230,230,230,0.5)" stroke-width="0.8"/>
<circle cx="254.6" cy="108.0" r="2.9" fill="#ffff93" fill-opacity="0.7" stroke="rgba(230,230,230,0.5)" stroke-width="0.8"/>
<circle cx="316.4" cy="90.3" r="2.9" fill="#ff7b00" fill-opacity="0.7" stroke="rgba(230,230,230,0.5)" stroke-width="0.8"/>
<circle cx="316.2" cy="88.0" r="2.9" fill="#ffb500" fill-opacity="0.7" stroke="rgba(230,230,230,0.5)" stroke-width="0.8"/>
<circle cx="253.4" cy="74.1" r="2.9" fill="#ffff99" fill-opacity="0.7" stroke="rgba(230,230,230,0.5)" stroke-width="0.8"/>
<circle cx="309.9" cy="115.2" r="2.9" fill="#ffa800" fill-opacity="0.7" stroke="rgba(230,230,230,0.5)" stroke-width="0.8"/>
<circle cx="307.9" cy="109.8" r="2.9" fill="#ff9c00" fill-opacity="0.7" stroke="rgba(230,230,230,0.5)" stroke-width="0.8"/>
<circle cx="280.2" cy="74.7" r="2.9" fill="#ffac00" fill-opacity="0.7" stroke="rgba(230,230,230,0.5)" stroke-width="0.8"/>
<circle cx="282.4" cy="88.8" r="2.9" fill="#ff9800" fill-opacity="0.7" stroke="rgba(230,230,230,0.5)" stroke-width="0.8"/>
<circle cx="305.6" cy="115.7" r="2.9" fill="#ffff7a" fill-opacity="0.7" stroke="rgba(230,230,230,0.5)" stroke-width="0.8"/>
<circle cx="272.8" cy="109.6" r="2.9" fill="#ffff78" fill-opacity="0.7" stroke="rgba(230,230,230,0.5)" stroke-width="0.8"/>
<circle cx="312.6" cy="98.4" r="2.9" fill="#ff7b00" fill-opacity="0.7" stroke="rgba(230,230,230,0.5)" stroke-width="0.8"/>
<circle cx="267.5" cy="95.1" r="2.9" fill="#ffff99" fill-opacity="0.7" stroke="rgba(230,230,230,0.5)" stroke-width="0.8"/>
<circle cx="294.5" cy="77.0" r="2.9" fill="#ff7b00" fill-opacity="0.7" stroke="rgba(230,230,230,0.5)" stroke-width="0.8"/>
<circle cx="320.3" cy="94.1" r="2.9" fill="#ffe200" fill-opacity="0.7" stroke="rgba(230,230,230,0.5)" stroke-width="0.8"/>
<circle cx="270.9" cy="77.9" r="2.9" fill="#ff7b00" fill-opacity="0.7" stroke="rgba(230,230,230,0.5)" stroke-width="0.8"/>
<circle cx="277.7" cy="109.4" r="2.9" fill="#ffff1b" fill-opacity="0.7" stroke="rgba(230,230,230,0.5)" stroke-width="0.8"/>
<circle cx="312.8" cy="88.7" r="2.9" fill="#ffc300" fill-opacity="0.7" stroke="rgba(230,230,230,0.5)" stroke-width="0.8"/>
<circle cx="267.9" cy="118.4" r="2.9" fill="#ffff92" fill-opacity="0.7" stroke="rgba(230,230,230,0.5)" stroke-width="0.8"/>
<circle cx="317.4" cy="91.8" r="2.9" fill="#ffc500" fill-opacity="0.7" stroke="rgba(230,230,230,0.5)" stroke-width="0.8"/>
<circle cx="306.6" cy="130.7" r="2.9" fill="#ff7b00" fill-opacity="0.7" stroke="rgba(230,230,230,0.5)" stroke-width="0.8"/>
<circle cx="291.2" cy="89.1" r="2.9" fill="#ff7e00" fill-opacity="0.7" stroke="rgba(230,230,230,0.5)" stroke-width="0.8"/>
<circle cx="291.0" cy="89.0" r="2.9" fill="#ffff78" fill-opacity="0.7" stroke="rgba(230,230,230,0.5)" stroke-width="0.8"/>
<circle cx="268.6" cy="95.8" r="2.9" fill="#ffffb6" fill-opacity="0.7" stroke="rgba(230,230,230,0.5)" stroke-width="0.8"/>
<circle cx="271.6" cy="113.3" r="2.9" fill="#ffffb5" fill-opacity="0.7" stroke="rgba(230,230,230,0.5)" stroke-width="0.8"/>
<circle cx="278.2" cy="89.7" r="2.9" fill="#ffb900" fill-opacity="0.7" stroke="rgba(230,230,230,0.5)" stroke-width="0.8"/>
<circle cx="309.4" cy="103.0" r="2.9" fill="#ff7b00" fill-opacity="0.7" stroke="rgba(230,230,230,0.5)" stroke-width="0.8"/>
<circle cx="263.1" cy="93.0" r="2.9" fill="#ffff80" fill-opacity="0.7" stroke="rgba(230,230,230,0.5)" stroke-width="0.8"/>
<circle cx="291.1" cy="108.2" r="2.9" fill="#ff7b00" fill-opacity="0.7" stroke="rgba(230,230,230,0.5)" stroke-width="0.8"/>
<circle cx="294.4" cy="84.7" r="2.9" fill="#ff7b00" fill-opacity="0.7" stroke="rgba(230,230,230,0.5)" stroke-width="0.8"/>
<circle cx="267.7" cy="86.9" r="2.9" fill="#ffc200" fill-opacity="0.7" stroke="rgba(230,230,230,0.5)" stroke-width="0.8"/>
<circle cx="294.6" cy="93.5" r="2.9" fill="#ff9a00" fill-opacity="0.7" stroke="rgba(230,230,230,0.5)" stroke-width="0.8"/>
<circle cx="276.6" cy="93.7" r="2.9" fill="#ffff8d" fill-opacity="0.7" stroke="rgba(230,230,230,0.5)" stroke-width="0.8"/>
<circle cx="315.0" cy="110.6" r="2.9" fill="#ff7b00" fill-opacity="0.7" stroke="rgba(230,230,230,0.5)" stroke-width="0.8"/>
<circle cx="256.8" cy="88.4" r="2.9" fill="#ffff97" fill-opacity="0.7" stroke="rgba(230,230,230,0.5)" stroke-width="0.8"/>
<circle cx="286.5" cy="94.9" r="2.9" fill="#ff8300" fill-opacity="0.7" stroke="rgba(230,230,230,0.5)" stroke-width="0.8"/>
<circle cx="302.6" cy="91.7" r="2.9" fill="#ff9100" fill-opacity="0.7" stroke="rgba(230,230,230,0.5)" stroke-width="0.8"/>
<circle cx="300.9" cy="117.8" r="2.9" fill="#ff9400" fill-opacity="0.7" stroke="rgba(230,230,230,0.5)" stroke-width="0.8"/>
<circle cx="285.7" cy="102.3" r="2.9" fill="#ffb200" fill-opacity="0.7" stroke="rgba(230,230,230,0.5)" stroke-width="0.8"/>
<circle cx="284.1" cy="102.6" r="2.9" fill="#ffa700" fill-opacity="0.7" stroke="rgba(230,230,230,0.5)" stroke-width="0.8"/>
<circle cx="278.9" cy="120.7" r="2.9" fill="#ffdc00" fill-opacity="0.7" stroke="rgba(230,230,230,0.5)" stroke-width="0.8"/>
<circle cx="309.9" cy="94.0" r="2.9" fill="#ffdb00" fill-opacity="0.7" stroke="rgba(230,230,230,0.5)" stroke-width="0.8"/>
<circle cx="314.5" cy="96.2" r="2.9" fill="#ffb900" fill-opacity="0.7" stroke="rgba(230,230,230,0.5)" stroke-width="0.8"/>
<circle cx="281.9" cy="93.4" r="2.9" fill="#ff9400" fill-opacity="0.7" stroke="rgba(230,230,230,0.5)" stroke-width="0.8"/>
<circle cx="270.2" cy="108.9" r="2.9" fill="#ffff95" fill-opacity="0.7" stroke="rgba(230,230,230,0.5)" stroke-width="0.8"/>
<circle cx="272.6" cy="119.2" r="2.9" fill="#ffff91" fill-opacity="0.7" stroke="rgba(230,230,230,0.5)" stroke-width="0.8"/>
<circle cx="260.0" cy="81.4" r="2.9" fill="#ffbf00" fill-opacity="0.7" stroke="rgba(230,230,230,0.5)" stroke-width="0.8"/>
<circle cx="289.6" cy="91.8" r="2.9" fill="#ff8700" fill-opacity="0.7" stroke="rgba(230,230,230,0.5)" stroke-width="0.8"/>
<circle cx="285.0" cy="107.5" r="2.9" fill="#ffff2e" fill-opacity="0.7" stroke="rgba(230,230,230,0.5)" stroke-width="0.8"/>
<circle cx="291.4" cy="85.9" r="2.9" fill="#ff7b00" fill-opacity="0.7" stroke="rgba(230,230,230,0.5)" stroke-width="0.8"/>
<circle cx="270.6" cy="98.8" r="2.9" fill="#ffff03" fill-opacity="0.7" stroke="rgba(230,230,230,0.5)" stroke-width="0.8"/>
<circle cx="319.5" cy="105.2" r="2.9" fill="#ff7b00" fill-opacity="0.7" stroke="rgba(230,230,230,0.5)" stroke-width="0.8"/>
<circle cx="241.2" cy="83.2" r="2.9" fill="#ffffff" fill-opacity="0.7" stroke="rgba(230,230,230,0.5)" stroke-width="0.8"/>
<circle cx="321.0" cy="105.8" r="2.9" fill="#ff9d00" fill-opacity="0.7" stroke="rgba(230,230,230,0.5)" stroke-width="0.8"/>
<circle cx="287.5" cy="95.9" r="2.9" fill="#ffb200" fill-opacity="0.7" stroke="rgba(230,230,230,0.5)" stroke-width="0.8"/>
<circle cx="265.6" cy="73.8" r="2.9" fill="#ffff95" fill-opacity="0.7" stroke="rgba(230,230,230,0.5)" stroke-width="0.8"/>
<circle cx="304.0" cy="78.0" r="2.9" fill="#ffff30" fill-opacity="0.7" stroke="rgba(230,230,230,0.5)" stroke-width="0.8"/>
<circle cx="269.4" cy="111.0" r="2.9" fill="#ffff33" fill-opacity="0.7" stroke="rgba(230,230,230,0.5)" stroke-width="0.8"/>
<circle cx="270.0" cy="103.7" r="2.9" fill="#ffa700" fill-opacity="0.7" stroke="rgba(230,230,230,0.5)" stroke-width="0.8"/>
<circle cx="295.5" cy="106.3" r="2.9" fill="#ff8c00" fill-opacity="0.7" stroke="rgba(230,230,230,0.5)" stroke-width="0.8"/>
<circle cx="269.4" cy="89.5" r="2.9" fill="#ffd100" fill-opacity="0.7" stroke="rgba(230,230,230,0.5)" stroke-width="0.8"/>
<circle cx="288.4" cy="68.3" r="2.9" fill="#ff8b00" fill-opacity="0.7" stroke="rgba(230,230,230,0.5)" stroke-width="0.8"/>
<circle cx="248.8" cy="73.1" r="2.9" fill="#ffee00" fill-opacity="0.7" stroke="rgba(230,230,230,0.5)" stroke-width="0.8"/>
<circle cx="283.8" cy="114.3" r="2.9" fill="#ffc000" fill-opacity="0.7" stroke="rgba(230,230,230,0.5)" stroke-width="0.8"/>
<circle cx="295.0" cy="117.4" r="2.9" fill="#ffa700" fill-opacity="0.7" stroke="rgba(230,230,230,0.5)" stroke-width="0.8"/>
<circle cx="269.5" cy="95.9" r="2.9" fill="#ffff76" fill-opacity="0.7" stroke="rgba(230,230,230,0.5)" stroke-width="0.8"/>
<circle cx="266.0" cy="88.2" r="2.9" fill="#ffff41" fill-opacity="0.7" stroke="rgba(230,230,230,0.5)" stroke-width="0.8"/>
<circle cx="273.6" cy="86.3" r="2.9" fill="#ffb400" fill-opacity="0.7" stroke="rgba(230,230,230,0.5)" stroke-width="0.8"/>
<circle cx="289.5" cy="104.3" r="2.9" fill="#ff8500" fill-opacity="0.7" stroke="rgba(230,230,230,0.5)" stroke-width="0.8"/>
<circle cx="302.3" cy="107.8" r="2.9" fill="#ff7b00" fill-opacity="0.7" stroke="rgba(230,230,230,0.5)" stroke-width="0.8"/>
<circle cx="271.2" cy="77.8" r="2.9" fill="#ff7b00" fill-opacity="0.7" stroke="rgba(230,230,230,0.5)" stroke-width="0.8"/>
<circle cx="305.8" cy="90.9" r="2.9" fill="#ffb000" fill-opacity="0.7" stroke="rgba(230,230,230,0.5)" stroke-width="0.8"/>
<circle cx="262.4" cy="63.9" r="2.9" fill="#ffffac" fill-opacity="0.7" stroke="rgba(230,230,230,0.5)" stroke-width="0.8"/>
<circle cx="298.5" cy="81.0" r="2.9" fill="#ff7b00" fill-opacity="0.7" stroke="rgba(230,230,230,0.5)" stroke-width="0.8"/>
<circle cx="280.1" cy="124.6" r="2.9" fill="#ffffff" fill-opacity="0.7" stroke="rgba(230,230,230,0.5)" stroke-width="0.8"/>
<circle cx="267.2" cy="120.5" r="2.9" fill="#ffff9e" fill-opacity="0.7" stroke="rgba(230,230,230,0.5)" stroke-width="0.8"/>
<circle cx="277.9" cy="107.3" r="2.9" fill="#ffff9b" fill-opacity="0.7" stroke="rgba(230,230,230,0.5)" stroke-width="0.8"/>
<circle cx="295.9" cy="92.9" r="2.9" fill="#ffdb00" fill-opacity="0.7" stroke="rgba(230,230,230,0.5)" stroke-width="0.8"/>
<circle cx="281.3" cy="120.8" r="2.9" fill="#ffa500" fill-opacity="0.7" stroke="rgba(230,230,230,0.5)" stroke-width="0.8"/>
<circle cx="256.7" cy="103.3" r="2.9" fill="#ffff68" fill-opacity="0.7" stroke="rgba(230,230,230,0.5)" stroke-width="0.8"/>
<circle cx="291.7" cy="89.0" r="2.9" fill="#ff7b00" fill-opacity="0.7" stroke="rgba(230,230,230,0.5)" stroke-width="0.8"/>
<circle cx="295.2" cy="109.9" r="2.9" fill="#ff9800" fill-opacity="0.7" stroke="rgba(230,230,230,0.5)" stroke-width="0.8"/>
<circle cx="271.2" cy="67.1" r="2.9" fill="#ffff94" fill-opacity="0.7" stroke="rgba(230,230,230,0.5)" stroke-width="0.8"/>
<circle cx="296.8" cy="100.7" r="2.9" fill="#ff9100" fill-opacity="0.7" stroke="rgba(230,230,230,0.5)" stroke-width="0.8"/>
<circle cx="276.0" cy="114.3" r="2.9" fill="#ffffff" fill-opacity="0.7" stroke="rgba(230,230,230,0.5)" stroke-width="0.8"/>
<circle cx="264.9" cy="103.2" r="2.9" fill="#ffffb6" fill-opacity="0.7" stroke="rgba(230,230,230,0.5)" stroke-width="0.8"/>
<circle cx="291.2" cy="99.6" r="2.9" fill="#ffd200" fill-opacity="0.7" stroke="rgba(230,230,230,0.5)" stroke-width="0.8"/>
<circle cx="277.8" cy="74.6" r="2.9" fill="#ff8000" fill-opacity="0.7" stroke="rgba(230,230,230,0.5)" stroke-width="0.8"/>
<circle cx="300.8" cy="103.6" r="2.9" fill="#ffff70" fill-opacity="0.7" stroke="rgba(230,230,230,0.5)" stroke-width="0.8"/>
<circle cx="318.0" cy="101.5" r="2.9" fill="#ff7b00" fill-opacity="0.7" stroke="rgba(230,230,230,0.5)" stroke-width="0.8"/>
<circle cx="322.6" cy="115.7" r="2.9" fill="#ff9d00" fill-opacity="0.7" stroke="rgba(230,230,230,0.5)" stroke-width="0.8"/>
<circle cx="288.3" cy="119.7" r="2.9" fill="#ffff99" fill-opacity="0.7" stroke="rgba(230,230,230,0.5)" stroke-width="0.8"/>
<circle cx="277.7" cy="115.1" r="2.9" fill="#ffff2b" fill-opacity="0.7" stroke="rgba(230,230,230,0.5)" stroke-width="0.8"/>
<circle cx="284.2" cy="75.8" r="2.9" fill="#ffff7d" fill-opacity="0.7" stroke="rgba(230,230,230,0.5)" stroke-width="0.8"/>
<circle cx="282.7" cy="80.9" r="2.9" fill="#ff7d00" fill-opacity="0.7" stroke="rgba(230,230,230,0.5)" stroke-width="0.8"/>
<circle cx="286.9" cy="78.4" r="2.9" fill="#ff7b00" fill-opacity="0.7" stroke="rgba(230,230,230,0.5)" stroke-width="0.8"/>
<circle cx="277.3" cy="94.9" r="2.9" fill="#ffff0e" fill-opacity="0.7" stroke="rgba(230,230,230,0.5)" stroke-width="0.8"/>
<circle cx="275.4" cy="70.0" r="2.9" fill="#ff7b00" fill-opacity="0.7" stroke="rgba(230,230,230,0.5)" stroke-width="0.8"/>
<circle cx="279.2" cy="96.7" r="2.9" fill="#ffad00" fill-opacity="0.7" stroke="rgba(230,230,230,0.5)" stroke-width="0.8"/>
<circle cx="282.9" cy="101.4" r="2.9" fill="#ffff1e" fill-opacity="0.7" stroke="rgba(230,230,230,0.5)" stroke-width="0.8"/>
<circle cx="299.6" cy="118.1" r="2.9" fill="#ffaa00" fill-opacity="0.7" stroke="rgba(230,230,230,0.5)" stroke-width="0.8"/>
<circle cx="262.3" cy="102.4" r="2.9" fill="#ffff7b" fill-opacity="0.7" stroke="rgba(230,230,230,0.5)" stroke-width="0.8"/>
<circle cx="276.7" cy="110.5" r="2.9" fill="#ff9700" fill-opacity="0.7" stroke="rgba(230,230,230,0.5)" stroke-width="0.8"/>
<circle cx="278.3" cy="91.6" r="2.9" fill="#ffff81" fill-opacity="0.7" stroke="rgba(230,230,230,0.5)" stroke-width="0.8"/>
<circle cx="271.2" cy="107.4" r="2.9" fill="#ffffff" fill-opacity="0.7" stroke="rgba(230,230,230,0.5)" stroke-width="0.8"/>
<circle cx="298.7" cy="115.6" r="2.9" fill="#ffb400" fill-opacity="0.7" stroke="rgba(230,230,230,0.5)" stroke-width="0.8"/>
<circle cx="289.5" cy="115.6" r="2.9" fill="#ffa500" fill-opacity="0.7" stroke="rgba(230,230,230,0.5)" stroke-width="0.8"/>
<circle cx="263.4" cy="94.4" r="2.9" fill="#ffff79" fill-opacity="0.7" stroke="rgba(230,230,230,0.5)" stroke-width="0.8"/>
<circle cx="313.1" cy="128.5" r="2.9" fill="#ff7b00" fill-opacity="0.7" stroke="rgba(230,230,230,0.5)" stroke-width="0.8"/>
<circle cx="300.6" cy="84.1" r="2.9" fill="#ffb400" fill-opacity="0.7" stroke="rgba(230,230,230,0.5)" stroke-width="0.8"/>
<circle cx="292.3" cy="110.2" r="2.9" fill="#ff7b00" fill-opacity="0.7" stroke="rgba(230,230,230,0.5)" stroke-width="0.8"/>
<circle cx="290.4" cy="104.0" r="2.9" fill="#ffbe00" fill-opacity="0.7" stroke="rgba(230,230,230,0.5)" stroke-width="0.8"/>
<circle cx="310.4" cy="98.7" r="2.9" fill="#ff7b00" fill-opacity="0.7" stroke="rgba(230,230,230,0.5)" stroke-width="0.8"/>
<circle cx="249.9" cy="73.0" r="2.9" fill="#ffffb5" fill-opacity="0.7" stroke="rgba(230,230,230,0.5)" stroke-width="0.8"/>
<circle cx="292.1" cy="70.9" r="2.9" fill="#ff7b00" fill-opacity="0.7" stroke="rgba(230,230,230,0.5)" stroke-width="0.8"/>
<circle cx="282.9" cy="81.6" r="2.9" fill="#ff7b00" fill-opacity="0.7" stroke="rgba(230,230,230,0.5)" stroke-width="0.8"/>
<circle cx="275.4" cy="122.8" r="2.9" fill="#ffff7a" fill-opacity="0.7" stroke="rgba(230,230,230,0.5)" stroke-width="0.8"/>
<circle cx="296.2" cy="82.8" r="2.9" fill="#ffe000" fill-opacity="0.7" stroke="rgba(230,230,230,0.5)" stroke-width="0.8"/>
<circle cx="273.2" cy="104.8" r="2.9" fill="#ffffff" fill-opacity="0.7" stroke="rgba(230,230,230,0.5)" stroke-width="0.8"/>
<circle cx="278.4" cy="93.5" r="2.9" fill="#fff800" fill-opacity="0.7" stroke="rgba(230,230,230,0.5)" stroke-width="0.8"/>
<circle cx="303.8" cy="110.8" r="2.9" fill="#ff7b00" fill-opacity="0.7" stroke="rgba(230,230,230,0.5)" stroke-width="0.8"/>
<circle cx="303.7" cy="110.4" r="2.9" fill="#ffff00" fill-opacity="0.7" stroke="rgba(230,230,230,0.5)" stroke-width="0.8"/>
<circle cx="281.1" cy="79.7" r="2.9" fill="#ff9500" fill-opacity="0.7" stroke="rgba(230,230,230,0.5)" stroke-width="0.8"/>
<circle cx="271.8" cy="84.6" r="2.9" fill="#ff9b00" fill-opacity="0.7" stroke="rgba(230,230,230,0.5)" stroke-width="0.8"/>
<circle cx="309.9" cy="89.5" r="2.9" fill="#ff9d00" fill-opacity="0.7" stroke="rgba(230,230,230,0.5)" stroke-width="0.8"/>
<circle cx="288.2" cy="91.7" r="2.9" fill="#ff9b00" fill-opacity="0.7" stroke="rgba(230,230,230,0.5)" stroke-width="0.8"/>
<circle cx="288.3" cy="71.7" r="2.9" fill="#ff7c00" fill-opacity="0.7" stroke="rgba(230,230,230,0.5)" stroke-width="0.8"/>
<circle cx="304.6" cy="108.8" r="2.9" fill="#ff7b00" fill-opacity="0.7" stroke="rgba(230,230,230,0.5)" stroke-width="0.8"/>
<circle cx="264.5" cy="106.2" r="2.9" fill="#ffd200" fill-opacity="0.7" stroke="rgba(230,230,230,0.5)" stroke-width="0.8"/>
<circle cx="274.5" cy="89.9" r="2.9" fill="#ff9b00" fill-opacity="0.7" stroke="rgba(230,230,230,0.5)" stroke-width="0.8"/>
<circle cx="283.6" cy="104.9" r="2.9" fill="#ffa300" fill-opacity="0.7" stroke="rgba(230,230,230,0.5)" stroke-width="0.8"/>
<circle cx="289.9" cy="99.1" r="2.9" fill="#ffdd00" fill-opacity="0.7" stroke="rgba(230,230,230,0.5)" stroke-width="0.8"/>
<circle cx="268.3" cy="93.8" r="2.9" fill="#ffa500" fill-opacity="0.7" stroke="rgba(230,230,230,0.5)" stroke-width="0.8"/>
<circle cx="290.0" cy="129.4" r="2.9" fill="#ffff5a" fill-opacity="0.7" stroke="rgba(230,230,230,0.5)" stroke-width="0.8"/>
<circle cx="275.0" cy="83.9" r="2.9" fill="#ffff04" fill-opacity="0.7" stroke="rgba(230,230,230,0.5)" stroke-width="0.8"/>
<circle cx="284.8" cy="100.6" r="2.9" fill="#fff000" fill-opacity="0.7" stroke="rgba(230,230,230,0.5)" stroke-width="0.8"/>
<circle cx="292.6" cy="103.9" r="2.9" fill="#ffcd00" fill-opacity="0.7" stroke="rgba(230,230,230,0.5)" stroke-width="0.8"/>
<circle cx="278.8" cy="83.9" r="2.9" fill="#ffbc00" fill-opacity="0.7" stroke="rgba(230,230,230,0.5)" stroke-width="0.8"/>
<circle cx="282.4" cy="103.1" r="2.9" fill="#ffa600" fill-opacity="0.7" stroke="rgba(230,230,230,0.5)" stroke-width="0.8"/>
<circle cx="299.2" cy="85.9" r="2.9" fill="#ff7b00" fill-opacity="0.7" stroke="rgba(230,230,230,0.5)" stroke-width="0.8"/>
<circle cx="295.0" cy="115.9" r="2.9" fill="#ff7b00" fill-opacity="0.7" stroke="rgba(230,230,230,0.5)" stroke-width="0.8"/>
<circle cx="298.8" cy="75.6" r="2.9" fill="#ffad00" fill-opacity="0.7" stroke="rgba(230,230,230,0.5)" stroke-width="0.8"/>
<circle cx="275.7" cy="65.6" r="2.9" fill="#ff7b00" fill-opacity="0.7" stroke="rgba(230,230,230,0.5)" stroke-width="0.8"/>
<circle cx="278.3" cy="99.6" r="2.9" fill="#ffff54" fill-opacity="0.7" stroke="rgba(230,230,230,0.5)" stroke-width="0.8"/>
<circle cx="301.4" cy="117.8" r="2.9" fill="#ffb900" fill-opacity="0.7" stroke="rgba(230,230,230,0.5)" stroke-width="0.8"/>
<circle cx="289.6" cy="84.2" r="2.9" fill="#ff7b00" fill-opacity="0.7" stroke="rgba(230,230,230,0.5)" stroke-width="0.8"/>
<circle cx="264.8" cy="104.2" r="2.9" fill="#ffcf00" fill-opacity="0.7" stroke="rgba(230,230,230,0.5)" stroke-width="0.8"/>
<circle cx="292.1" cy="84.9" r="2.9" fill="#ffff9a" fill-opacity="0.7" stroke="rgba(230,230,230,0.5)" stroke-width="0.8"/>
<circle cx="312.6" cy="106.4" r="2.9" fill="#ffa200" fill-opacity="0.7" stroke="rgba(230,230,230,0.5)" stroke-width="0.8"/>
<circle cx="304.8" cy="105.7" r="2.9" fill="#ffa000" fill-opacity="0.7" stroke="rgba(230,230,230,0.5)" stroke-width="0.8"/>
<circle cx="281.7" cy="91.7" r="2.9" fill="#ff7c00" fill-opacity="0.7" stroke="rgba(230,230,230,0.5)" stroke-width="0.8"/>
<circle cx="301.3" cy="86.6" r="2.9" fill="#ff8c00" fill-opacity="0.7" stroke="rgba(230,230,230,0.5)" stroke-width="0.8"/>
<circle cx="268.8" cy="103.4" r="2.9" fill="#ffff94" fill-opacity="0.7" stroke="rgba(230,230,230,0.5)" stroke-width="0.8"/>
<circle cx="244.4" cy="65.7" r="2.9" fill="#ffe300" fill-opacity="0.7" stroke="rgba(230,230,230,0.5)" stroke-width="0.8"/>
<circle cx="303.4" cy="121.4" r="2.9" fill="#ff8300" fill-opacity="0.7" stroke="rgba(230,230,230,0.5)" stroke-width="0.8"/>
<circle cx="256.4" cy="106.3" r="2.9" fill="#ffff8a" fill-opacity="0.7" stroke="rgba(230,230,230,0.5)" stroke-width="0.8"/>
<circle cx="306.7" cy="112.5" r="2.9" fill="#ffb000" fill-opacity="0.7" stroke="rgba(230,230,230,0.5)" stroke-width="0.8"/>
<circle cx="272.8" cy="104.7" r="2.9" fill="#ff9e00" fill-opacity="0.7" stroke="rgba(230,230,230,0.5)" stroke-width="0.8"/>
<circle cx="309.8" cy="81.9" r="2.9" fill="#ffb000" fill-opacity="0.7" stroke="rgba(230,230,230,0.5)" stroke-width="0.8"/>
<circle cx="296.7" cy="100.3" r="2.9" fill="#ff7b00" fill-opacity="0.7" stroke="rgba(230,230,230,0.5)" stroke-width="0.8"/>
<circle cx="296.3" cy="84.4" r="2.9" fill="#ffff59" fill-opacity="0.7" stroke="rgba(230,230,230,0.5)" stroke-width="0.8"/>
<circle cx="266.8" cy="92.8" r="2.9" fill="#ffff03" fill-opacity="0.7" stroke="rgba(230,230,230,0.5)" stroke-width="0.8"/>
<circle cx="288.0" cy="75.8" r="2.9" fill="#ffbe00" fill-opacity="0.7" stroke="rgba(230,230,230,0.5)" stroke-width="0.8"/>
<circle cx="300.8" cy="111.5" r="2.9" fill="#ff9a00" fill-opacity="0.7" stroke="rgba(230,230,230,0.5)" stroke-width="0.8"/>
<circle cx="280.9" cy="76.3" r="2.9" fill="#ff9300" fill-opacity="0.7" stroke="rgba(230,230,230,0.5)" stroke-width="0.8"/>
<circle cx="277.8" cy="87.2" r="2.9" fill="#ffa400" fill-opacity="0.7" stroke="rgba(230,230,230,0.5)" stroke-width="0.8"/>
<circle cx="273.7" cy="94.9" r="2.9" fill="#ff7b00" fill-opacity="0.7" stroke="rgba(230,230,230,0.5)" stroke-width="0.8"/>
<circle cx="298.8" cy="92.7" r="2.9" fill="#ffcd00" fill-opacity="0.7" stroke="rgba(230,230,230,0.5)" stroke-width="0.8"/>
<circle cx="296.8" cy="77.5" r="2.9" fill="#ff9400" fill-opacity="0.7" stroke="rgba(230,230,230,0.5)" stroke-width="0.8"/>
<circle cx="270.2" cy="124.1" r="2.9" fill="#ffffa0" fill-opacity="0.7" stroke="rgba(230,230,230,0.5)" stroke-width="0.8"/>
<circle cx="276.9" cy="111.2" r="2.9" fill="#ffff2c" fill-opacity="0.7" stroke="rgba(230,230,230,0.5)" stroke-width="0.8"/>
<circle cx="281.7" cy="112.5" r="2.9" fill="#ffd300" fill-opacity="0.7" stroke="rgba(230,230,230,0.5)" stroke-width="0.8"/>
<circle cx="305.3" cy="99.5" r="2.9" fill="#ffac00" fill-opacity="0.7" stroke="rgba(230,230,230,0.5)" stroke-width="0.8"/>
<circle cx="297.8" cy="69.3" r="2.9" fill="#ff9100" fill-opacity="0.7" stroke="rgba(230,230,230,0.5)" stroke-width="0.8"/>
<circle cx="292.4" cy="102.5" r="2.9" fill="#ffaa00" fill-opacity="0.7" stroke="rgba(230,230,230,0.5)" stroke-width="0.8"/>
<circle cx="286.3" cy="103.4" r="2.9" fill="#ffa500" fill-opacity="0.7" stroke="rgba(230,230,230,0.5)" stroke-width="0.8"/>
<circle cx="316.5" cy="97.8" r="2.9" fill="#ff7b00" fill-opacity="0.7" stroke="rgba(230,230,230,0.5)" stroke-width="0.8"/>
<circle cx="295.4" cy="82.5" r="2.9" fill="#ff9e00" fill-opacity="0.7" stroke="rgba(230,230,230,0.5)" stroke-width="0.8"/>
<circle cx="309.1" cy="106.2" r="2.9" fill="#ff9a00" fill-opacity="0.7" stroke="rgba(230,230,230,0.5)" stroke-width="0.8"/>
<circle cx="288.7" cy="74.8" r="2.9" fill="#ff7b00" fill-opacity="0.7" stroke="rgba(230,230,230,0.5)" stroke-width="0.8"/>
<circle cx="278.1" cy="116.0" r="2.9" fill="#fff000" fill-opacity="0.7" stroke="rgba(230,230,230,0.5)" stroke-width="0.8"/>
<circle cx="268.2" cy="68.0" r="2.9" fill="#ffff5d" fill-opacity="0.7" stroke="rgba(230,230,230,0.5)" stroke-width="0.8"/>
<circle cx="275.0" cy="129.0" r="2.9" fill="#ffff9d" fill-opacity="0.7" stroke="rgba(230,230,230,0.5)" stroke-width="0.8"/>
<circle cx="269.1" cy="115.7" r="2.9" fill="#ffaa00" fill-opacity="0.7" stroke="rgba(230,230,230,0.5)" stroke-width="0.8"/>
<circle cx="299.3" cy="104.2" r="2.9" fill="#ff7b00" fill-opacity="0.7" stroke="rgba(230,230,230,0.5)" stroke-width="0.8"/>
<circle cx="318.6" cy="93.4" r="2.9" fill="#ff7b00" fill-opacity="0.7" stroke="rgba(230,230,230,0.5)" stroke-width="0.8"/>
<circle cx="311.2" cy="122.4" r="2.9" fill="#ffa100" fill-opacity="0.7" stroke="rgba(230,230,230,0.5)" stroke-width="0.8"/>
<circle cx="282.7" cy="90.3" r="2.9" fill="#ffdc00" fill-opacity="0.7" stroke="rgba(230,230,230,0.5)" stroke-width="0.8"/>
<circle cx="282.3" cy="96.6" r="2.9" fill="#ffa400" fill-opacity="0.7" stroke="rgba(230,230,230,0.5)" stroke-width="0.8"/>
<circle cx="306.1" cy="121.6" r="2.9" fill="#ffff90" fill-opacity="0.7" stroke="rgba(230,230,230,0.5)" stroke-width="0.8"/>
<circle cx="282.9" cy="76.8" r="2.9" fill="#ff8b00" fill-opacity="0.7" stroke="rgba(230,230,230,0.5)" stroke-width="0.8"/>
<circle cx="300.9" cy="90.9" r="2.9" fill="#fff400" fill-opacity="0.7" stroke="rgba(230,230,230,0.5)" stroke-width="0.8"/>
<circle cx="305.6" cy="114.9" r="2.9" fill="#ff7b00" fill-opacity="0.7" stroke="rgba(230,230,230,0.5)" stroke-width="0.8"/>
<circle cx="286.7" cy="110.9" r="2.9" fill="#ffb600" fill-opacity="0.7" stroke="rgba(230,230,230,0.5)" stroke-width="0.8"/>
<circle cx="261.6" cy="72.0" r="2.9" fill="#ffe900" fill-opacity="0.7" stroke="rgba(230,230,230,0.5)" stroke-width="0.8"/>
<circle cx="257.1" cy="74.6" r="2.9" fill="#ffff78" fill-opacity="0.7" stroke="rgba(230,230,230,0.5)" stroke-width="0.8"/>
<circle cx="285.4" cy="87.8" r="2.9" fill="#ff7b00" fill-opacity="0.7" stroke="rgba(230,230,230,0.5)" stroke-width="0.8"/>
<circle cx="269.7" cy="73.0" r="2.9" fill="#fff000" fill-opacity="0.7" stroke="rgba(230,230,230,0.5)" stroke-width="0.8"/>
<circle cx="272.3" cy="119.1" r="2.9" fill="#ffff96" fill-opacity="0.7" stroke="rgba(230,230,230,0.5)" stroke-width="0.8"/>
<circle cx="258.1" cy="111.6" r="2.9" fill="#ffffff" fill-opacity="0.7" stroke="rgba(230,230,230,0.5)" stroke-width="0.8"/>
<circle cx="268.4" cy="119.1" r="2.9" fill="#ffffff" fill-opacity="0.7" stroke="rgba(230,230,230,0.5)" stroke-width="0.8"/>
<circle cx="269.9" cy="95.5" r="2.9" fill="#ffff41" fill-opacity="0.7" stroke="rgba(230,230,230,0.5)" stroke-width="0.8"/>
<circle cx="274.8" cy="113.6" r="2.9" fill="#ffec00" fill-opacity="0.7" stroke="rgba(230,230,230,0.5)" stroke-width="0.8"/>
<circle cx="268.7" cy="100.1" r="2.9" fill="#ff8500" fill-opacity="0.7" stroke="rgba(230,230,230,0.5)" stroke-width="0.8"/>
<circle cx="301.7" cy="101.2" r="2.9" fill="#ffff4f" fill-opacity="0.7" stroke="rgba(230,230,230,0.5)" stroke-width="0.8"/>
<circle cx="305.5" cy="110.1" r="2.9" fill="#ff9500" fill-opacity="0.7" stroke="rgba(230,230,230,0.5)" stroke-width="0.8"/>
<circle cx="288.1" cy="79.6" r="2.9" fill="#ff7b00" fill-opacity="0.7" stroke="rgba(230,230,230,0.5)" stroke-width="0.8"/>
<circle cx="297.8" cy="111.0" r="2.9" fill="#ff8000" fill-opacity="0.7" stroke="rgba(230,230,230,0.5)" stroke-width="0.8"/>
<circle cx="278.6" cy="91.3" r="2.9" fill="#ff7b00" fill-opacity="0.7" stroke="rgba(230,230,230,0.5)" stroke-width="0.8"/>
<circle cx="310.3" cy="107.9" r="2.9" fill="#ff9c00" fill-opacity="0.7" stroke="rgba(230,230,230,0.5)" stroke-width="0.8"/>
<circle cx="282.1" cy="93.5" r="2.9" fill="#ffff1c" fill-opacity="0.7" stroke="rgba(230,230,230,0.5)" stroke-width="0.8"/>
<circle cx="319.3" cy="104.1" r="2.9" fill="#ffbf00" fill-opacity="0.7" stroke="rgba(230,230,230,0.5)" stroke-width="0.8"/>
<circle cx="310.8" cy="85.5" r="2.9" fill="#ff7f00" fill-opacity="0.7" stroke="rgba(230,230,230,0.5)" stroke-width="0.8"/>
<circle cx="278.5" cy="70.8" r="2.9" fill="#ffa100" fill-opacity="0.7" stroke="rgba(230,230,230,0.5)" stroke-width="0.8"/>
<circle cx="261.0" cy="97.5" r="2.9" fill="#ffffff" fill-opacity="0.7" stroke="rgba(230,230,230,0.5)" stroke-width="0.8"/>
<circle cx="298.3" cy="76.8" r="2.9" fill="#ffe300" fill-opacity="0.7" stroke="rgba(230,230,230,0.5)" stroke-width="0.8"/>
<circle cx="245.5" cy="103.8" r="2.9" fill="#ffff93" fill-opacity="0.7" stroke="rgba(230,230,230,0.5)" stroke-width="0.8"/>
<circle cx="283.6" cy="80.1" r="2.9" fill="#ffbd00" fill-opacity="0.7" stroke="rgba(230,230,230,0.5)" stroke-width="0.8"/>
<circle cx="265.5" cy="91.4" r="2.9" fill="#ffe400" fill-opacity="0.7" stroke="rgba(230,230,230,0.5)" stroke-width="0.8"/>
<circle cx="269.8" cy="81.0" r="2.9" fill="#ffa300" fill-opacity="0.7" stroke="rgba(230,230,230,0.5)" stroke-width="0.8"/>
<circle cx="246.5" cy="94.3" r="2.9" fill="#ffffff" fill-opacity="0.7" stroke="rgba(230,230,230,0.5)" stroke-width="0.8"/>
<circle cx="295.0" cy="117.3" r="2.9" fill="#fff500" fill-opacity="0.7" stroke="rgba(230,230,230,0.5)" stroke-width="0.8"/>
<circle cx="309.3" cy="98.6" r="2.9" fill="#ffaa00" fill-opacity="0.7" stroke="rgba(230,230,230,0.5)" stroke-width="0.8"/>
<circle cx="300.8" cy="109.4" r="2.9" fill="#ff9e00" fill-opacity="0.7" stroke="rgba(230,230,230,0.5)" stroke-width="0.8"/>
<circle cx="290.2" cy="108.8" r="2.9" fill="#ff7b00" fill-opacity="0.7" stroke="rgba(230,230,230,0.5)" stroke-width="0.8"/>
<circle cx="300.7" cy="99.2" r="2.9" fill="#ffc400" fill-opacity="0.7" stroke="rgba(230,230,230,0.5)" stroke-width="0.8"/>
<circle cx="302.1" cy="101.0" r="2.9" fill="#ff7b00" fill-opacity="0.7" stroke="rgba(230,230,230,0.5)" stroke-width="0.8"/>
<circle cx="304.8" cy="88.1" r="2.9" fill="#ffd500" fill-opacity="0.7" stroke="rgba(230,230,230,0.5)" stroke-width="0.8"/>
<circle cx="289.9" cy="79.2" r="2.9" fill="#ff9300" fill-opacity="0.7" stroke="rgba(230,230,230,0.5)" stroke-width="0.8"/>
<circle cx="269.6" cy="76.5" r="2.9" fill="#ff9600" fill-opacity="0.7" stroke="rgba(230,230,230,0.5)" stroke-width="0.8"/>
<circle cx="293.7" cy="112.6" r="2.9" fill="#ffff17" fill-opacity="0.7" stroke="rgba(230,230,230,0.5)" stroke-width="0.8"/>
<circle cx="304.7" cy="118.5" r="2.9" fill="#ff7b00" fill-opacity="0.7" stroke="rgba(230,230,230,0.5)" stroke-width="0.8"/>
<circle cx="299.6" cy="99.5" r="2.9" fill="#ff9700" fill-opacity="0.7" stroke="rgba(230,230,230,0.5)" stroke-width="0.8"/>
<circle cx="286.6" cy="103.1" r="2.9" fill="#ff7b00" fill-opacity="0.7" stroke="rgba(230,230,230,0.5)" stroke-width="0.8"/>
<circle cx="316.9" cy="88.6" r="2.9" fill="#ff7b00" fill-opacity="0.7" stroke="rgba(230,230,230,0.5)" stroke-width="0.8"/>
<circle cx="292.8" cy="83.4" r="2.9" fill="#ffff11" fill-opacity="0.7" stroke="rgba(230,230,230,0.5)" stroke-width="0.8"/>
<circle cx="293.0" cy="83.8" r="2.9" fill="#ff7b00" fill-opacity="0.7" stroke="rgba(230,230,230,0.5)" stroke-width="0.8"/>
<circle cx="280.8" cy="98.7" r="2.9" fill="#ffff9a" fill-opacity="0.7" stroke="rgba(230,230,230,0.5)" stroke-width="0.8"/>
<circle cx="282.1" cy="113.1" r="2.9" fill="#ffff74" fill-opacity="0.7" stroke="rgba(230,230,230,0.5)" stroke-width="0.8"/>
<circle cx="290.7" cy="76.9" r="2.9" fill="#ff7b00" fill-opacity="0.7" stroke="rgba(230,230,230,0.5)" stroke-width="0.8"/>
<circle cx="290.4" cy="118.4" r="2.9" fill="#ff8500" fill-opacity="0.7" stroke="rgba(230,230,230,0.5)" stroke-width="0.8"/>
<circle cx="290.9" cy="83.7" r="2.9" fill="#ffa800" fill-opacity="0.7" stroke="rgba(230,230,230,0.5)" stroke-width="0.8"/>
<circle cx="279.7" cy="78.1" r="2.9" fill="#ffc600" fill-opacity="0.7" stroke="rgba(230,230,230,0.5)" stroke-width="0.8"/>
<circle cx="267.3" cy="105.1" r="2.9" fill="#ffeb00" fill-opacity="0.7" stroke="rgba(230,230,230,0.5)" stroke-width="0.8"/>
<circle cx="273.7" cy="129.4" r="2.9" fill="#ffff82" fill-opacity="0.7" stroke="rgba(230,230,230,0.5)" stroke-width="0.8"/>
<circle cx="285.4" cy="78.6" r="2.9" fill="#ff9100" fill-opacity="0.7" stroke="rgba(230,230,230,0.5)" stroke-width="0.8"/>
<circle cx="322.0" cy="110.3" r="2.9" fill="#ff7b00" fill-opacity="0.7" stroke="rgba(230,230,230,0.5)" stroke-width="0.8"/>
<circle cx="301.4" cy="78.6" r="2.9" fill="#ff7b00" fill-opacity="0.7" stroke="rgba(230,230,230,0.5)" stroke-width="0.8"/>
<circle cx="300.9" cy="108.6" r="2.9" fill="#ff7b00" fill-opacity="0.7" stroke="rgba(230,230,230,0.5)" stroke-width="0.8"/>
<circle cx="296.6" cy="75.5" r="2.9" fill="#ffa200" fill-opacity="0.7" stroke="rgba(230,230,230,0.5)" stroke-width="0.8"/>
<circle cx="252.6" cy="94.9" r="2.9" fill="#ffff96" fill-opacity="0.7" stroke="rgba(230,230,230,0.5)" stroke-width="0.8"/>
<circle cx="311.2" cy="114.3" r="2.9" fill="#ff7b00" fill-opacity="0.7" stroke="rgba(230,230,230,0.5)" stroke-width="0.8"/>
<circle cx="244.2" cy="98.0" r="2.9" fill="#ffffff" fill-opacity="0.7" stroke="rgba(230,230,230,0.5)" stroke-width="0.8"/>
<circle cx="266.0" cy="97.2" r="2.9" fill="#ffac00" fill-opacity="0.7" stroke="rgba(230,230,230,0.5)" stroke-width="0.8"/>
<circle cx="274.1" cy="90.3" r="2.9" fill="#ffd100" fill-opacity="0.7" stroke="rgba(230,230,230,0.5)" stroke-width="0.8"/>
<circle cx="266.3" cy="72.9" r="2.9" fill="#ffff3e" fill-opacity="0.7" stroke="rgba(230,230,230,0.5)" stroke-width="0.8"/>
<circle cx="278.8" cy="119.1" r="2.9" fill="#ffc200" fill-opacity="0.7" stroke="rgba(230,230,230,0.5)" stroke-width="0.8"/>
<circle cx="271.5" cy="109.5" r="2.9" fill="#ffe600" fill-opacity="0.7" stroke="rgba(230,230,230,0.5)" stroke-width="0.8"/>
<circle cx="291.4" cy="115.4" r="2.9" fill="#ffffb9" fill-opacity="0.7" stroke="rgba(230,230,230,0.5)" stroke-width="0.8"/>
<circle cx="261.2" cy="65.9" r="2.9" fill="#ffff59" fill-opacity="0.7" stroke="rgba(230,230,230,0.5)" stroke-width="0.8"/>
<circle cx="277.5" cy="91.3" r="2.9" fill="#ffffaa" fill-opacity="0.7" stroke="rgba(230,230,230,0.5)" stroke-width="0.8"/>
<circle cx="263.1" cy="107.0" r="2.9" fill="#ffff5c" fill-opacity="0.7" stroke="rgba(230,230,230,0.5)" stroke-width="0.8"/>
<circle cx="246.9" cy="84.5" r="2.9" fill="#ffffff" fill-opacity="0.7" stroke="rgba(230,230,230,0.5)" stroke-width="0.8"/>
<circle cx="296.8" cy="88.8" r="2.9" fill="#ffae00" fill-opacity="0.7" stroke="rgba(230,230,230,0.5)" stroke-width="0.8"/>
<circle cx="277.0" cy="94.7" r="2.9" fill="#ffb600" fill-opacity="0.7" stroke="rgba(230,230,230,0.5)" stroke-width="0.8"/>
<circle cx="308.1" cy="80.7" r="2.9" fill="#ffa000" fill-opacity="0.7" stroke="rgba(230,230,230,0.5)" stroke-width="0.8"/>
<circle cx="259.9" cy="97.2" r="2.9" fill="#ffff98" fill-opacity="0.7" stroke="rgba(230,230,230,0.5)" stroke-width="0.8"/>
<circle cx="299.0" cy="93.0" r="2.9" fill="#ffa100" fill-opacity="0.7" stroke="rgba(230,230,230,0.5)" stroke-width="0.8"/>
<circle cx="239.0" cy="88.8" r="2.9" fill="#ffffff" fill-opacity="0.7" stroke="rgba(230,230,230,0.5)" stroke-width="0.8"/>
<circle cx="303.7" cy="99.2" r="2.9" fill="#ff7b00" fill-opacity="0.7" stroke="rgba(230,230,230,0.5)" stroke-width="0.8"/>
<circle cx="307.5" cy="104.1" r="2.9" fill="#ff8100" fill-opacity="0.7" stroke="rgba(230,230,230,0.5)" stroke-width="0.8"/>
<circle cx="275.5" cy="82.4" r="2.9" fill="#ffffff" fill-opacity="0.7" stroke="rgba(230,230,230,0.5)" stroke-width="0.8"/>
<circle cx="255.3" cy="72.8" r="2.9" fill="#ffffff" fill-opacity="0.7" stroke="rgba(230,230,230,0.5)" stroke-width="0.8"/>
<circle cx="296.3" cy="78.2" r="2.9" fill="#ffa100" fill-opacity="0.7" stroke="rgba(230,230,230,0.5)" stroke-width="0.8"/>
<circle cx="277.2" cy="77.4" r="2.9" fill="#ffd500" fill-opacity="0.7" stroke="rgba(230,230,230,0.5)" stroke-width="0.8"/>
<circle cx="279.6" cy="93.1" r="2.9" fill="#ffff87" fill-opacity="0.7" stroke="rgba(230,230,230,0.5)" stroke-width="0.8"/>
<circle cx="293.1" cy="102.6" r="2.9" fill="#ff9c00" fill-opacity="0.7" stroke="rgba(230,230,230,0.5)" stroke-width="0.8"/>
<circle cx="270.6" cy="115.9" r="2.9" fill="#ffffff" fill-opacity="0.7" stroke="rgba(230,230,230,0.5)" stroke-width="0.8"/>
<circle cx="273.2" cy="83.6" r="2.9" fill="#ffff99" fill-opacity="0.7" stroke="rgba(230,230,230,0.5)" stroke-width="0.8"/>
<circle cx="265.5" cy="103.6" r="2.9" fill="#ffb700" fill-opacity="0.7" stroke="rgba(230,230,230,0.5)" stroke-width="0.8"/>
<circle cx="289.1" cy="117.4" r="2.9" fill="#ff9400" fill-opacity="0.7" stroke="rgba(230,230,230,0.5)" stroke-width="0.8"/>
<circle cx="306.4" cy="103.5" r="2.9" fill="#ffac00" fill-opacity="0.7" stroke="rgba(230,230,230,0.5)" stroke-width="0.8"/>
<circle cx="274.6" cy="91.5" r="2.9" fill="#ffff5d" fill-opacity="0.7" stroke="rgba(230,230,230,0.5)" stroke-width="0.8"/>
<circle cx="299.7" cy="120.3" r="2.9" fill="#ffa500" fill-opacity="0.7" stroke="rgba(230,230,230,0.5)" stroke-width="0.8"/>
<circle cx="271.7" cy="78.5" r="2.9" fill="#ff9e00" fill-opacity="0.7" stroke="rgba(230,230,230,0.5)" stroke-width="0.8"/>
<circle cx="272.8" cy="111.4" r="2.9" fill="#ffbd00" fill-opacity="0.7" stroke="rgba(230,230,230,0.5)" stroke-width="0.8"/>
<circle cx="287.0" cy="115.8" r="2.9" fill="#ffe000" fill-opacity="0.7" stroke="rgba(230,230,230,0.5)" stroke-width="0.8"/>
<circle cx="281.4" cy="128.3" r="2.9" fill="#ffff20" fill-opacity="0.7" stroke="rgba(230,230,230,0.5)" stroke-width="0.8"/>
<circle cx="268.2" cy="94.6" r="2.9" fill="#ffff1d" fill-opacity="0.7" stroke="rgba(230,230,230,0.5)" stroke-width="0.8"/>
<circle cx="306.2" cy="90.8" r="2.9" fill="#ff7b00" fill-opacity="0.7" stroke="rgba(230,230,230,0.5)" stroke-width="0.8"/>
<circle cx="264.5" cy="95.1" r="2.9" fill="#ffe900" fill-opacity="0.7" stroke="rgba(230,230,230,0.5)" stroke-width="0.8"/>
<circle cx="291.9" cy="73.1" r="2.9" fill="#ffdd00" fill-opacity="0.7" stroke="rgba(230,230,230,0.5)" stroke-width="0.8"/>
<circle cx="309.8" cy="97.4" r="2.9" fill="#ff7b00" fill-opacity="0.7" stroke="rgba(230,230,230,0.5)" stroke-width="0.8"/>
<circle cx="312.3" cy="93.0" r="2.9" fill="#ffdc00" fill-opacity="0.7" stroke="rgba(230,230,230,0.5)" stroke-width="0.8"/>
<circle cx="282.1" cy="84.7" r="2.9" fill="#ff8600" fill-opacity="0.7" stroke="rgba(230,230,230,0.5)" stroke-width="0.8"/>
<circle cx="265.6" cy="101.6" r="2.9" fill="#ffba00" fill-opacity="0.7" stroke="rgba(230,230,230,0.5)" stroke-width="0.8"/>
<circle cx="290.3" cy="78.3" r="2.9" fill="#ffba00" fill-opacity="0.7" stroke="rgba(230,230,230,0.5)" stroke-width="0.8"/>
<circle cx="288.5" cy="112.8" r="2.9" fill="#ffc100" fill-opacity="0.7" stroke="rgba(230,230,230,0.5)" stroke-width="0.8"/>
<circle cx="294.7" cy="104.0" r="2.9" fill="#ffff90" fill-opacity="0.7" stroke="rgba(230,230,230,0.5)" stroke-width="0.8"/>
<circle cx="274.4" cy="89.0" r="2.9" fill="#ffe300" fill-opacity="0.7" stroke="rgba(230,230,230,0.5)" stroke-width="0.8"/>
<circle cx="286.6" cy="93.5" r="2.9" fill="#ffaf00" fill-opacity="0.7" stroke="rgba(230,230,230,0.5)" stroke-width="0.8"/>
<circle cx="262.9" cy="92.7" r="2.9" fill="#ffff77" fill-opacity="0.7" stroke="rgba(230,230,230,0.5)" stroke-width="0.8"/>
<circle cx="293.7" cy="111.3" r="2.9" fill="#ff9900" fill-opacity="0.7" stroke="rgba(230,230,230,0.5)" stroke-width="0.8"/>
<circle cx="292.1" cy="119.0" r="2.9" fill="#ffba00" fill-opacity="0.7" stroke="rgba(230,230,230,0.5)" stroke-width="0.8"/>
<circle cx="317.3" cy="95.1" r="2.9" fill="#ffa100" fill-opacity="0.7" stroke="rgba(230,230,230,0.5)" stroke-width="0.8"/>
<circle cx="302.5" cy="102.4" r="2.9" fill="#ff7b00" fill-opacity="0.7" stroke="rgba(230,230,230,0.5)" stroke-width="0.8"/>
<circle cx="294.1" cy="96.6" r="2.9" fill="#ffff55" fill-opacity="0.7" stroke="rgba(230,230,230,0.5)" stroke-width="0.8"/>
<circle cx="272.9" cy="83.4" r="2.9" fill="#ffffff" fill-opacity="0.7" stroke="rgba(230,230,230,0.5)" stroke-width="0.8"/>
<circle cx="301.1" cy="112.4" r="2.9" fill="#ffec00" fill-opacity="0.7" stroke="rgba(230,230,230,0.5)" stroke-width="0.8"/>
<circle cx="273.5" cy="100.7" r="2.9" fill="#ffff97" fill-opacity="0.7" stroke="rgba(230,230,230,0.5)" stroke-width="0.8"/>
<circle cx="291.9" cy="100.9" r="2.9" fill="#ffa500" fill-opacity="0.7" stroke="rgba(230,230,230,0.5)" stroke-width="0.8"/>
<circle cx="284.4" cy="80.6" r="2.9" fill="#ffc900" fill-opacity="0.7" stroke="rgba(230,230,230,0.5)" stroke-width="0.8"/>
<circle cx="292.1" cy="76.9" r="2.9" fill="#ff7b00" fill-opacity="0.7" stroke="rgba(230,230,230,0.5)" stroke-width="0.8"/>
<circle cx="297.5" cy="106.2" r="2.9" fill="#fffb00" fill-opacity="0.7" stroke="rgba(230,230,230,0.5)" stroke-width="0.8"/>
<circle cx="293.6" cy="114.0" r="2.9" fill="#ffff22" fill-opacity="0.7" stroke="rgba(230,230,230,0.5)" stroke-width="0.8"/>
<circle cx="274.3" cy="115.4" r="2.9" fill="#ffff7e" fill-opacity="0.7" stroke="rgba(230,230,230,0.5)" stroke-width="0.8"/>
<circle cx="271.8" cy="109.5" r="2.9" fill="#ff9e00" fill-opacity="0.7" stroke="rgba(230,230,230,0.5)" stroke-width="0.8"/>
<circle cx="293.6" cy="121.7" r="2.9" fill="#ffc300" fill-opacity="0.7" stroke="rgba(230,230,230,0.5)" stroke-width="0.8"/>
<circle cx="320.3" cy="106.4" r="2.9" fill="#ffd900" fill-opacity="0.7" stroke="rgba(230,230,230,0.5)" stroke-width="0.8"/>
<circle cx="272.8" cy="103.6" r="2.9" fill="#ff7b00" fill-opacity="0.7" stroke="rgba(230,230,230,0.5)" stroke-width="0.8"/>
<circle cx="301.6" cy="86.6" r="2.9" fill="#ff7b00" fill-opacity="0.7" stroke="rgba(230,230,230,0.5)" stroke-width="0.8"/>
<circle cx="269.8" cy="74.1" r="2.9" fill="#ffc100" fill-opacity="0.7" stroke="rgba(230,230,230,0.5)" stroke-width="0.8"/>
<circle cx="305.6" cy="96.9" r="2.9" fill="#ffff86" fill-opacity="0.7" stroke="rgba(230,230,230,0.5)" stroke-width="0.8"/>
<circle cx="294.2" cy="96.6" r="2.9" fill="#ff9800" fill-opacity="0.7" stroke="rgba(230,230,230,0.5)" stroke-width="0.8"/>
<circle cx="257.3" cy="63.1" r="2.9" fill="#ffa300" fill-opacity="0.7" stroke="rgba(230,230,230,0.5)" stroke-width="0.8"/>
<circle cx="262.5" cy="75.3" r="2.9" fill="#ffff12" fill-opacity="0.7" stroke="rgba(230,230,230,0.5)" stroke-width="0.8"/>
<circle cx="281.2" cy="102.4" r="2.9" fill="#ffbb00" fill-opacity="0.7" stroke="rgba(230,230,230,0.5)" stroke-width="0.8"/>
<circle cx="300.2" cy="77.6" r="2.9" fill="#ffa200" fill-opacity="0.7" stroke="rgba(230,230,230,0.5)" stroke-width="0.8"/>
<circle cx="288.9" cy="114.7" r="2.9" fill="#fff500" fill-opacity="0.7" stroke="rgba(230,230,230,0.5)" stroke-width="0.8"/>
<circle cx="267.2" cy="119.5" r="2.9" fill="#ffff9f" fill-opacity="0.7" stroke="rgba(230,230,230,0.5)" stroke-width="0.8"/>
<circle cx="264.4" cy="124.8" r="2.9" fill="#ffff8a" fill-opacity="0.7" stroke="rgba(230,230,230,0.5)" stroke-width="0.8"/>
<circle cx="283.8" cy="100.0" r="2.9" fill="#ffda00" fill-opacity="0.7" stroke="rgba(230,230,230,0.5)" stroke-width="0.8"/>
<circle cx="287.5" cy="79.9" r="2.9" fill="#ffff84" fill-opacity="0.7" stroke="rgba(230,230,230,0.5)" stroke-width="0.8"/>
<circle cx="270.2" cy="87.1" r="2.9" fill="#ffde00" fill-opacity="0.7" stroke="rgba(230,230,230,0.5)" stroke-width="0.8"/>
<circle cx="285.8" cy="98.9" r="2.9" fill="#ff8000" fill-opacity="0.7" stroke="rgba(230,230,230,0.5)" stroke-width="0.8"/>
<circle cx="271.9" cy="92.2" r="2.9" fill="#ffa200" fill-opacity="0.7" stroke="rgba(230,230,230,0.5)" stroke-width="0.8"/>
<circle cx="276.2" cy="73.1" r="2.9" fill="#ffff53" fill-opacity="0.7" stroke="rgba(230,230,230,0.5)" stroke-width="0.8"/>
<circle cx="286.9" cy="111.2" r="2.9" fill="#ffff0a" fill-opacity="0.7" stroke="rgba(230,230,230,0.5)" stroke-width="0.8"/>
<circle cx="263.7" cy="80.1" r="2.9" fill="#ffffff" fill-opacity="0.7" stroke="rgba(230,230,230,0.5)" stroke-width="0.8"/>
<circle cx="282.8" cy="81.9" r="2.9" fill="#ff8700" fill-opacity="0.7" stroke="rgba(230,230,230,0.5)" stroke-width="0.8"/>
<circle cx="302.2" cy="102.5" r="2.9" fill="#ffff5d" fill-opacity="0.7" stroke="rgba(230,230,230,0.5)" stroke-width="0.8"/>
<circle cx="273.0" cy="103.2" r="2.9" fill="#ffff93" fill-opacity="0.7" stroke="rgba(230,230,230,0.5)" stroke-width="0.8"/>
<circle cx="291.7" cy="122.8" r="2.9" fill="#ffa700" fill-opacity="0.7" stroke="rgba(230,230,230,0.5)" stroke-width="0.8"/>
<circle cx="258.1" cy="89.2" r="2.9" fill="#ffff8f" fill-opacity="0.7" stroke="rgba(230,230,230,0.5)" stroke-width="0.8"/>
<circle cx="283.4" cy="68.2" r="2.9" fill="#ff7b00" fill-opacity="0.7" stroke="rgba(230,230,230,0.5)" stroke-width="0.8"/>
<circle cx="274.6" cy="108.4" r="2.9" fill="#ffff2e" fill-opacity="0.7" stroke="rgba(230,230,230,0.5)" stroke-width="0.8"/>
<circle cx="284.6" cy="98.1" r="2.9" fill="#ff9f00" fill-opacity="0.7" stroke="rgba(230,230,230,0.5)" stroke-width="0.8"/>
<circle cx="301.3" cy="77.6" r="2.9" fill="#ffa600" fill-opacity="0.7" stroke="rgba(230,230,230,0.5)" stroke-width="0.8"/>
<circle cx="291.0" cy="71.1" r="2.9" fill="#ffd800" fill-opacity="0.7" stroke="rgba(230,230,230,0.5)" stroke-width="0.8"/>
<circle cx="268.9" cy="85.3" r="2.9" fill="#ffff91" fill-opacity="0.7" stroke="rgba(230,230,230,0.5)" stroke-width="0.8"/>
<circle cx="280.8" cy="84.6" r="2.9" fill="#ff9800" fill-opacity="0.7" stroke="rgba(230,230,230,0.5)" stroke-width="0.8"/>
<circle cx="252.7" cy="96.6" r="2.9" fill="#ffff93" fill-opacity="0.7" stroke="rgba(230,230,230,0.5)" stroke-width="0.8"/>
<circle cx="265.8" cy="87.9" r="2.9" fill="#ffff77" fill-opacity="0.7" stroke="rgba(230,230,230,0.5)" stroke-width="0.8"/>
<circle cx="305.9" cy="124.6" r="2.9" fill="#ffbc00" fill-opacity="0.7" stroke="rgba(230,230,230,0.5)" stroke-width="0.8"/>
<circle cx="303.4" cy="106.2" r="2.9" fill="#ffffb7" fill-opacity="0.7" stroke="rgba(230,230,230,0.5)" stroke-width="0.8"/>
<circle cx="325.5" cy="97.5" r="2.9" fill="#ffcc00" fill-opacity="0.7" stroke="rgba(230,230,230,0.5)" stroke-width="0.8"/>
<circle cx="304.1" cy="97.1" r="2.9" fill="#ff9100" fill-opacity="0.7" stroke="rgba(230,230,230,0.5)" stroke-width="0.8"/>
<circle cx="288.3" cy="116.2" r="2.9" fill="#ff9800" fill-opacity="0.7" stroke="rgba(230,230,230,0.5)" stroke-width="0.8"/>
<circle cx="309.4" cy="99.7" r="2.9" fill="#ffb200" fill-opacity="0.7" stroke="rgba(230,230,230,0.5)" stroke-width="0.8"/>
<circle cx="302.0" cy="96.9" r="2.9" fill="#ff7b00" fill-opacity="0.7" stroke="rgba(230,230,230,0.5)" stroke-width="0.8"/>
<circle cx="298.3" cy="74.8" r="2.9" fill="#ff7b00" fill-opacity="0.7" stroke="rgba(230,230,230,0.5)" stroke-width="0.8"/>
<circle cx="317.5" cy="115.3" r="2.9" fill="#ff7b00" fill-opacity="0.7" stroke="rgba(230,230,230,0.5)" stroke-width="0.8"/>
<circle cx="290.7" cy="129.3" r="2.9" fill="#ffc300" fill-opacity="0.7" stroke="rgba(230,230,230,0.5)" stroke-width="0.8"/>
<circle cx="287.6" cy="104.1" r="2.9" fill="#ffa700" fill-opacity="0.7" stroke="rgba(230,230,230,0.5)" stroke-width="0.8"/>
<circle cx="285.5" cy="82.6" r="2.9" fill="#ff7b00" fill-opacity="0.7" stroke="rgba(230,230,230,0.5)" stroke-width="0.8"/>
<circle cx="293.6" cy="91.4" r="2.9" fill="#ffff2b" fill-opacity="0.7" stroke="rgba(230,230,230,0.5)" stroke-width="0.8"/>
<circle cx="305.2" cy="93.8" r="2.9" fill="#ff7b00" fill-opacity="0.7" stroke="rgba(230,230,230,0.5)" stroke-width="0.8"/>
<circle cx="322.3" cy="119.7" r="2.9" fill="#ff7b00" fill-opacity="0.7" stroke="rgba(230,230,230,0.5)" stroke-width="0.8"/>
<circle cx="302.7" cy="99.4" r="2.9" fill="#ffa000" fill-opacity="0.7" stroke="rgba(230,230,230,0.5)" stroke-width="0.8"/>
<circle cx="312.1" cy="108.3" r="2.9" fill="#ffff8f" fill-opacity="0.7" stroke="rgba(230,230,230,0.5)" stroke-width="0.8"/>
<circle cx="294.8" cy="93.4" r="2.9" fill="#ffb700" fill-opacity="0.7" stroke="rgba(230,230,230,0.5)" stroke-width="0.8"/>
<circle cx="265.0" cy="73.3" r="2.9" fill="#ffd500" fill-opacity="0.7" stroke="rgba(230,230,230,0.5)" stroke-width="0.8"/>
<circle cx="269.5" cy="113.4" r="2.9" fill="#ffdf00" fill-opacity="0.7" stroke="rgba(230,230,230,0.5)" stroke-width="0.8"/>
<circle cx="276.2" cy="97.6" r="2.9" fill="#ffff8d" fill-opacity="0.7" stroke="rgba(230,230,230,0.5)" stroke-width="0.8"/>
<circle cx="298.0" cy="121.0" r="2.9" fill="#ff7b00" fill-opacity="0.7" stroke="rgba(230,230,230,0.5)" stroke-width="0.8"/>
<circle cx="274.8" cy="77.2" r="2.9" fill="#ff8900" fill-opacity="0.7" stroke="rgba(230,230,230,0.5)" stroke-width="0.8"/>
<circle cx="289.0" cy="115.6" r="2.9" fill="#ffff94" fill-opacity="0.7" stroke="rgba(230,230,230,0.5)" stroke-width="0.8"/>
<circle cx="309.8" cy="120.6" r="2.9" fill="#ff7b00" fill-opacity="0.7" stroke="rgba(230,230,230,0.5)" stroke-width="0.8"/>
<circle cx="266.8" cy="94.4" r="2.9" fill="#ff9500" fill-opacity="0.7" stroke="rgba(230,230,230,0.5)" stroke-width="0.8"/>
<circle cx="276.0" cy="68.4" r="2.9" fill="#ffaf00" fill-opacity="0.7" stroke="rgba(230,230,230,0.5)" stroke-width="0.8"/>
<circle cx="299.6" cy="101.7" r="2.9" fill="#ff7b00" fill-opacity="0.7" stroke="rgba(230,230,230,0.5)" stroke-width="0.8"/>
<circle cx="271.6" cy="90.3" r="2.9" fill="#ffff95" fill-opacity="0.7" stroke="rgba(230,230,230,0.5)" stroke-width="0.8"/>
<circle cx="281.0" cy="103.7" r="2.9" fill="#ffb400" fill-opacity="0.7" stroke="rgba(230,230,230,0.5)" stroke-width="0.8"/>
<circle cx="281.3" cy="72.3" r="2.9" fill="#ff7b00" fill-opacity="0.7" stroke="rgba(230,230,230,0.5)" stroke-width="0.8"/>
<circle cx="242.1" cy="77.6" r="2.9" fill="#ffff0f" fill-opacity="0.7" stroke="rgba(230,230,230,0.5)" stroke-width="0.8"/>
<circle cx="295.3" cy="119.7" r="2.9" fill="#ffff03" fill-opacity="0.7" stroke="rgba(230,230,230,0.5)" stroke-width="0.8"/>
<circle cx="242.4" cy="71.6" r="2.9" fill="#ffffff" fill-opacity="0.7" stroke="rgba(230,230,230,0.5)" stroke-width="0.8"/>
<circle cx="293.0" cy="97.0" r="2.9" fill="#ff7b00" fill-opacity="0.7" stroke="rgba(230,230,230,0.5)" stroke-width="0.8"/>
<circle cx="278.4" cy="82.1" r="2.9" fill="#ffff70" fill-opacity="0.7" stroke="rgba(230,230,230,0.5)" stroke-width="0.8"/>
<circle cx="273.0" cy="115.6" r="2.9" fill="#ff9e00" fill-opacity="0.7" stroke="rgba(230,230,230,0.5)" stroke-width="0.8"/>
<circle cx="272.5" cy="74.6" r="2.9" fill="#ffae00" fill-opacity="0.7" stroke="rgba(230,230,230,0.5)" stroke-width="0.8"/>
<circle cx="276.5" cy="95.0" r="2.9" fill="#ff7b00" fill-opacity="0.7" stroke="rgba(230,230,230,0.5)" stroke-width="0.8"/>
<circle cx="261.7" cy="76.5" r="2.9" fill="#fffc00" fill-opacity="0.7" stroke="rgba(230,230,230,0.5)" stroke-width="0.8"/>
<circle cx="318.2" cy="98.8" r="2.9" fill="#ff7b00" fill-opacity="0.7" stroke="rgba(230,230,230,0.5)" stroke-width="0.8"/>
<circle cx="276.2" cy="91.8" r="2.9" fill="#ffd400" fill-opacity="0.7" stroke="rgba(230,230,230,0.5)" stroke-width="0.8"/>
<circle cx="287.7" cy="126.5" r="2.9" fill="#ffb100" fill-opacity="0.7" stroke="rgba(230,230,230,0.5)" stroke-width="0.8"/>
<circle cx="278.0" cy="111.1" r="2.9" fill="#ffff96" fill-opacity="0.7" stroke="rgba(230,230,230,0.5)" stroke-width="0.8"/>
<circle cx="301.5" cy="76.1" r="2.9" fill="#ffb700" fill-opacity="0.7" stroke="rgba(230,230,230,0.5)" stroke-width="0.8"/>
<circle cx="257.7" cy="109.3" r="2.9" fill="#ffff9d" fill-opacity="0.7" stroke="rgba(230,230,230,0.5)" stroke-width="0.8"/>
<circle cx="263.1" cy="65.0" r="2.9" fill="#ffdf00" fill-opacity="0.7" stroke="rgba(230,230,230,0.5)" stroke-width="0.8"/>
<circle cx="296.1" cy="121.7" r="2.9" fill="#fffd00" fill-opacity="0.7" stroke="rgba(230,230,230,0.5)" stroke-width="0.8"/>
<circle cx="297.8" cy="73.1" r="2.9" fill="#ffa200" fill-opacity="0.7" stroke="rgba(230,230,230,0.5)" stroke-width="0.8"/>
<circle cx="280.4" cy="130.9" r="2.9" fill="#ffff37" fill-opacity="0.7" stroke="rgba(230,230,230,0.5)" stroke-width="0.8"/>
<circle cx="271.1" cy="88.6" r="2.9" fill="#ffffb0" fill-opacity="0.7" stroke="rgba(230,230,230,0.5)" stroke-width="0.8"/>
<circle cx="258.8" cy="83.5" r="2.9" fill="#ffff8e" fill-opacity="0.7" stroke="rgba(230,230,230,0.5)" stroke-width="0.8"/>
<circle cx="276.2" cy="120.6" r="2.9" fill="#ffffff" fill-opacity="0.7" stroke="rgba(230,230,230,0.5)" stroke-width="0.8"/>
<circle cx="275.0" cy="120.7" r="2.9" fill="#ffff44" fill-opacity="0.7" stroke="rgba(230,230,230,0.5)" stroke-width="0.8"/>
<circle cx="297.2" cy="108.2" r="2.9" fill="#ff7b00" fill-opacity="0.7" stroke="rgba(230,230,230,0.5)" stroke-width="0.8"/>
<circle cx="283.5" cy="103.6" r="2.9" fill="#ffd100" fill-opacity="0.7" stroke="rgba(230,230,230,0.5)" stroke-width="0.8"/>
<circle cx="268.4" cy="96.2" r="2.9" fill="#ffbc00" fill-opacity="0.7" stroke="rgba(230,230,230,0.5)" stroke-width="0.8"/>
<circle cx="297.9" cy="94.3" r="2.9" fill="#ff8f00" fill-opacity="0.7" stroke="rgba(230,230,230,0.5)" stroke-width="0.8"/>
<circle cx="299.5" cy="70.1" r="2.9" fill="#ff7b00" fill-opacity="0.7" stroke="rgba(230,230,230,0.5)" stroke-width="0.8"/>
<circle cx="305.4" cy="112.8" r="2.9" fill="#ffd900" fill-opacity="0.7" stroke="rgba(230,230,230,0.5)" stroke-width="0.8"/>
<circle cx="276.8" cy="89.5" r="2.9" fill="#ff7b00" fill-opacity="0.7" stroke="rgba(230,230,230,0.5)" stroke-width="0.8"/>
<circle cx="293.8" cy="73.8" r="2.9" fill="#ff9c00" fill-opacity="0.7" stroke="rgba(230,230,230,0.5)" stroke-width="0.8"/>
<circle cx="296.6" cy="111.6" r="2.9" fill="#ff7b00" fill-opacity="0.7" stroke="rgba(230,230,230,0.5)" stroke-width="0.8"/>
<circle cx="263.4" cy="92.4" r="2.9" fill="#ffff94" fill-opacity="0.7" stroke="rgba(230,230,230,0.5)" stroke-width="0.8"/>
<circle cx="304.2" cy="114.1" r="2.9" fill="#ff9100" fill-opacity="0.7" stroke="rgba(230,230,230,0.5)" stroke-width="0.8"/>
<circle cx="264.9" cy="76.2" r="2.9" fill="#ffffff" fill-opacity="0.7" stroke="rgba(230,230,230,0.5)" stroke-width="0.8"/>
<circle cx="275.9" cy="126.5" r="2.9" fill="#ffffff" fill-opacity="0.7" stroke="rgba(230,230,230,0.5)" stroke-width="0.8"/>
<circle cx="270.5" cy="82.5" r="2.9" fill="#ffe200" fill-opacity="0.7" stroke="rgba(230,230,230,0.5)" stroke-width="0.8"/>
<circle cx="280.0" cy="110.5" r="2.9" fill="#ff7b00" fill-opacity="0.7" stroke="rgba(230,230,230,0.5)" stroke-width="0.8"/>
<circle cx="300.9" cy="103.1" r="2.9" fill="#ffff9e" fill-opacity="0.7" stroke="rgba(230,230,230,0.5)" stroke-width="0.8"/>
<circle cx="297.3" cy="98.8" r="2.9" fill="#ff9800" fill-opacity="0.7" stroke="rgba(230,230,230,0.5)" stroke-width="0.8"/>
<circle cx="280.0" cy="104.9" r="2.9" fill="#ff7b00" fill-opacity="0.7" stroke="rgba(230,230,230,0.5)" stroke-width="0.8"/>
<circle cx="287.9" cy="114.2" r="2.9" fill="#fffa00" fill-opacity="0.7" stroke="rgba(230,230,230,0.5)" stroke-width="0.8"/>
<circle cx="286.2" cy="106.9" r="2.9" fill="#ffb000" fill-opacity="0.7" stroke="rgba(230,230,230,0.5)" stroke-width="0.8"/>
<circle cx="297.7" cy="86.4" r="2.9" fill="#ffd500" fill-opacity="0.7" stroke="rgba(230,230,230,0.5)" stroke-width="0.8"/>
<circle cx="291.5" cy="71.4" r="2.9" fill="#ffa400" fill-opacity="0.7" stroke="rgba(230,230,230,0.5)" stroke-width="0.8"/>
<circle cx="261.9" cy="103.5" r="2.9" fill="#ffec00" fill-opacity="0.7" stroke="rgba(230,230,230,0.5)" stroke-width="0.8"/>
<circle cx="269.0" cy="83.3" r="2.9" fill="#ffb400" fill-opacity="0.7" stroke="rgba(230,230,230,0.5)" stroke-width="0.8"/>
<circle cx="293.2" cy="106.7" r="2.9" fill="#ff9100" fill-opacity="0.7" stroke="rgba(230,230,230,0.5)" stroke-width="0.8"/>
<circle cx="322.6" cy="121.2" r="2.9" fill="#ffae00" fill-opacity="0.7" stroke="rgba(230,230,230,0.5)" stroke-width="0.8"/>
<circle cx="261.7" cy="90.8" r="2.9" fill="#ffffff" fill-opacity="0.7" stroke="rgba(230,230,230,0.5)" stroke-width="0.8"/>
<circle cx="292.2" cy="89.5" r="2.9" fill="#ff7b00" fill-opacity="0.7" stroke="rgba(230,230,230,0.5)" stroke-width="0.8"/>
<circle cx="308.6" cy="106.3" r="2.9" fill="#ff9a00" fill-opacity="0.7" stroke="rgba(230,230,230,0.5)" stroke-width="0.8"/>
<circle cx="280.5" cy="75.8" r="2.9" fill="#ff9400" fill-opacity="0.7" stroke="rgba(230,230,230,0.5)" stroke-width="0.8"/>
<circle cx="267.8" cy="65.5" r="2.9" fill="#ffc400" fill-opacity="0.7" stroke="rgba(230,230,230,0.5)" stroke-width="0.8"/>
<circle cx="285.0" cy="85.2" r="2.9" fill="#ff7b00" fill-opacity="0.7" stroke="rgba(230,230,230,0.5)" stroke-width="0.8"/>
<circle cx="255.3" cy="103.2" r="2.9" fill="#ffff94" fill-opacity="0.7" stroke="rgba(230,230,230,0.5)" stroke-width="0.8"/>
<circle cx="271.4" cy="92.9" r="2.9" fill="#ffff8c" fill-opacity="0.7" stroke="rgba(230,230,230,0.5)" stroke-width="0.8"/>
<circle cx="285.0" cy="111.8" r="2.9" fill="#ffa800" fill-opacity="0.7" stroke="rgba(230,230,230,0.5)" stroke-width="0.8"/>
<circle cx="294.1" cy="91.0" r="2.9" fill="#ff7b00" fill-opacity="0.7" stroke="rgba(230,230,230,0.5)" stroke-width="0.8"/>
<circle cx="281.0" cy="80.8" r="2.9" fill="#ffd100" fill-opacity="0.7" stroke="rgba(230,230,230,0.5)" stroke-width="0.8"/>
<circle cx="290.4" cy="87.1" r="2.9" fill="#ffff02" fill-opacity="0.7" stroke="rgba(230,230,230,0.5)" stroke-width="0.8"/>
<circle cx="257.8" cy="76.0" r="2.9" fill="#ffff91" fill-opacity="0.7" stroke="rgba(230,230,230,0.5)" stroke-width="0.8"/>
<circle cx="286.6" cy="110.7" r="2.9" fill="#ffb000" fill-opacity="0.7" stroke="rgba(230,230,230,0.5)" stroke-width="0.8"/>
<circle cx="284.9" cy="124.7" r="2.9" fill="#fff500" fill-opacity="0.7" stroke="rgba(230,230,230,0.5)" stroke-width="0.8"/>
<circle cx="295.3" cy="99.9" r="2.9" fill="#ffff33" fill-opacity="0.7" stroke="rgba(230,230,230,0.5)" stroke-width="0.8"/>
<circle cx="297.2" cy="95.2" r="2.9" fill="#ff7b00" fill-opacity="0.7" stroke="rgba(230,230,230,0.5)" stroke-width="0.8"/>
<circle cx="288.6" cy="82.8" r="2.9" fill="#ffff62" fill-opacity="0.7" stroke="rgba(230,230,230,0.5)" stroke-width="0.8"/>
<circle cx="247.9" cy="87.3" r="2.9" fill="#ffffff" fill-opacity="0.7" stroke="rgba(230,230,230,0.5)" stroke-width="0.8"/>
<circle cx="306.4" cy="95.7" r="2.9" fill="#ffb200" fill-opacity="0.7" stroke="rgba(230,230,230,0.5)" stroke-width="0.8"/>
<circle cx="269.4" cy="94.4" r="2.9" fill="#ffc800" fill-opacity="0.7" stroke="rgba(230,230,230,0.5)" stroke-width="0.8"/>
<circle cx="306.9" cy="103.1" r="2.9" fill="#ffd300" fill-opacity="0.7" stroke="rgba(230,230,230,0.5)" stroke-width="0.8"/>
<circle cx="241.4" cy="89.9" r="2.9" fill="#ffffff" fill-opacity="0.7" stroke="rgba(230,230,230,0.5)" stroke-width="0.8"/>
<circle cx="265.6" cy="102.2" r="2.9" fill="#ffff0d" fill-opacity="0.7" stroke="rgba(230,230,230,0.5)" stroke-width="0.8"/>
<circle cx="262.7" cy="95.6" r="2.9" fill="#ffffa4" fill-opacity="0.7" stroke="rgba(230,230,230,0.5)" stroke-width="0.8"/>
<circle cx="277.9" cy="92.2" r="2.9" fill="#ffec00" fill-opacity="0.7" stroke="rgba(230,230,230,0.5)" stroke-width="0.8"/>
<circle cx="298.7" cy="96.9" r="2.9" fill="#ffa800" fill-opacity="0.7" stroke="rgba(230,230,230,0.5)" stroke-width="0.8"/>
<circle cx="255.5" cy="90.3" r="2.9" fill="#ffff18" fill-opacity="0.7" stroke="rgba(230,230,230,0.5)" stroke-width="0.8"/>
<circle cx="261.4" cy="100.6" r="2.9" fill="#ffff7b" fill-opacity="0.7" stroke="rgba(230,230,230,0.5)" stroke-width="0.8"/>
<circle cx="293.2" cy="98.7" r="2.9" fill="#ffe200" fill-opacity="0.7" stroke="rgba(230,230,230,0.5)" stroke-width="0.8"/>
<circle cx="275.3" cy="111.9" r="2.9" fill="#ffa900" fill-opacity="0.7" stroke="rgba(230,230,230,0.5)" stroke-width="0.8"/>
<circle cx="262.5" cy="90.5" r="2.9" fill="#ffff74" fill-opacity="0.7" stroke="rgba(230,230,230,0.5)" stroke-width="0.8"/>
<circle cx="301.0" cy="88.8" r="2.9" fill="#ffa500" fill-opacity="0.7" stroke="rgba(230,230,230,0.5)" stroke-width="0.8"/>
<circle cx="274.3" cy="84.3" r="2.9" fill="#ffff6e" fill-opacity="0.7" stroke="rgba(230,230,230,0.5)" stroke-width="0.8"/>
<circle cx="281.7" cy="95.8" r="2.9" fill="#ff9a00" fill-opacity="0.7" stroke="rgba(230,230,230,0.5)" stroke-width="0.8"/>
<circle cx="289.3" cy="116.3" r="2.9" fill="#ff7b00" fill-opacity="0.7" stroke="rgba(230,230,230,0.5)" stroke-width="0.8"/>
<circle cx="273.0" cy="97.2" r="2.9" fill="#ffff1f" fill-opacity="0.7" stroke="rgba(230,230,230,0.5)" stroke-width="0.8"/>
<circle cx="323.5" cy="114.8" r="2.9" fill="#ffff76" fill-opacity="0.7" stroke="rgba(230,230,230,0.5)" stroke-width="0.8"/>
<circle cx="307.8" cy="113.2" r="2.9" fill="#ffff8e" fill-opacity="0.7" stroke="rgba(230,230,230,0.5)" stroke-width="0.8"/>
<circle cx="265.7" cy="100.3" r="2.9" fill="#ffffb3" fill-opacity="0.7" stroke="rgba(230,230,230,0.5)" stroke-width="0.8"/>
<circle cx="281.4" cy="68.4" r="2.9" fill="#ffbd00" fill-opacity="0.7" stroke="rgba(230,230,230,0.5)" stroke-width="0.8"/>
<circle cx="277.2" cy="88.6" r="2.9" fill="#ff7c00" fill-opacity="0.7" stroke="rgba(230,230,230,0.5)" stroke-width="0.8"/>
<circle cx="267.6" cy="84.0" r="2.9" fill="#ffff38" fill-opacity="0.7" stroke="rgba(230,230,230,0.5)" stroke-width="0.8"/>
<circle cx="297.7" cy="112.9" r="2.9" fill="#ffff28" fill-opacity="0.7" stroke="rgba(230,230,230,0.5)" stroke-width="0.8"/>
<circle cx="279.2" cy="96.5" r="2.9" fill="#ffff8e" fill-opacity="0.7" stroke="rgba(230,230,230,0.5)" stroke-width="0.8"/>
<circle cx="303.6" cy="110.7" r="2.9" fill="#ffd200" fill-opacity="0.7" stroke="rgba(230,230,230,0.5)" stroke-width="0.8"/>
<circle cx="292.1" cy="82.6" r="2.9" fill="#ffa300" fill-opacity="0.7" stroke="rgba(230,230,230,0.5)" stroke-width="0.8"/>
<circle cx="312.9" cy="120.9" r="2.9" fill="#ffa700" fill-opacity="0.7" stroke="rgba(230,230,230,0.5)" stroke-width="0.8"/>
<circle cx="322.1" cy="102.7" r="2.9" fill="#ff9e00" fill-opacity="0.7" stroke="rgba(230,230,230,0.5)" stroke-width="0.8"/>
<circle cx="300.1" cy="129.2" r="2.9" fill="#ffee00" fill-opacity="0.7" stroke="rgba(230,230,230,0.5)" stroke-width="0.8"/>
<circle cx="294.1" cy="78.4" r="2.9" fill="#ff7b00" fill-opacity="0.7" stroke="rgba(230,230,230,0.5)" stroke-width="0.8"/>
<circle cx="299.5" cy="83.8" r="2.9" fill="#ffff15" fill-opacity="0.7" stroke="rgba(230,230,230,0.5)" stroke-width="0.8"/>
<circle cx="296.0" cy="74.7" r="2.9" fill="#ffb200" fill-opacity="0.7" stroke="rgba(230,230,230,0.5)" stroke-width="0.8"/>
<circle cx="289.1" cy="80.2" r="2.9" fill="#ff9500" fill-opacity="0.7" stroke="rgba(230,230,230,0.5)" stroke-width="0.8"/>
<circle cx="294.6" cy="105.6" r="2.9" fill="#ffa500" fill-opacity="0.7" stroke="rgba(230,230,230,0.5)" stroke-width="0.8"/>
<circle cx="273.6" cy="102.7" r="2.9" fill="#ff9a00" fill-opacity="0.7" stroke="rgba(230,230,230,0.5)" stroke-width="0.8"/>
<circle cx="289.4" cy="94.0" r="2.9" fill="#ffff66" fill-opacity="0.7" stroke="rgba(230,230,230,0.5)" stroke-width="0.8"/>
<circle cx="278.2" cy="82.3" r="2.9" fill="#ffff53" fill-opacity="0.7" stroke="rgba(230,230,230,0.5)" stroke-width="0.8"/>
<circle cx="263.7" cy="94.6" r="2.9" fill="#ffff68" fill-opacity="0.7" stroke="rgba(230,230,230,0.5)" stroke-width="0.8"/>
<circle cx="286.3" cy="104.1" r="2.9" fill="#ffffa6" fill-opacity="0.7" stroke="rgba(230,230,230,0.5)" stroke-width="0.8"/>
<circle cx="311.0" cy="87.4" r="2.9" fill="#ff7b00" fill-opacity="0.7" stroke="rgba(230,230,230,0.5)" stroke-width="0.8"/>
<circle cx="270.0" cy="107.7" r="2.9" fill="#ffff93" fill-opacity="0.7" stroke="rgba(230,230,230,0.5)" stroke-width="0.8"/>
<circle cx="291.8" cy="71.6" r="2.9" fill="#ffa500" fill-opacity="0.7" stroke="rgba(230,230,230,0.5)" stroke-width="0.8"/>
<circle cx="300.0" cy="72.6" r="2.9" fill="#ff7b00" fill-opacity="0.7" stroke="rgba(230,230,230,0.5)" stroke-width="0.8"/>
<circle cx="292.2" cy="77.4" r="2.9" fill="#ff9600" fill-opacity="0.7" stroke="rgba(230,230,230,0.5)" stroke-width="0.8"/>
<circle cx="286.7" cy="86.3" r="2.9" fill="#ff9500" fill-opacity="0.7" stroke="rgba(230,230,230,0.5)" stroke-width="0.8"/>
<circle cx="279.7" cy="82.4" r="2.9" fill="#ffb200" fill-opacity="0.7" stroke="rgba(230,230,230,0.5)" stroke-width="0.8"/>
<circle cx="265.9" cy="92.2" r="2.9" fill="#ffe900" fill-opacity="0.7" stroke="rgba(230,230,230,0.5)" stroke-width="0.8"/>
<circle cx="268.2" cy="116.5" r="2.9" fill="#ffffbe" fill-opacity="0.7" stroke="rgba(230,230,230,0.5)" stroke-width="0.8"/>
<circle cx="256.1" cy="112.5" r="2.9" fill="#ffff9e" fill-opacity="0.7" stroke="rgba(230,230,230,0.5)" stroke-width="0.8"/>
<circle cx="283.0" cy="91.7" r="2.9" fill="#ffb000" fill-opacity="0.7" stroke="rgba(230,230,230,0.5)" stroke-width="0.8"/>
<circle cx="310.1" cy="80.8" r="2.9" fill="#ff7b00" fill-opacity="0.7" stroke="rgba(230,230,230,0.5)" stroke-width="0.8"/>
<circle cx="276.1" cy="111.2" r="2.9" fill="#ffff58" fill-opacity="0.7" stroke="rgba(230,230,230,0.5)" stroke-width="0.8"/>
<circle cx="282.1" cy="106.9" r="2.9" fill="#ffff6b" fill-opacity="0.7" stroke="rgba(230,230,230,0.5)" stroke-width="0.8"/>
<circle cx="283.4" cy="80.3" r="2.9" fill="#ffa700" fill-opacity="0.7" stroke="rgba(230,230,230,0.5)" stroke-width="0.8"/>
<circle cx="291.7" cy="87.2" r="2.9" fill="#ffc300" fill-opacity="0.7" stroke="rgba(230,230,230,0.5)" stroke-width="0.8"/>
<circle cx="283.8" cy="93.9" r="2.9" fill="#ffff65" fill-opacity="0.7" stroke="rgba(230,230,230,0.5)" stroke-width="0.8"/>
<circle cx="282.4" cy="102.9" r="2.9" fill="#ffd400" fill-opacity="0.7" stroke="rgba(230,230,230,0.5)" stroke-width="0.8"/>
<circle cx="279.0" cy="94.3" r="2.9" fill="#ffda00" fill-opacity="0.7" stroke="rgba(230,230,230,0.5)" stroke-width="0.8"/>
<circle cx="306.3" cy="101.1" r="2.9" fill="#ff9500" fill-opacity="0.7" stroke="rgba(230,230,230,0.5)" stroke-width="0.8"/>
<circle cx="285.4" cy="77.5" r="2.9" fill="#ffb300" fill-opacity="0.7" stroke="rgba(230,230,230,0.5)" stroke-width="0.8"/>
<circle cx="257.2" cy="77.4" r="2.9" fill="#ffffc1" fill-opacity="0.7" stroke="rgba(230,230,230,0.5)" stroke-width="0.8"/>
<circle cx="292.9" cy="127.4" r="2.9" fill="#ff8d00" fill-opacity="0.7" stroke="rgba(230,230,230,0.5)" stroke-width="0.8"/>
<circle cx="313.5" cy="85.4" r="2.9" fill="#ffa600" fill-opacity="0.7" stroke="rgba(230,230,230,0.5)" stroke-width="0.8"/>
<circle cx="315.6" cy="97.2" r="2.9" fill="#ffff6e" fill-opacity="0.7" stroke="rgba(230,230,230,0.5)" stroke-width="0.8"/>
<circle cx="267.7" cy="71.1" r="2.9" fill="#ffec00" fill-opacity="0.7" stroke="rgba(230,230,230,0.5)" stroke-width="0.8"/>
<circle cx="276.8" cy="84.5" r="2.9" fill="#ff7b00" fill-opacity="0.7" stroke="rgba(230,230,230,0.5)" stroke-width="0.8"/>
<circle cx="309.4" cy="93.8" r="2.9" fill="#ff7b00" fill-opacity="0.7" stroke="rgba(230,230,230,0.5)" stroke-width="0.8"/>
<circle cx="265.8" cy="79.1" r="2.9" fill="#ffff3f" fill-opacity="0.7" stroke="rgba(230,230,230,0.5)" stroke-width="0.8"/>
<circle cx="280.4" cy="101.8" r="2.9" fill="#ffff5b" fill-opacity="0.7" stroke="rgba(230,230,230,0.5)" stroke-width="0.8"/>
<circle cx="280.1" cy="105.4" r="2.9" fill="#ffa400" fill-opacity="0.7" stroke="rgba(230,230,230,0.5)" stroke-width="0.8"/>
<circle cx="283.1" cy="100.1" r="2.9" fill="#ff9e00" fill-opacity="0.7" stroke="rgba(230,230,230,0.5)" stroke-width="0.8"/>
<circle cx="286.5" cy="71.5" r="2.9" fill="#ffff12" fill-opacity="0.7" stroke="rgba(230,230,230,0.5)" stroke-width="0.8"/>
<circle cx="293.2" cy="92.3" r="2.9" fill="#ff9100" fill-opacity="0.7" stroke="rgba(230,230,230,0.5)" stroke-width="0.8"/>
<circle cx="253.5" cy="98.9" r="2.9" fill="#fff400" fill-opacity="0.7" stroke="rgba(230,230,230,0.5)" stroke-width="0.8"/>
<circle cx="300.0" cy="99.0" r="2.9" fill="#ffa800" fill-opacity="0.7" stroke="rgba(230,230,230,0.5)" stroke-width="0.8"/>
<circle cx="265.1" cy="64.6" r="2.9" fill="#ffe900" fill-opacity="0.7" stroke="rgba(230,230,230,0.5)" stroke-width="0.8"/>
<circle cx="271.8" cy="103.8" r="2.9" fill="#ffd000" fill-opacity="0.7" stroke="rgba(230,230,230,0.5)" stroke-width="0.8"/>
<circle cx="295.9" cy="87.5" r="2.9" fill="#ff7b00" fill-opacity="0.7" stroke="rgba(230,230,230,0.5)" stroke-width="0.8"/>
<circle cx="264.7" cy="108.5" r="2.9" fill="#ffb700" fill-opacity="0.7" stroke="rgba(230,230,230,0.5)" stroke-width="0.8"/>
<circle cx="282.6" cy="100.3" r="2.9" fill="#ffff7f" fill-opacity="0.7" stroke="rgba(230,230,230,0.5)" stroke-width="0.8"/>
<circle cx="285.4" cy="78.9" r="2.9" fill="#ff7b00" fill-opacity="0.7" stroke="rgba(230,230,230,0.5)" stroke-width="0.8"/>
<circle cx="301.5" cy="80.0" r="2.9" fill="#ff7b00" fill-opacity="0.7" stroke="rgba(230,230,230,0.5)" stroke-width="0.8"/>
<circle cx="237.3" cy="83.8" r="2.9" fill="#ffffff" stroke="rgba(200,200,200,0.85)" stroke-width="0.8"/>
<circle cx="234.5" cy="96.0" r="2.9" fill="#ffffff" stroke="rgba(200,200,200,0.85)" stroke-width="0.8"/>
<circle cx="253.2" cy="112.4" r="2.9" fill="#ffffff" stroke="rgba(200,200,200,0.85)" stroke-width="0.8"/>
<circle cx="249.1" cy="117.9" r="2.9" fill="#ffffff" stroke="rgba(200,200,200,0.85)" stroke-width="0.8"/>
<circle cx="256.6" cy="116.5" r="2.9" fill="#ffffff" stroke="rgba(200,200,200,0.85)" stroke-width="0.8"/>
<circle cx="260.0" cy="108.3" r="2.9" fill="#ffffbd" stroke="rgba(200,200,200,0.85)" stroke-width="0.8"/>
<circle cx="313.5" cy="132.6" r="2.9" fill="#ffffb6" stroke="rgba(200,200,200,0.85)" stroke-width="0.8"/>
<circle cx="252.4" cy="47.2" r="2.9" fill="#ffffb1" stroke="rgba(200,200,200,0.85)" stroke-width="0.8"/>
<circle cx="258.4" cy="55.3" r="2.9" fill="#ffffb1" stroke="rgba(200,200,200,0.85)" stroke-width="0.8"/>
<circle cx="297.9" cy="144.2" r="2.9" fill="#ffffb1" stroke="rgba(200,200,200,0.85)" stroke-width="0.8"/>
<circle cx="313.2" cy="133.0" r="2.9" fill="#ffffb1" stroke="rgba(200,200,200,0.85)" stroke-width="0.8"/>
<circle cx="259.1" cy="56.0" r="2.9" fill="#ffffb1" stroke="rgba(200,200,200,0.85)" stroke-width="0.8"/>
<circle cx="244.2" cy="45.0" r="2.9" fill="#ffff8f" stroke="rgba(200,200,200,0.85)" stroke-width="0.8"/>
<circle cx="244.0" cy="106.9" r="2.9" fill="#ffff8f" stroke="rgba(200,200,200,0.85)" stroke-width="0.8"/>
<circle cx="334.4" cy="96.4" r="2.9" fill="#ffff8f" stroke="rgba(200,200,200,0.85)" stroke-width="0.8"/>
<circle cx="330.1" cy="107.9" r="2.9" fill="#ffff8f" stroke="rgba(200,200,200,0.85)" stroke-width="0.8"/>
<circle cx="333.5" cy="96.4" r="2.9" fill="#ffff8f" stroke="rgba(200,200,200,0.85)" stroke-width="0.8"/>
<circle cx="279.5" cy="57.3" r="2.9" fill="#ffff8f" stroke="rgba(200,200,200,0.85)" stroke-width="0.8"/>
<circle cx="239.3" cy="42.8" r="2.9" fill="#ffff69" stroke="rgba(200,200,200,0.85)" stroke-width="0.8"/>
<circle cx="238.6" cy="77.0" r="2.9" fill="#ffff69" stroke="rgba(200,200,200,0.85)" stroke-width="0.8"/>
<circle cx="244.3" cy="107.7" r="2.9" fill="#ffff69" stroke="rgba(200,200,200,0.85)" stroke-width="0.8"/>
<circle cx="261.3" cy="115.8" r="2.9" fill="#ffff69" stroke="rgba(200,200,200,0.85)" stroke-width="0.8"/>
<circle cx="272.9" cy="126.7" r="2.9" fill="#ffff69" stroke="rgba(200,200,200,0.85)" stroke-width="0.8"/>
<circle cx="297.7" cy="65.2" r="2.9" fill="#ffff69" stroke="rgba(200,200,200,0.85)" stroke-width="0.8"/>
<circle cx="305.9" cy="77.4" r="2.9" fill="#ffff69" stroke="rgba(200,200,200,0.85)" stroke-width="0.8"/>
<circle cx="326.3" cy="91.7" r="2.9" fill="#ffff69" stroke="rgba(200,200,200,0.85)" stroke-width="0.8"/>
<circle cx="323.3" cy="123.5" r="2.9" fill="#ffff69" stroke="rgba(200,200,200,0.85)" stroke-width="0.8"/>
<circle cx="324.7" cy="114.7" r="2.9" fill="#ffff69" stroke="rgba(200,200,200,0.85)" stroke-width="0.8"/>
<circle cx="238.3" cy="51.0" r="2.9" fill="#fffc47" stroke="rgba(200,200,200,0.85)" stroke-width="0.8"/>
<circle cx="274.1" cy="126.5" r="2.9" fill="#fffc47" stroke="rgba(200,200,200,0.85)" stroke-width="0.8"/>
<circle cx="293.7" cy="70.3" r="2.9" fill="#ffee47" stroke="rgba(200,200,200,0.85)" stroke-width="0.8"/>
<circle cx="247.0" cy="55.3" r="2.9" fill="#ffc247" stroke="rgba(200,200,200,0.85)" stroke-width="0.8"/>
<circle cx="315.2" cy="119.5" r="2.9" fill="#ffc247" stroke="rgba(200,200,200,0.85)" stroke-width="0.8"/>
<circle cx="304.6" cy="146.9" r="2.9" fill="#ffbd47" stroke="rgba(200,200,200,0.85)" stroke-width="0.8"/>
<circle cx="249.5" cy="103.5" r="2.9" fill="#ffb847" stroke="rgba(200,200,200,0.85)" stroke-width="0.8"/>
<circle cx="330.8" cy="112.7" r="2.9" fill="#ffb847" stroke="rgba(200,200,200,0.85)" stroke-width="0.8"/>
<circle cx="249.8" cy="103.6" r="2.9" fill="#ffb347" stroke="rgba(200,200,200,0.85)" stroke-width="0.8"/>
<circle cx="279.5" cy="128.5" r="2.9" fill="#ffb347" stroke="rgba(200,200,200,0.85)" stroke-width="0.8"/>
<circle cx="337.8" cy="93.7" r="2.9" fill="#ffb347" stroke="rgba(200,200,200,0.85)" stroke-width="0.8"/>
<circle cx="244.7" cy="92.0" r="2.9" fill="#ffad47" stroke="rgba(200,200,200,0.85)" stroke-width="0.8"/>
<circle cx="265.4" cy="121.9" r="2.9" fill="#ffad47" stroke="rgba(200,200,200,0.85)" stroke-width="0.8"/>
<circle cx="273.6" cy="130.8" r="2.9" fill="#ffad47" stroke="rgba(200,200,200,0.85)" stroke-width="0.8"/>
<circle cx="331.0" cy="102.6" r="2.9" fill="#ffad47" stroke="rgba(200,200,200,0.85)" stroke-width="0.8"/>
<circle cx="311.3" cy="89.0" r="2.9" fill="#ffad47" stroke="rgba(200,200,200,0.85)" stroke-width="0.8"/>
<circle cx="309.8" cy="138.5" r="2.9" fill="#ffad47" stroke="rgba(200,200,200,0.85)" stroke-width="0.8"/>
<circle cx="331.5" cy="103.2" r="2.9" fill="#ffad47" stroke="rgba(200,200,200,0.85)" stroke-width="0.8"/>
<circle cx="317.2" cy="124.2" r="2.9" fill="#ffad47" stroke="rgba(200,200,200,0.85)" stroke-width="0.8"/>
<circle cx="338.3" cy="95.7" r="2.9" fill="#ffad47" stroke="rgba(200,200,200,0.85)" stroke-width="0.8"/>
<circle cx="271.3" cy="60.1" r="2.9" fill="#ffad47" stroke="rgba(200,200,200,0.85)" stroke-width="0.8"/>
<circle cx="310.1" cy="138.7" r="2.9" fill="#ffa547" stroke="rgba(200,200,200,0.85)" stroke-width="0.8"/>
<circle cx="258.4" cy="46.6" r="2.9" fill="#ff9447" stroke="rgba(200,200,200,0.85)" stroke-width="0.8"/>
<circle cx="239.3" cy="57.5" r="2.9" fill="#ff9447" stroke="rgba(200,200,200,0.85)" stroke-width="0.8"/>
<circle cx="238.8" cy="65.1" r="2.9" fill="#ff9447" stroke="rgba(200,200,200,0.85)" stroke-width="0.8"/>
<circle cx="304.6" cy="140.8" r="2.9" fill="#ff9447" stroke="rgba(200,200,200,0.85)" stroke-width="0.8"/>
<circle cx="303.2" cy="72.7" r="2.9" fill="#ff9447" stroke="rgba(200,200,200,0.85)" stroke-width="0.8"/>
<circle cx="334.9" cy="126.3" r="2.9" fill="#ff9447" stroke="rgba(200,200,200,0.85)" stroke-width="0.8"/>
<circle cx="259.1" cy="46.5" r="2.9" fill="#ff9447" stroke="rgba(200,200,200,0.85)" stroke-width="0.8"/>
<circle cx="302.6" cy="71.6" r="2.9" fill="#ff9447" stroke="rgba(200,200,200,0.85)" stroke-width="0.8"/>
<circle cx="297.7" cy="71.3" r="2.9" fill="#ff5d47" stroke="rgba(200,200,200,0.85)" stroke-width="0.8"/>
<circle cx="320.6" cy="135.1" r="2.9" fill="#ff5d47" stroke="rgba(200,200,200,0.85)" stroke-width="0.8"/>
<circle cx="322.7" cy="107.9" r="2.9" fill="#ff5d47" stroke="rgba(200,200,200,0.85)" stroke-width="0.8"/>
<circle cx="321.3" cy="95.7" r="2.9" fill="#ff5d47" stroke="rgba(200,200,200,0.85)" stroke-width="0.8"/>
<circle cx="321.0" cy="135.5" r="2.9" fill="#ff5d47" stroke="rgba(200,200,200,0.85)" stroke-width="0.8"/>
<circle cx="319.6" cy="134.6" r="2.9" fill="#ff4e47" stroke="rgba(200,200,200,0.85)" stroke-width="0.8"/>
<circle cx="310.0" cy="78.1" r="2.9" fill="#ff4e47" stroke="rgba(200,200,200,0.85)" stroke-width="0.8"/>
<circle cx="320.1" cy="94.4" r="2.9" fill="#ff4e47" stroke="rgba(200,200,200,0.85)" stroke-width="0.8"/>
<circle cx="329.5" cy="122.9" r="2.9" fill="#ff4e47" stroke="rgba(200,200,200,0.85)" stroke-width="0.8"/>
<circle cx="326.7" cy="103.8" r="2.9" fill="#ff4e47" stroke="rgba(200,200,200,0.85)" stroke-width="0.8"/>
<circle cx="316.1" cy="79.5" r="2.9" fill="#ff4747" stroke="rgba(200,200,200,0.85)" stroke-width="0.8"/>
<circle cx="318.6" cy="112.7" r="2.9" fill="#ff4747" stroke="rgba(200,200,200,0.85)" stroke-width="0.8"/>
<circle cx="340.3" cy="123.5" r="2.9" fill="#f24747" stroke="rgba(200,200,200,0.85)" stroke-width="0.8"/>
<circle cx="319.5" cy="85.6" r="2.9" fill="#e04747" stroke="rgba(200,200,200,0.85)" stroke-width="0.8"/>
<circle cx="339.6" cy="143.9" r="2.9" fill="#c54747" stroke="rgba(200,200,200,0.85)" stroke-width="0.8"/>
<circle cx="254.0" cy="51.0" r="2.9" fill="#b64747" stroke="rgba(200,200,200,0.85)" stroke-width="0.8"/>
<circle cx="324.0" cy="128.3" r="2.9" fill="#b64747" stroke="rgba(200,200,200,0.85)" stroke-width="0.8"/>
<circle cx="344.4" cy="117.4" r="2.9" fill="#ac4747" stroke="rgba(200,200,200,0.85)" stroke-width="0.8"/>
<circle cx="328.1" cy="133.0" r="2.9" fill="#ac4747" stroke="rgba(200,200,200,0.85)" stroke-width="0.8"/>
<circle cx="323.5" cy="86.9" r="2.9" fill="#844747" stroke="rgba(200,200,200,0.85)" stroke-width="0.8"/>
<path d="M206.40,39.60 C206.42,41.67 206.43,48.60 206.50,52.00 C206.57,55.40 206.62,57.15 206.80,60.00 C206.98,62.85 207.02,65.95 207.60,69.10 C208.18,72.25 209.12,76.18 210.30,78.90 C211.48,81.62 213.38,83.55 214.70,85.40 C216.02,87.25 217.22,88.40 218.20,90.00 C219.18,91.60 220.02,93.50 220.60,95.00 C221.18,96.50 221.65,97.75 221.70,99.00 C221.75,100.25 221.35,101.35 220.90,102.50 C220.45,103.65 219.95,104.25 219.00,105.90 C218.05,107.55 216.65,110.42 215.20,112.40 C213.75,114.38 211.57,116.17 210.30,117.80 C209.03,119.43 208.22,120.57 207.60,122.20 C206.98,123.83 206.80,124.63 206.60,127.60 C206.40,130.57 206.43,128.45 206.40,140.00 C206.37,151.55 206.40,187.42 206.40,196.90 L206.20,196.90 L206.20,39.60 Z" fill="#90ee90" stroke="none"/>
<path d="M206.40,39.60 C206.42,41.67 206.43,48.60 206.50,52.00 C206.57,55.40 206.62,57.15 206.80,60.00 C206.98,62.85 207.02,65.95 207.60,69.10 C208.18,72.25 209.12,76.18 210.30,78.90 C211.48,81.62 213.38,83.55 214.70,85.40 C216.02,87.25 217.22,88.40 218.20,90.00 C219.18,91.60 220.02,93.50 220.60,95.00 C221.18,96.50 221.65,97.75 221.70,99.00 C221.75,100.25 221.35,101.35 220.90,102.50 C220.45,103.65 219.95,104.25 219.00,105.90 C218.05,107.55 216.65,110.42 215.20,112.40 C213.75,114.38 211.57,116.17 210.30,117.80 C209.03,119.43 208.22,120.57 207.60,122.20 C206.98,123.83 206.80,124.63 206.60,127.60 C206.40,130.57 206.43,128.45 206.40,140.00 C206.37,151.55 206.40,187.42 206.40,196.90" fill="none" stroke="#0a300a" stroke-width="1.9" stroke-linejoin="round"/>
<path d="M206.20,196.80 C210.17,196.75 223.52,196.80 230.00,196.50 C236.48,196.20 239.67,195.83 245.10,195.00 C250.53,194.17 258.75,192.43 262.60,191.50 C266.45,190.57 266.27,190.27 268.20,189.40 C270.13,188.53 272.20,187.08 274.20,186.30 C276.20,185.52 278.27,185.05 280.20,184.70 C282.13,184.35 284.03,184.23 285.80,184.20 C287.57,184.17 288.73,184.13 290.80,184.50 C292.87,184.87 295.48,185.72 298.20,186.40 C300.92,187.08 304.77,187.77 307.10,188.60 C309.43,189.43 310.45,190.53 312.20,191.40 C313.95,192.27 315.55,193.03 317.60,193.80 C319.65,194.57 322.23,195.55 324.50,196.00 C326.77,196.45 327.70,196.38 331.20,196.50 C334.70,196.62 339.93,196.65 345.50,196.70 C351.07,196.75 361.42,196.78 364.60,196.80 L364.60,196.90 L206.20,196.90 Z" fill="#90ee90" stroke="none"/>
<path d="M206.20,196.80 C210.17,196.75 223.52,196.80 230.00,196.50 C236.48,196.20 239.67,195.83 245.10,195.00 C250.53,194.17 258.75,192.43 262.60,191.50 C266.45,190.57 266.27,190.27 268.20,189.40 C270.13,188.53 272.20,187.08 274.20,186.30 C276.20,185.52 278.27,185.05 280.20,184.70 C282.13,184.35 284.03,184.23 285.80,184.20 C287.57,184.17 288.73,184.13 290.80,184.50 C292.87,184.87 295.48,185.72 298.20,186.40 C300.92,187.08 304.77,187.77 307.10,188.60 C309.43,189.43 310.45,190.53 312.20,191.40 C313.95,192.27 315.55,193.03 317.60,193.80 C319.65,194.57 322.23,195.55 324.50,196.00 C326.77,196.45 327.70,196.38 331.20,196.50 C334.70,196.62 339.93,196.65 345.50,196.70 C351.07,196.75 361.42,196.78 364.60,196.80" fill="none" stroke="#000" stroke-width="2.1" stroke-linejoin="round"/>
<line x1="206.2" y1="131.52" x2="364.6" y2="131.52" stroke="#000" stroke-width="0.9" stroke-dasharray="2.35,1.15"/>
<line x1="307.18" y1="39.6" x2="307.18" y2="196.9" stroke="#000" stroke-width="0.9" stroke-dasharray="2.35,1.15"/>
<circle cx="285.40" cy="98.70" r="5.3" fill="#008000"/>
<circle cx="298.30" cy="102.50" r="3.6" fill="#00008b" stroke="#00008b" stroke-width="1"/>
<circle cx="301.30" cy="105.30" r="3.3" fill="#3399ff" stroke="#00008b" stroke-width="1"/>
<circle cx="305.10" cy="103.10" r="3.2" fill="#add8e6" stroke="#00008b" stroke-width="1"/>
<line x1="206.2" y1="98.59" x2="364.6" y2="98.59" stroke="#000" stroke-width="2.1"/>
<line x1="285.40" y1="39.6" x2="285.40" y2="196.9" stroke="#000" stroke-width="2.1"/>
<path d="M307.18,125.22 L308.89,129.47 L313.46,129.78 L309.94,132.72 L311.06,137.16 L307.18,134.73 L303.30,137.16 L304.42,132.72 L300.90,129.78 L305.47,129.47Z" fill="#000" stroke="#000" stroke-width="1" stroke-linejoin="round"/>
</g>
<rect x="206.2" y="39.6" width="158.4" height="157.3" fill="none" stroke="#000" stroke-width="1.0"/>
<line x1="206.20" y1="196.9" x2="206.20" y2="201.5" stroke="#000" stroke-width="1.0"/>
<line x1="245.80" y1="196.9" x2="245.80" y2="201.5" stroke="#000" stroke-width="1.0"/>
<line x1="285.40" y1="196.9" x2="285.40" y2="201.5" stroke="#000" stroke-width="1.0"/>
<line x1="325.00" y1="196.9" x2="325.00" y2="201.5" stroke="#000" stroke-width="1.0"/>
<line x1="364.60" y1="196.9" x2="364.60" y2="201.5" stroke="#000" stroke-width="1.0"/>
<line x1="201.6" y1="59.26" x2="206.2" y2="59.26" stroke="#000" stroke-width="1.0"/>
<line x1="201.6" y1="98.59" x2="206.2" y2="98.59" stroke="#000" stroke-width="1.0"/>
<line x1="201.6" y1="137.91" x2="206.2" y2="137.91" stroke="#000" stroke-width="1.0"/>
<line x1="201.6" y1="177.24" x2="206.2" y2="177.24" stroke="#000" stroke-width="1.0"/>
<text x="206.20" y="217.00" font-size="13.99" text-anchor="middle" textLength="21.56" lengthAdjust="spacingAndGlyphs" >-40</text>
<text x="245.80" y="217.00" font-size="13.99" text-anchor="middle" textLength="21.56" lengthAdjust="spacingAndGlyphs" >-20</text>
<text x="285.40" y="217.00" font-size="13.99" text-anchor="middle" textLength="8.40" lengthAdjust="spacingAndGlyphs" >0</text>
<text x="325.00" y="217.00" font-size="13.99" text-anchor="middle" textLength="16.80" lengthAdjust="spacingAndGlyphs" >20</text>
<text x="285.40" y="235.90" font-size="14.36" text-anchor="middle" textLength="131.18" lengthAdjust="spacingAndGlyphs" >Precip (mm/month)</text>
<text x="219.80" y="64.00" font-size="19.28" text-anchor="start" textLength="25.76" lengthAdjust="spacingAndGlyphs" >(b)</text>
<rect x="202.4" y="251.5" width="162.70000000000002" height="114.5" rx="2.5" fill="#fff" fill-opacity="0.8" stroke="#cfcfcf" stroke-width="1"/>
<path d="M223.40,256.50 L225.39,261.46 L230.72,261.82 L226.62,265.25 L227.93,270.43 L223.40,267.59 L218.87,270.43 L220.18,265.25 L216.08,261.82 L221.41,261.46Z" fill="#000" stroke="#000" stroke-width="1.2" stroke-linejoin="round"/>
<text x="250.40" y="269.90" font-size="15.63" text-anchor="start" textLength="70.89" lengthAdjust="spacingAndGlyphs" >Obs 1816</text>
<circle cx="223.4" cy="286.20" r="4.8" fill="#008000"/>
<text x="250.40" y="291.90" font-size="15.63" text-anchor="start" textLength="108.18" lengthAdjust="spacingAndGlyphs" >Mean of all yrs</text>
<circle cx="223.4" cy="308.20" r="4.3" fill="#add8e6" stroke="#00008b" stroke-width="1.2"/>
<text x="250.40" y="313.90" font-size="15.63" text-anchor="start" textLength="81.05" lengthAdjust="spacingAndGlyphs" >26 analogs</text>
<circle cx="223.4" cy="330.20" r="4.3" fill="#3399ff" stroke="#00008b" stroke-width="1.2"/>
<text x="250.40" y="335.90" font-size="15.63" text-anchor="start" textLength="81.05" lengthAdjust="spacingAndGlyphs" >61 analogs</text>
<circle cx="223.4" cy="352.20" r="4.3" fill="#00008b" stroke="#00008b" stroke-width="1.2"/>
<text x="250.40" y="357.90" font-size="15.63" text-anchor="start" textLength="90.44" lengthAdjust="spacingAndGlyphs" >141 analogs</text>
<g clip-path="url(#clipc)">
<circle cx="488.9" cy="147.3" r="2.9" fill="#ffffff" stroke="rgba(200,200,200,0.85)" stroke-width="0.8"/>
<circle cx="468.8" cy="142.4" r="2.9" fill="#ffffff" stroke="rgba(200,200,200,0.85)" stroke-width="0.8"/>
<circle cx="420.9" cy="100.5" r="2.9" fill="#ffffff" stroke="rgba(200,200,200,0.85)" stroke-width="0.8"/>
<circle cx="427.7" cy="100.5" r="2.9" fill="#ffffff" stroke="rgba(200,200,200,0.85)" stroke-width="0.8"/>
<circle cx="437.4" cy="100.5" r="2.9" fill="#ffffff" stroke="rgba(200,200,200,0.85)" stroke-width="0.8"/>
<circle cx="453.0" cy="111.2" r="2.9" fill="#ffffff" stroke="rgba(200,200,200,0.85)" stroke-width="0.8"/>
<circle cx="453.6" cy="105.2" r="2.9" fill="#ffffff" stroke="rgba(200,200,200,0.85)" stroke-width="0.8"/>
<circle cx="441.6" cy="121.5" r="2.9" fill="#ffffff" stroke="rgba(200,200,200,0.85)" stroke-width="0.8"/>
<circle cx="453.0" cy="132.6" r="2.9" fill="#ffffff" stroke="rgba(200,200,200,0.85)" stroke-width="0.8"/>
<circle cx="442.2" cy="139.7" r="2.9" fill="#ffffff" stroke="rgba(200,200,200,0.85)" stroke-width="0.8"/>
<circle cx="435.1" cy="120.6" r="2.9" fill="#ffffff" stroke="rgba(200,200,200,0.85)" stroke-width="0.8"/>
<circle cx="431.4" cy="130.4" r="2.9" fill="#ffffff" stroke="rgba(200,200,200,0.85)" stroke-width="0.8"/>
<circle cx="441.1" cy="138.6" r="2.9" fill="#ffffff" stroke="rgba(200,200,200,0.85)" stroke-width="0.8"/>
<circle cx="496.6" cy="113.6" r="2.9" fill="#ffffc8" stroke="rgba(200,200,200,0.85)" stroke-width="0.8"/>
<circle cx="442.2" cy="115.0" r="2.9" fill="#ffffbd" stroke="rgba(200,200,200,0.85)" stroke-width="0.8"/>
<circle cx="443.3" cy="116.9" r="2.9" fill="#ffffbd" stroke="rgba(200,200,200,0.85)" stroke-width="0.8"/>
<circle cx="443.3" cy="125.9" r="2.9" fill="#ffffbd" stroke="rgba(200,200,200,0.85)" stroke-width="0.8"/>
<circle cx="443.8" cy="125.3" r="2.9" fill="#ffffb6" stroke="rgba(200,200,200,0.85)" stroke-width="0.8"/>
<circle cx="431.4" cy="115.4" r="2.9" fill="#ffffb6" stroke="rgba(200,200,200,0.85)" stroke-width="0.8"/>
<circle cx="459.6" cy="104.1" r="2.9" fill="#ffffb1" stroke="rgba(200,200,200,0.85)" stroke-width="0.8"/>
<circle cx="464.5" cy="150.0" r="2.9" fill="#ffffb1" stroke="rgba(200,200,200,0.85)" stroke-width="0.8"/>
<circle cx="458.5" cy="141.3" r="2.9" fill="#ffffb1" stroke="rgba(200,200,200,0.85)" stroke-width="0.8"/>
<circle cx="461.7" cy="133.7" r="2.9" fill="#ffffb1" stroke="rgba(200,200,200,0.85)" stroke-width="0.8"/>
<circle cx="441.1" cy="133.7" r="2.9" fill="#ffffb1" stroke="rgba(200,200,200,0.85)" stroke-width="0.8"/>
<circle cx="439.6" cy="115.4" r="2.9" fill="#ffffb1" stroke="rgba(200,200,200,0.85)" stroke-width="0.8"/>
<circle cx="444.1" cy="87.9" r="2.9" fill="#ffffb1" stroke="rgba(200,200,200,0.85)" stroke-width="0.8"/>
<circle cx="480.2" cy="150.0" r="2.9" fill="#ffffac" stroke="rgba(200,200,200,0.85)" stroke-width="0.8"/>
<circle cx="472.6" cy="112.3" r="2.9" fill="#ffff8f" stroke="rgba(200,200,200,0.85)" stroke-width="0.8"/>
<circle cx="462.3" cy="157.1" r="2.9" fill="#ffff8f" stroke="rgba(200,200,200,0.85)" stroke-width="0.8"/>
<circle cx="442.2" cy="93.8" r="2.9" fill="#ffff69" stroke="rgba(200,200,200,0.85)" stroke-width="0.8"/>
<circle cx="457.4" cy="109.0" r="2.9" fill="#ffff69" stroke="rgba(200,200,200,0.85)" stroke-width="0.8"/>
<circle cx="458.5" cy="113.4" r="2.9" fill="#ffff69" stroke="rgba(200,200,200,0.85)" stroke-width="0.8"/>
<circle cx="467.2" cy="113.4" r="2.9" fill="#ffff69" stroke="rgba(200,200,200,0.85)" stroke-width="0.8"/>
<circle cx="475.3" cy="123.2" r="2.9" fill="#ffff69" stroke="rgba(200,200,200,0.85)" stroke-width="0.8"/>
<circle cx="446.5" cy="107.4" r="2.9" fill="#ffff69" stroke="rgba(200,200,200,0.85)" stroke-width="0.8"/>
<circle cx="446.0" cy="127.5" r="2.9" fill="#ffff69" stroke="rgba(200,200,200,0.85)" stroke-width="0.8"/>
<circle cx="489.6" cy="117.9" r="2.9" fill="#ffff69" stroke="rgba(200,200,200,0.85)" stroke-width="0.8"/>
<circle cx="475.4" cy="123.4" r="2.9" fill="#ffff69" stroke="rgba(200,200,200,0.85)" stroke-width="0.8"/>
<circle cx="471.6" cy="112.0" r="2.9" fill="#ffff69" stroke="rgba(200,200,200,0.85)" stroke-width="0.8"/>
<circle cx="446.0" cy="129.3" r="2.9" fill="#ffff69" stroke="rgba(200,200,200,0.85)" stroke-width="0.8"/>
<circle cx="438.1" cy="122.1" r="2.9" fill="#ffff69" stroke="rgba(200,200,200,0.85)" stroke-width="0.8"/>
<circle cx="439.6" cy="130.4" r="2.9" fill="#ffff69" stroke="rgba(200,200,200,0.85)" stroke-width="0.8"/>
<circle cx="432.1" cy="137.8" r="2.9" fill="#ffff69" stroke="rgba(200,200,200,0.85)" stroke-width="0.8"/>
<circle cx="442.0" cy="94.1" r="2.9" fill="#ffff69" stroke="rgba(200,200,200,0.85)" stroke-width="0.8"/>
<circle cx="453.0" cy="98.2" r="2.9" fill="#fffc47" stroke="rgba(200,200,200,0.85)" stroke-width="0.8"/>
<circle cx="498.2" cy="156.5" r="2.9" fill="#fffc47" stroke="rgba(200,200,200,0.85)" stroke-width="0.8"/>
<circle cx="453.2" cy="97.4" r="2.9" fill="#ffc847" stroke="rgba(200,200,200,0.85)" stroke-width="0.8"/>
<circle cx="463.9" cy="137.5" r="2.9" fill="#ffc247" stroke="rgba(200,200,200,0.85)" stroke-width="0.8"/>
<circle cx="461.7" cy="112.3" r="2.9" fill="#ffad47" stroke="rgba(200,200,200,0.85)" stroke-width="0.8"/>
<circle cx="464.5" cy="117.7" r="2.9" fill="#ffad47" stroke="rgba(200,200,200,0.85)" stroke-width="0.8"/>
<circle cx="466.1" cy="132.6" r="2.9" fill="#ffad47" stroke="rgba(200,200,200,0.85)" stroke-width="0.8"/>
<circle cx="466.6" cy="105.2" r="2.9" fill="#ff5d47" stroke="rgba(200,200,200,0.85)" stroke-width="0.8"/>
<circle cx="440.5" cy="110.1" r="2.9" fill="#ff5d47" stroke="rgba(200,200,200,0.85)" stroke-width="0.8"/>
<circle cx="462.3" cy="102.0" r="2.9" fill="#ff4e47" stroke="rgba(200,200,200,0.85)" stroke-width="0.8"/>
<circle cx="471.0" cy="118.3" r="2.9" fill="#ff4e47" stroke="rgba(200,200,200,0.85)" stroke-width="0.8"/>
<circle cx="471.6" cy="118.5" r="2.9" fill="#ff4e47" stroke="rgba(200,200,200,0.85)" stroke-width="0.8"/>
<circle cx="438.9" cy="110.9" r="2.9" fill="#ff4e47" stroke="rgba(200,200,200,0.85)" stroke-width="0.8"/>
<circle cx="483.0" cy="133.7" r="2.9" fill="#f24747" stroke="rgba(200,200,200,0.85)" stroke-width="0.8"/>
<circle cx="486.3" cy="126.6" r="2.9" fill="#a24747" stroke="rgba(200,200,200,0.85)" stroke-width="0.8"/>
<circle cx="479.1" cy="119.3" r="2.9" fill="#934747" stroke="rgba(200,200,200,0.85)" stroke-width="0.8"/>
<circle cx="479.8" cy="119.6" r="2.9" fill="#934747" stroke="rgba(200,200,200,0.85)" stroke-width="0.8"/>
<circle cx="492.8" cy="129.3" r="2.9" fill="#934747" stroke="rgba(200,200,200,0.85)" stroke-width="0.8"/>
<path d="M369.80,80.00 C370.02,82.00 370.53,88.83 371.10,92.00 C371.67,95.17 372.05,96.87 373.20,99.00 C374.35,101.13 376.77,103.13 378.00,104.80 C379.23,106.47 379.92,107.63 380.60,109.00 C381.28,110.37 381.70,111.25 382.10,113.00 C382.50,114.75 383.00,117.67 383.00,119.50 C383.00,121.33 382.52,122.65 382.10,124.00 C381.68,125.35 380.80,126.43 380.50,127.60 C380.20,128.77 380.30,129.90 380.30,131.00 C380.30,132.10 381.28,132.58 380.50,134.20 C379.72,135.82 376.97,138.53 375.60,140.70 C374.23,142.87 373.22,144.48 372.30,147.20 C371.38,149.92 370.52,154.03 370.10,157.00 C369.68,159.97 369.85,163.67 369.80,165.00 L369.60,165.00 L369.60,80.00 Z" fill="#90ee90" stroke="none"/>
<path d="M369.80,80.00 C370.02,82.00 370.53,88.83 371.10,92.00 C371.67,95.17 372.05,96.87 373.20,99.00 C374.35,101.13 376.77,103.13 378.00,104.80 C379.23,106.47 379.92,107.63 380.60,109.00 C381.28,110.37 381.70,111.25 382.10,113.00 C382.50,114.75 383.00,117.67 383.00,119.50 C383.00,121.33 382.52,122.65 382.10,124.00 C381.68,125.35 380.80,126.43 380.50,127.60 C380.20,128.77 380.30,129.90 380.30,131.00 C380.30,132.10 381.28,132.58 380.50,134.20 C379.72,135.82 376.97,138.53 375.60,140.70 C374.23,142.87 373.22,144.48 372.30,147.20 C371.38,149.92 370.52,154.03 370.10,157.00 C369.68,159.97 369.85,163.67 369.80,165.00" fill="none" stroke="#2ca02c" stroke-width="1.0" stroke-linejoin="round"/>
<path d="M369.80,39.60 C369.82,41.67 369.83,48.60 369.90,52.00 C369.97,55.40 369.93,57.27 370.20,60.00 C370.47,62.73 370.87,65.37 371.50,68.40 C372.13,71.43 372.77,75.48 374.00,78.20 C375.23,80.92 377.40,82.53 378.90,84.70 C380.40,86.87 382.00,88.93 383.00,91.20 C384.00,93.47 385.05,96.03 384.90,98.30 C384.75,100.57 383.52,102.50 382.10,104.80 C380.68,107.10 378.17,109.65 376.40,112.10 C374.63,114.55 372.53,117.18 371.50,119.50 C370.47,121.82 370.48,122.58 370.20,126.00 C369.92,129.42 369.87,128.18 369.80,140.00 C369.73,151.82 369.80,187.42 369.80,196.90" fill="none" stroke="#000" stroke-width="2.1" stroke-linejoin="round"/>
<path d="M409.60,196.80 C410.52,196.75 411.87,197.08 415.10,196.50 C418.33,195.92 424.93,194.72 429.00,193.30 C433.07,191.88 436.20,189.17 439.50,188.00 C442.80,186.83 446.67,186.88 448.80,186.30 C450.93,185.72 450.55,185.57 452.30,184.50 C454.05,183.43 457.35,180.33 459.30,179.90 C461.25,179.47 462.25,180.45 464.00,181.90 C465.75,183.35 467.68,186.90 469.80,188.60 C471.92,190.30 474.00,191.52 476.70,192.10 C479.40,192.68 482.70,191.72 486.00,192.10 C489.30,192.48 492.83,193.67 496.50,194.40 C500.17,195.13 504.98,196.10 508.00,196.50 C511.02,196.90 513.50,196.75 514.60,196.80 L514.60,196.90 L409.60,196.90 Z" fill="#90ee90" stroke="none"/>
<path d="M409.60,196.80 C410.52,196.75 411.87,197.08 415.10,196.50 C418.33,195.92 424.93,194.72 429.00,193.30 C433.07,191.88 436.20,189.17 439.50,188.00 C442.80,186.83 446.67,186.88 448.80,186.30 C450.93,185.72 450.55,185.57 452.30,184.50 C454.05,183.43 457.35,180.33 459.30,179.90 C461.25,179.47 462.25,180.45 464.00,181.90 C465.75,183.35 467.68,186.90 469.80,188.60 C471.92,190.30 474.00,191.52 476.70,192.10 C479.40,192.68 482.70,191.72 486.00,192.10 C489.30,192.48 492.83,193.67 496.50,194.40 C500.17,195.13 504.98,196.10 508.00,196.50 C511.02,196.90 513.50,196.75 514.60,196.80" fill="none" stroke="#2ca02c" stroke-width="1.0" stroke-linejoin="round"/>
<path d="M369.60,196.80 C373.57,196.75 386.92,196.80 393.40,196.50 C399.88,196.20 403.07,195.83 408.50,195.00 C413.93,194.17 422.15,192.43 426.00,191.50 C429.85,190.57 429.67,190.27 431.60,189.40 C433.53,188.53 435.60,187.08 437.60,186.30 C439.60,185.52 441.67,185.05 443.60,184.70 C445.53,184.35 447.43,184.23 449.20,184.20 C450.97,184.17 452.13,184.13 454.20,184.50 C456.27,184.87 458.88,185.72 461.60,186.40 C464.32,187.08 468.17,187.77 470.50,188.60 C472.83,189.43 473.85,190.53 475.60,191.40 C477.35,192.27 478.95,193.03 481.00,193.80 C483.05,194.57 485.63,195.55 487.90,196.00 C490.17,196.45 491.10,196.38 494.60,196.50 C498.10,196.62 503.33,196.65 508.90,196.70 C514.47,196.75 524.82,196.78 528.00,196.80" fill="none" stroke="#000" stroke-width="2.1" stroke-linejoin="round"/>
<line x1="369.6" y1="131.52" x2="528.0" y2="131.52" stroke="#000" stroke-width="0.9" stroke-dasharray="2.35,1.15"/>
<line x1="470.58" y1="39.6" x2="470.58" y2="196.9" stroke="#000" stroke-width="0.9" stroke-dasharray="2.35,1.15"/>
<circle cx="458.20" cy="122.50" r="5.6" fill="#008000"/>
<circle cx="484.70" cy="121.20" r="4.0" fill="#00008b" stroke="#00008b" stroke-width="1"/>
<circle cx="484.70" cy="121.20" r="3.0" fill="#3399ff" stroke="#00008b" stroke-width="1"/>
<circle cx="477.10" cy="113.00" r="3.2" fill="#add8e6" stroke="#00008b" stroke-width="1"/>
<line x1="369.6" y1="98.59" x2="528.0" y2="98.59" stroke="#000" stroke-width="2.1"/>
<line x1="448.80" y1="39.6" x2="448.80" y2="196.9" stroke="#000" stroke-width="2.1"/>
<path d="M470.58,125.22 L472.29,129.47 L476.86,129.78 L473.34,132.72 L474.46,137.16 L470.58,134.73 L466.70,137.16 L467.82,132.72 L464.30,129.78 L468.87,129.47Z" fill="#000" stroke="#000" stroke-width="1" stroke-linejoin="round"/>
</g>
<rect x="369.6" y="39.6" width="158.4" height="157.3" fill="none" stroke="#000" stroke-width="1.0"/>
<line x1="369.60" y1="196.9" x2="369.60" y2="201.5" stroke="#000" stroke-width="1.0"/>
<line x1="409.20" y1="196.9" x2="409.20" y2="201.5" stroke="#000" stroke-width="1.0"/>
<line x1="448.80" y1="196.9" x2="448.80" y2="201.5" stroke="#000" stroke-width="1.0"/>
<line x1="488.40" y1="196.9" x2="488.40" y2="201.5" stroke="#000" stroke-width="1.0"/>
<line x1="528.00" y1="196.9" x2="528.00" y2="201.5" stroke="#000" stroke-width="1.0"/>
<line x1="365.0" y1="59.26" x2="369.6" y2="59.26" stroke="#000" stroke-width="1.0"/>
<line x1="365.0" y1="98.59" x2="369.6" y2="98.59" stroke="#000" stroke-width="1.0"/>
<line x1="365.0" y1="137.91" x2="369.6" y2="137.91" stroke="#000" stroke-width="1.0"/>
<line x1="365.0" y1="177.24" x2="369.6" y2="177.24" stroke="#000" stroke-width="1.0"/>
<text x="369.60" y="217.00" font-size="13.99" text-anchor="middle" textLength="21.56" lengthAdjust="spacingAndGlyphs" >-40</text>
<text x="409.20" y="217.00" font-size="13.99" text-anchor="middle" textLength="21.56" lengthAdjust="spacingAndGlyphs" >-20</text>
<text x="448.80" y="217.00" font-size="13.99" text-anchor="middle" textLength="8.40" lengthAdjust="spacingAndGlyphs" >0</text>
<text x="488.40" y="217.00" font-size="13.99" text-anchor="middle" textLength="16.80" lengthAdjust="spacingAndGlyphs" >20</text>
<text x="448.80" y="235.90" font-size="14.36" text-anchor="middle" textLength="131.18" lengthAdjust="spacingAndGlyphs" >Precip (mm/month)</text>
<text x="383.20" y="64.00" font-size="19.28" text-anchor="start" textLength="24.21" lengthAdjust="spacingAndGlyphs" >(c)</text>
<rect x="366.9" y="251.5" width="161.80000000000007" height="114.5" rx="2.5" fill="#fff" fill-opacity="0.8" stroke="#cfcfcf" stroke-width="1"/>
<path d="M386.60,256.50 L388.59,261.46 L393.92,261.82 L389.82,265.25 L391.13,270.43 L386.60,267.59 L382.07,270.43 L383.38,265.25 L379.28,261.82 L384.61,261.46Z" fill="#000" stroke="#000" stroke-width="1.2" stroke-linejoin="round"/>
<text x="413.70" y="269.90" font-size="15.63" text-anchor="start" textLength="70.89" lengthAdjust="spacingAndGlyphs" >Obs 1816</text>
<circle cx="386.6" cy="286.20" r="4.8" fill="#008000"/>
<text x="413.70" y="291.90" font-size="15.63" text-anchor="start" textLength="108.18" lengthAdjust="spacingAndGlyphs" >Mean of all yrs</text>
<circle cx="386.6" cy="308.20" r="4.3" fill="#add8e6" stroke="#00008b" stroke-width="1.2"/>
<text x="413.70" y="313.90" font-size="15.63" text-anchor="start" textLength="63.99" lengthAdjust="spacingAndGlyphs" >1 analog</text>
<circle cx="386.6" cy="330.20" r="4.3" fill="#3399ff" stroke="#00008b" stroke-width="1.2"/>
<text x="413.70" y="335.90" font-size="15.63" text-anchor="start" textLength="71.67" lengthAdjust="spacingAndGlyphs" >2 analogs</text>
<circle cx="386.6" cy="352.20" r="4.3" fill="#00008b" stroke="#00008b" stroke-width="1.2"/>
<text x="413.70" y="357.90" font-size="15.63" text-anchor="start" textLength="71.67" lengthAdjust="spacingAndGlyphs" >4 analogs</text>
<text x="32.80" y="64.66" font-size="13.99" text-anchor="end" textLength="8.40" lengthAdjust="spacingAndGlyphs" >2</text>
<text x="32.80" y="103.99" font-size="13.99" text-anchor="end" textLength="8.40" lengthAdjust="spacingAndGlyphs" >0</text>
<text x="32.80" y="143.31" font-size="13.99" text-anchor="end" textLength="13.16" lengthAdjust="spacingAndGlyphs" >-2</text>
<text x="32.80" y="182.64" font-size="13.99" text-anchor="end" textLength="13.16" lengthAdjust="spacingAndGlyphs" >-4</text>
<text transform="translate(11.2,117.0) rotate(-90)" font-size="14.36" text-anchor="middle" textLength="122.0" lengthAdjust="spacingAndGlyphs">Temperature ( °C)</text>
<text x="122.20" y="32.20" font-size="17.32" text-anchor="middle" textLength="108.08" lengthAdjust="spacingAndGlyphs" >Observations</text>
<text x="285.40" y="32.20" font-size="17.32" text-anchor="middle" textLength="115.17" lengthAdjust="spacingAndGlyphs" >Model No Volc</text>
<text x="448.80" y="13.90" font-size="17.32" text-anchor="middle" textLength="130.06" lengthAdjust="spacingAndGlyphs" >Model With Volc</text>
<text x="448.80" y="32.00" font-size="17.32" text-anchor="middle" textLength="116.18" lengthAdjust="spacingAndGlyphs" >Summer 1816</text>
<rect x="549.4" y="36.7" width="8.200000000000045" height="164.39999999999998" fill="url(#cbar)" stroke="#000" stroke-width="1.0"/>
<line x1="557.6" y1="201.10" x2="562.2" y2="201.10" stroke="#000" stroke-width="1.0"/>
<text x="567.60" y="206.50" font-size="13.99" text-anchor="start" textLength="16.80" lengthAdjust="spacingAndGlyphs" >10</text>
<line x1="557.6" y1="165.20" x2="562.2" y2="165.20" stroke="#000" stroke-width="1.0"/>
<text x="567.60" y="170.60" font-size="13.99" text-anchor="start" textLength="16.80" lengthAdjust="spacingAndGlyphs" >15</text>
<line x1="557.6" y1="129.31" x2="562.2" y2="129.31" stroke="#000" stroke-width="1.0"/>
<text x="567.60" y="134.71" font-size="13.99" text-anchor="start" textLength="16.80" lengthAdjust="spacingAndGlyphs" >20</text>
<line x1="557.6" y1="93.41" x2="562.2" y2="93.41" stroke="#000" stroke-width="1.0"/>
<text x="567.60" y="98.81" font-size="13.99" text-anchor="start" textLength="16.80" lengthAdjust="spacingAndGlyphs" >25</text>
<line x1="557.6" y1="57.52" x2="562.2" y2="57.52" stroke="#000" stroke-width="1.0"/>
<text x="567.60" y="62.92" font-size="13.99" text-anchor="start" textLength="16.80" lengthAdjust="spacingAndGlyphs" >30</text>
<text transform="translate(600.7,120.7) rotate(-90)" font-size="14.36" text-anchor="middle" textLength="38.27" lengthAdjust="spacingAndGlyphs">RMSE</text>
</svg></body></html>
